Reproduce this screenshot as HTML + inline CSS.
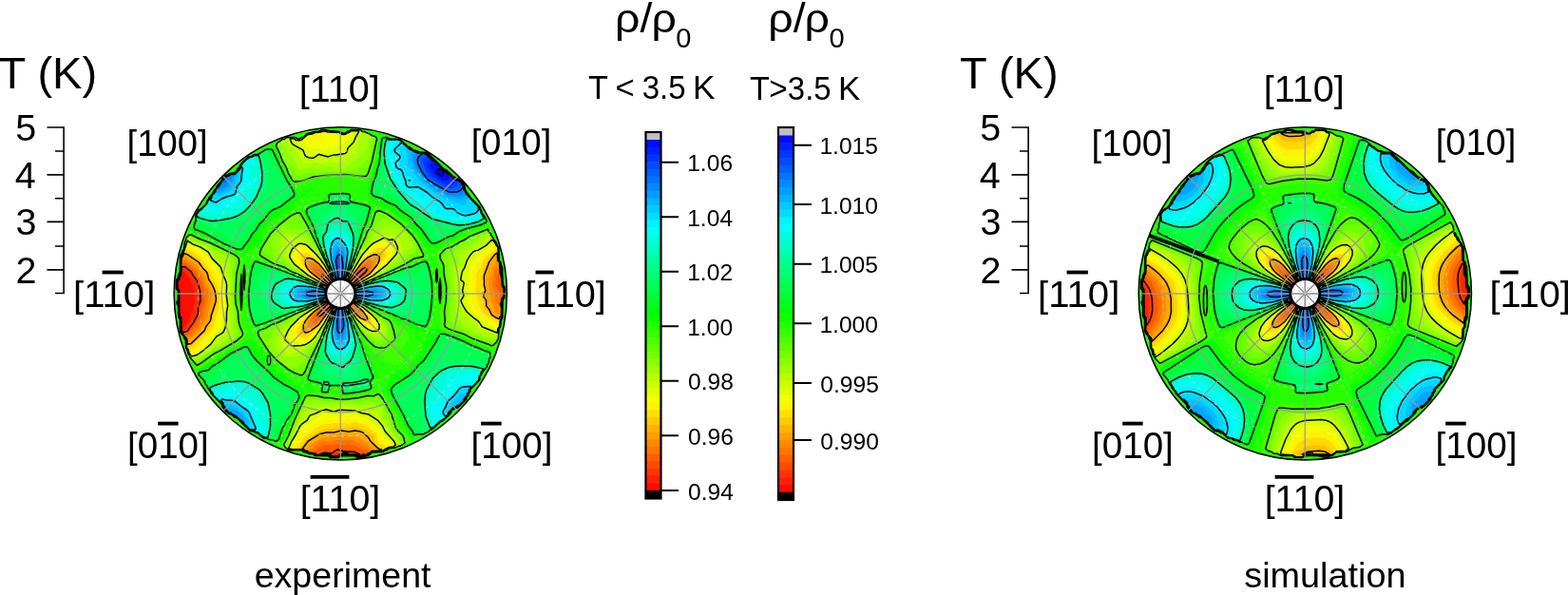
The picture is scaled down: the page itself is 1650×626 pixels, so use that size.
<!DOCTYPE html><html><head><meta charset="utf-8"><style>html,body{margin:0;padding:0;background:#fff;overflow:hidden}svg{display:block}text{font-family:"Liberation Sans", Arial, Helvetica, sans-serif;fill:#000}</style></head><body>
<svg width="1650" height="626" viewBox="0 0 1650 626">
<defs>
<clipPath id="c0"><circle cx="358.3" cy="308.9" r="175.1"/></clipPath>
<clipPath id="c1"><circle cx="1373.3" cy="308.9" r="175.1"/></clipPath>
</defs>
<rect width="1650" height="626" fill="#fff"/>
<g clip-path="url(#c0)">
<rect x="181.2" y="131.8" width="354.2" height="354.2" fill="#ff0d00"/>
<path fill="#ff2600" d="M179.2 488 537.4 488 537.4 129.8 179.2 129.8 179.2 486ZM191.2 345.1 190.8 333.9 189.1 331.9 188.9 329.9 188.9 305.9 187.2 303.7 186.9 301.9 186.9 295.9 188.9 293.9 189.2 291.5 190.9 289.9 191.2 286.7 193.2 286.2 195.2 286.9 196.2 287.9 199.2 294.1 201.8 297.9 204.5 305.9 204.5 311.9 205.1 315.9 205.1 317.9 203.2 322.1 200.4 333.9 195.2 342.8 193.2 344.1ZM345.3 322.2 345.3 321.6 345.6 321.9ZM347.3 320.8 346.5 319.9 347.3 319.2 348 319.9ZM349.3 318.7 348.5 317.9 349.3 317.4 349.8 317.9ZM351.3 316.3 350.9 315.9 351.5 315.9ZM353.3 314 353.3 313.9ZM355.3 311.9 355.3 311.9ZM359.3 308 359.3 307.9ZM361.3 305.9 361.3 305.9ZM363.3 303.9 363.3 303.9Z"/>
<path fill="#ff4000" d="M179.2 488 537.4 488 537.4 129.8 179.2 129.8 179.2 486ZM191.2 347.9 190.7 333.9 189 331.9 188.8 329.9 188.8 305.9 187.1 303.9 186.8 295.9 188.8 293.9 189.2 291.2 190.6 289.9 191.2 283.1 193.2 282.9 195.2 283.3 198.7 285.9 202.1 291.9 205.5 295.9 208.3 305.9 208.5 315.9 208.4 317.9 206.3 323.9 206.4 329.9 205.5 331.9 196.6 345.9 195.2 347 192 347.9ZM339.3 328.5 338.9 327.9 341.5 323.9 345.2 319.9 350.2 315.9 351.3 315.3 351.9 315.9 349.3 319.8 343.3 325.8 340.1 327.9ZM349.3 480 349.3 479.4 355.3 476 359.3 477.4 359.4 478 357.3 478 355.3 480 351.3 480ZM361.3 306 361.6 305.9ZM363.3 304.1 363.3 303.4 363.8 303.9ZM365.3 302.3 364.9 301.9 365.3 301.3 366 301.9ZM367.3 300.4 366.8 299.9 367.3 299.2 368.1 299.9ZM369.3 298.5 368.7 297.9 369.3 297.1 370.3 297.9ZM371.3 296.9 370.5 295.9 371.3 294.7 379.3 285.9 383.3 284 383.4 285.9 372.9 295.9ZM343.3 294.5 342.6 293.9 343.3 293.3 343.8 293.9ZM345.3 296.3 344.7 295.9 345.3 295.4 345.7 295.9ZM347.3 298.2 346.9 297.9 347.3 297.5 347.5 297.9ZM353.3 314.4 352.8 313.9 353.6 313.9ZM355.3 312.1 355.4 311.9ZM357.3 310 357.4 307.9 359.4 307.9 359.3 308.7 358 309.9Z"/>
<path fill="#ff5900" d="M179.2 488 537.4 488 537.4 129.8 179.2 129.8 179.2 486ZM193.2 350.3 191.1 347.9 190.5 333.9 188.9 331.9 188.7 305.9 187 303.9 186.7 301.9 186.7 295.9 188.6 293.9 189.2 290.9 190.3 289.9 190.9 287.9 191.2 279.8 193.2 279.6 195.2 280 201.2 284.8 208.6 295.9 211.5 305.9 211.6 311.9 212.4 315.9 212 317.9 209.4 323.9 209.6 329.9 208.7 331.9 204.6 339.9 198.9 347.9 197.2 349.5 195.2 350.1ZM349.3 480.1 347.3 478.1 333.3 478 333.3 477.4 339.3 475.2 343.3 475.1 347.3 476 349.3 475.7 353.3 472.2 355.3 471.6 363.3 473.5 373.3 474.2 379.3 477 383.3 476.7 385.3 477.1 385.4 478 367.3 478.1 365.3 476.2 363.3 476.1 361.3 476.3 359.7 478 357.3 478.2 355.3 480.1 351.3 480.2ZM527.4 302.3 527.4 301.9ZM529.4 305.9 528.1 303.9 529.4 303.9ZM333.3 334.2 332.9 331.9 334.4 329.9 346.8 317.9 353.3 313.4 353.8 313.9 353.3 314.9 347.3 322.7 339.3 331.1 335.3 333.9ZM355.3 312.4 354.8 311.9 355.5 311.9ZM357.3 310.1 357.3 307.8 359.5 307.9 359.3 309.3 358.7 309.9ZM361.3 306.1 361.3 305.4 361.8 305.9ZM363.3 304.4 362.8 303.9 363.3 303 364.2 303.9ZM365.3 302.8 364.5 301.9 365.3 300.6 377.3 286 381.3 282.4 383.3 281.3 385.3 281 386.6 281.9 386.7 283.9 385.7 285.9 366.7 301.9ZM349.3 300.7 345.2 297.9 340.7 293.9 335.9 287.9 337.3 286.8 341.3 289.6 347.3 295.9 350 299.9ZM351.3 302.2 350.8 301.9 351.3 301.4 351.6 301.9ZM353.3 304 353.4 303.9ZM355.3 306 355.4 305.9Z"/>
<path fill="#ff7300" d="M179.2 488 537.4 488 537.4 129.8 179.2 129.8 179.2 486ZM195.2 352.7 193.2 351.8 193 349.9 191 347.9 190.7 335.9 190.4 333.9 188.8 331.9 188.6 329.9 188.6 305.9 186.9 303.9 186.6 301.9 186.6 295.9 188.5 293.9 189.2 290.6 190.7 287.9 191.2 278.9 192.6 277.9 193.2 276.1 195.2 276.7 203.9 283.9 207.2 289.6 210.6 293.9 214.8 305.9 214.8 311.9 215.7 315.9 215.2 319.2 212.9 323.9 211.9 331.9 207.2 341.9 200.6 349.9 197.2 352.2ZM349.3 480.2 347.3 478.4 333.3 478.1 331.3 476.1 328.6 476 330.2 474 341.3 468.2 347.3 469 355.3 467.2 361.3 468.3 367.3 467.2 375.3 469.7 379.3 472.5 385.3 473.8 388.5 476 387.3 476.1 385.3 478.2 381.3 478.3 367.3 478.2 365.3 476.5 363.3 476.4 361.3 476.7 360.1 478 357.3 478.3 355.3 480.3 351.3 480.3ZM527.4 316 526.2 315.9 526.5 309.9 522.7 301.9 522.4 291.9 525.4 285.5 525.6 289.9 527.5 291.9 527.7 301.9 529.5 303.9 529.5 311.9 527.4 313.9 527.4 315.9ZM329.3 338 329.1 335.9 329.8 333.9 332.5 329.9 346.3 317.9 353.3 313.2 354 313.9 351.3 318.3 341.3 330.4 337.3 334.5 331.3 338.4ZM355.3 312.6 354.6 311.9 355.5 311.9ZM357.3 310.1 357.3 307.8 359.6 307.9 359.3 309.9ZM361.3 312 361.4 311.9ZM363.3 314 363.4 313.9ZM365.3 316 365.4 315.9ZM367.3 318.1 367.5 317.9ZM369.3 320.7 368.9 319.9 369.3 319.4 370.1 319.9ZM371.3 322.9 370.5 321.9 371.3 321.1 372.3 321.9ZM373.3 324.4 372.7 323.9 373.3 323.3 373.8 323.9ZM351.3 302.6 341.9 295.9 333.2 287.9 331.3 285.9 330.3 283.9 330 281.9 331.3 280.8 333.3 281.5 339.3 286.2 345.3 292.6 352 301.9ZM353.3 304.3 352.6 303.9 353.3 303.2 353.7 303.9ZM355.3 306 354.9 305.9 355.3 305.5 355.4 305.9ZM361.3 306.1 361.3 305.2 362 305.9ZM363.3 304.6 362.6 303.9 363.3 302.6 373.3 289.6 379.3 282.6 383.3 279.4 387.3 278.2 389 279.9 389 281.9 387.2 285.9 364.7 303.9Z"/>
<path fill="#ff8c00" d="M179.2 488 537.4 488 537.4 129.8 179.2 129.8 179.2 486ZM195.2 354.1 193.1 351.9 192.8 349.9 190.8 347.9 190.6 335.9 190.2 333.9 188.7 331.9 188.5 329.9 188.5 305.9 186.8 303.9 186.5 301.9 186.5 295.9 188.3 293.9 189.2 290.3 190.6 287.9 191.2 278 193.2 273.3 197.2 275.4 205.2 281.5 209.2 287.6 211.9 289.9 213.3 291.9 215.3 299.9 218.6 305.9 219.3 309.9 218.2 317.9 216.5 323.9 215.5 331.9 214.3 335.9 208.1 345.9 201.2 352.7 199.2 354.2 197.2 354.8ZM349.3 480.4 347.3 478.6 345.3 478.3 333.3 478.3 331.3 476.4 326.9 476 326.3 474 327.3 472.8 337.3 465.1 339.3 464.2 347.3 464.7 355.3 462.6 359.3 463.7 365.3 462.3 371.3 463.3 379.3 467.6 385.3 470 388.6 472 390.5 474 389.5 476 387.3 476.4 385.3 478.3 381.3 478.6 367.3 478.3 365.3 476.8 363.3 476.6 361.3 477.1 360.5 478 357.3 478.5 355.3 480.4 351.3 480.4ZM525.4 321.7 522.1 317.9 521.3 315.9 521.2 309.9 518.2 301.9 517.8 297.9 518.8 291.9 521.3 283.9 525.4 277.9 525.7 287.9 526.2 289.9 527.6 291.9 528.1 301.9 529.7 303.9 529.6 311.9 527.7 313.9 527.4 316.6 525.9 317.9 525.5 319.9ZM527.4 326.4 526.7 323.9 527.4 323.8 527.4 325.9ZM327.3 341.1 326.3 339.9 326.2 337.9 326.9 335.9 331 329.9 345.7 317.9 353.3 313 354.2 313.9 353.3 315.8 341.3 331.6 333.3 339.9 329.3 341.5ZM355.3 312.8 354.4 311.9 355.6 311.9ZM357.3 310.2 357.3 307.7 359.6 307.9 359.3 310ZM361.3 312.2 361.6 311.9ZM363.3 314.5 363.3 313.6 363.9 313.9ZM365.3 316.8 364.8 315.9 365.3 315.4 366.2 315.9ZM379.3 330 377.3 329.8 373.3 326.4 369.3 322.1 366.4 317.9 367.3 317 373.8 321.9 377.6 325.9 379 327.9 379.4 329.9ZM353.3 304.5 340.9 295.9 331.4 287.9 329.5 285.9 327.1 281.9 326.7 279.9 327.3 278.4 329.3 277.5 331.3 277.9 337.3 282.8 345.3 291.7 353.9 303.9ZM355.3 306.1 354.6 305.9 355.3 305.3 355.5 305.9ZM361.3 306.2 360.9 305.9 361.3 305 362.3 305.9ZM363.3 304.8 362.4 303.9 363.3 302.1 377.3 283.5 381.3 279.3 387.3 275.3 389.3 274.4 391.3 274.5 392.3 275.9 390.6 281.9 388.4 285.9 383.9 289.9 365.1 303.9Z"/>
<path fill="#ffa600" d="M179.2 488 537.4 488 537.4 129.8 179.2 129.8 179.2 486ZM197.2 357.7 196.9 355.9 192.9 351.9 192.6 349.9 190.7 347.9 190.5 335.9 190.1 333.9 188.6 331.9 188.4 329.9 188.4 305.9 186.7 303.9 186.4 301.9 186.4 295.9 188.2 293.9 189.2 290 190.5 287.9 191.6 271.9 193.2 270.3 207.2 279.3 211.2 285.3 214.3 287.9 215.5 289.9 217.2 297.9 221.5 303.9 222.6 307.9 222.5 315.9 220.3 321.9 217.9 335.9 213.2 342.2 210.3 347.9 199.2 357.5ZM349.3 480.5 347.3 478.8 345.3 478.4 333.3 478.4 331.3 476.6 326.2 476 325.3 474.6 322.5 474 327.3 468.6 333 464 337.3 461.4 339.3 460.8 347.3 460.4 353.3 459.1 363.3 459.1 373.3 459.7 381.3 462.6 390.9 470 393.9 474 391.3 474.1 389.3 476.2 387.3 476.6 385.3 478.4 381.3 478.8 367.3 478.5 365.3 477.1 363.3 476.8 360.9 478 357.3 478.6 355.3 480.5 351.3 480.5ZM527.4 331.9 523.4 330.6 521.4 329.3 520.6 327.9 519.2 321.9 517.4 318.8 516.6 315.9 513.9 297.9 514.5 293.9 516.8 287.9 517.8 281.9 523.4 272.5 523.4 273.9 525.4 275.9 526 287.9 527.7 291.9 527.9 299.9 528.4 301.9 529.8 303.9 529.7 311.9 527.9 313.9 527.4 317.2 526.6 317.9 525.9 319.9 526 321.9 527.6 323.9 527.4 331.9ZM325.3 344.7 323.7 343.9 323.3 343 323.4 339.9 325.1 335.9 329.8 329.9 345.2 317.9 355.3 311.5 355.7 311.9 355.3 313.1 349.3 322 335.3 339.8 331.3 342.9 327.3 344.4ZM357.3 310.3 356.9 309.9 357.3 307.6 359.3 307.5 359.7 307.9 359.3 310.1ZM361.3 312.4 361.3 311.7 361.8 311.9ZM379.3 332.6 377.3 331.5 371.3 325.3 363.3 314.9 362.8 313.9 363.3 313.4 372.3 319.9 379 325.9 381.8 329.9 382.1 331.9 381.3 332.6ZM353.3 304.8 340.1 295.9 328 285.9 325.1 281.9 324.4 279.9 324.2 277.9 325 275.9 327.3 275 329.3 275.2 331.3 276 335.3 279.2 345.3 291 354.1 303.9ZM355.3 306.2 354.4 305.9 355.3 305 355.6 305.9ZM361.3 306.3 360.9 305.9 361.3 304.7 377.3 282.3 383.3 276.1 389.3 272 393.3 271.4 394.4 271.9 395.7 273.9 394.6 277.9 389.6 285.9 385.1 289.9 362.5 305.9Z"/>
<path fill="#ffbf00" d="M179.2 488 537.4 488 537.4 129.8 179.2 129.8 179.2 486ZM197.2 361 196.4 355.9 192.8 351.9 192.4 349.9 190.6 347.9 190.4 335.9 189.9 333.9 188.5 331.9 188 317.9 188.3 305.9 186.5 303.9 186.3 301.9 186.3 295.9 188.1 293.9 189.1 289.9 190.3 287.9 191.1 271.9 192.5 269.9 193.2 267.2 197.2 269.2 209.2 277.3 212.2 281.9 217.2 287.5 219.2 295.4 222.4 299.9 225.2 305.9 226.4 313.9 225.9 317.9 221.9 329.9 220.9 335.9 220.1 337.9 215.4 343.9 213.9 347.9 212.1 349.9 201.2 360 199.2 360.8ZM349.3 480.6 347.3 479.1 345.3 478.6 333.3 478.5 331.3 476.8 325.6 476 323.3 474.2 320.9 474 319.8 472 326.7 464 337.3 457.7 343.3 456.6 351.3 456.3 361.3 454.6 367.3 455.9 369.3 456 373.3 455 379.6 456 385.3 460.6 387.9 464 393.3 468.4 397.3 473.1 398.9 474 391.3 474.3 389.3 476.4 387.3 476.9 385.3 478.6 381.3 479 367.3 478.6 363.3 477 359.3 478.6 357.3 478.8 355.3 480.6 351.3 480.6ZM523.4 334 519.4 332.1 517.5 329.9 516.1 325.9 513.6 321.9 513 315.9 510.6 311.9 510.4 309.9 512 305.9 510.4 297.9 510.9 289.9 512.8 285.9 513.5 281.9 515.4 277.2 520.1 269.9 523.4 266.8 523.6 273.9 525.6 275.9 526.2 287.9 527.9 291.9 528 299.9 529.9 303.9 529.8 311.9 528.1 313.9 527.4 317.8 526.2 319.9 527.7 323.9 527.6 331.9 525.4 334.6ZM321.3 348.2 320.2 345.9 320.2 341.9 322 337.9 326.6 331.9 330.9 327.9 344.7 317.9 355.3 311.4 355.8 311.9 355.3 313.3 351.3 319.6 335.3 341.4 327.3 347 323.3 348.7ZM357.3 310.4 356.8 309.9 357.3 307.5 359.3 307.4 359.8 307.9 359.3 310.2ZM361.3 312.7 361.3 311.6 362.1 311.9ZM379.3 334.2 375.3 330.8 369.3 323.7 363.3 315.4 362.5 313.9 363.3 313.1 373.1 319.9 381.9 327.9 385.5 333.9 385.3 334.7 383.3 335.4 381.3 334.9ZM355.3 306.3 339.2 295.9 326.6 285.9 323.5 281.9 322 277.9 321.9 275.9 323.3 272.8 325.3 272.3 329.3 273.3 331.3 274.4 335.3 277.7 345.3 290.2 355.7 305.9ZM361.3 306.4 360.8 305.9 361.3 304.5 377.3 281.2 381.3 276.5 385.3 272.8 391.3 269.2 395.3 268.8 397.3 269.9 398.3 271.9 397.7 275.9 395.4 279.9 390.7 285.9 387.3 289.1 362.7 305.9Z"/>
<path fill="#ffd900" d="M179.2 488 537.4 488 537.4 129.8 179.2 129.8 179.2 486ZM197.2 364.3 196.9 357.9 194.7 353.9 192.7 351.9 192.3 349.9 190.5 347.9 190.3 335.9 189.7 333.9 188.3 331.9 187.9 317.9 188.2 305.9 186.4 303.9 186.2 301.9 186.2 295.9 187.9 293.9 188.9 289.9 190.2 287.9 191.2 270.2 192.9 267.9 193.2 265.7 195.2 265 199.2 266.3 209.2 273 213.9 279.9 219.1 285.9 221.2 292.9 224.7 297.9 227.8 305.9 229.3 313.9 226.5 325.9 224.3 331.9 223.2 337.4 218.1 347.9 211 353.9 203.2 362.5 201.2 364.1 199.2 364.7ZM349.3 480.7 345.3 478.7 333.3 478.6 331.3 477.1 325.3 476.1 323.3 474.5 320.4 474 319.3 472.5 315.4 472 318.5 468 320.7 464 322.9 462 335.3 454.4 341.3 451.9 349.3 451.6 357.3 449.8 367.3 451.1 373.3 448.8 375.3 448.8 383.3 452.5 387.3 455.2 391.3 456.1 393.4 458 393.9 464 395 466 399.3 469.9 404.7 472 403.3 472.1 401.3 474.2 391.3 474.5 389.3 476.5 387.3 477.2 385.3 478.7 379.3 479.3 367.3 478.7 363.3 477.3 357.3 478.9 355.3 480.7 351.3 480.7ZM523.4 336.4 517.4 333.2 515.8 331.9 513.4 327.8 509.4 324.8 508.6 321.9 508.8 317.9 505.7 311.9 505.8 309.9 508 305.9 507.3 293.9 506.5 289.9 507 287.9 513 273.9 515.4 271.7 518.3 267.9 523.4 264.1 523.8 273.9 525.7 275.9 526.5 287.9 528 291.9 528.2 299.9 530.1 303.9 530 311.9 528.3 313.9 527.4 318.4 526.5 319.9 527.8 323.9 527.7 331.9 526.1 333.9 525.4 337.3ZM319.3 352.5 318 351.9 316.5 349.9 316.6 347.9 318.5 339.9 321.4 335.9 329.8 327.9 347.2 315.9 355.3 311.3 355.9 311.9 355.3 313.5 353.3 316.8 337.3 340.4 333.3 344.6 327.3 349.3 321.3 352.8ZM357.3 310.5 356.7 309.9 356.8 307.9 357.3 307.4 359.3 307.3 359.9 307.9 359.3 310.3ZM385.3 338.4 379.3 335.4 375.3 331.8 363.3 315.8 361.3 312.9 360.9 311.9 361.3 311.5 373.8 319.9 381.2 325.9 387.9 333.9 388.8 335.9 388.3 337.9 387.3 338.5ZM355.3 306.4 338.4 295.9 325.3 285.9 322 281.9 320.1 277.9 319.5 273.9 319.9 271.9 321.1 269.9 323.3 269.2 327.3 270.6 331.3 272.8 335.3 276.4 339.3 281 345.3 289.4 355.3 304.5 355.7 305.9ZM361.3 306.5 360.7 305.9 361.3 304.3 373.3 285.7 379.3 277.5 385.3 271 393.3 265.9 395.3 265.3 401.3 265.2 403.3 266.5 403.7 267.9 397.4 279.9 390 287.9 387.5 289.9 362.9 305.9Z"/>
<path fill="#fff200" d="M179.2 488 537.4 488 537.4 129.8 179.2 129.8 179.2 486ZM199.2 367.9 197.2 365.7 196.7 357.9 194.6 353.9 192.5 351.9 192.1 349.9 190.3 347.9 190.2 335.9 188.2 331.9 187.7 317.9 188.1 305.9 186.3 303.9 186.1 301.9 186.1 295.9 187.8 293.9 188.8 289.9 190 287.9 191.1 269.9 192.6 267.9 193.2 265.4 195 263.9 195.2 261.8 201.9 263.9 211.2 270.8 217.6 279.9 221.1 283.9 222.3 285.9 223.2 289.9 227.3 295.9 231.2 307.9 231.7 311.9 229.9 327.9 227.2 333.2 225.4 339.9 221.9 347.9 220.2 349.9 215.1 353.9 210.5 359.9 205.2 365.3 203.2 366.8 201.2 367.4ZM349.3 480.8 345.3 478.8 333.3 478.8 331.3 477.3 325.3 476.3 323.3 474.7 319.9 474 317.3 472.3 310.7 472 315.3 466.7 319.3 460.2 328.9 454 333.1 450 341.3 446 347.3 446.1 351.3 445 355.3 445.5 363.3 445.2 367.3 445.8 373.3 444.1 377.3 444.8 385.3 448.1 389.3 451.7 395.3 455.6 396.9 458 397.5 464 399.3 466.4 406.6 470 405.7 472 403.3 472.4 401.3 474.3 391.3 474.7 389.3 476.7 385.3 478.8 381.3 479.5 367.3 478.8 363.3 477.5 357.3 479.1 355.3 480.9 351.3 480.9ZM525.4 340.2 514.4 333.9 507.4 328.2 505.5 325.9 504.4 319.9 502.7 315.9 500.6 303.9 500.5 299.9 502.1 295.9 500.8 289.9 501.2 287.9 505.2 281.9 509.4 271.9 516.5 265.9 523.4 261.5 523.9 273.9 525.9 275.9 526.5 285.9 528.1 291.9 528.3 299.9 530.2 303.9 530.1 311.9 528.5 313.9 526.9 319.9 528 323.9 527.9 331.9 525.9 335.9 525.4 339.9ZM321.3 356 314.3 353.9 312.5 351.9 311.9 349.9 312.1 347.9 317.6 337.9 328.6 327.9 353.4 311.9 355.3 311.3 355.9 311.9 355.3 313.8 337.3 341.8 329.3 349.9 323.3 355.1 321.4 355.9ZM357.3 310.5 356.7 309.9 356.7 307.9 357.3 307.4 359.3 307.2 360 307.9 359.3 310.4ZM385.3 340.3 379.3 336.6 375.3 332.8 369.3 325.1 361.3 313.1 360.8 311.9 361.3 311.4 379.8 323.9 389.7 333.9 390.8 335.9 391.1 337.9 390.2 339.9 387.3 340.8ZM355.3 306.5 337.6 295.9 328.7 289.9 323.9 285.9 319.3 279.9 316.4 273.9 315.9 269.9 316.9 267.9 319.3 266.2 321.3 265.9 323.3 266.3 329.3 269.8 333.3 273 341.3 282.5 355.3 304.3 355.8 305.9ZM361.3 306.5 360.6 305.9 361.3 304.1 373.3 284.7 381.3 273.5 385.3 269.3 391.3 264.5 397.3 261.2 401.3 260.4 403.3 261.1 406 263.9 407.1 265.9 407.4 267.9 406.6 269.9 403.3 273.5 399.2 279.9 388.6 289.9 363.2 305.9Z"/>
<path fill="#f2ff00" d="M179.2 488 537.4 488 537.4 129.8 179.2 129.8 179.2 486ZM199.2 370.3 198.9 367.9 197 365.9 196.5 357.9 194.4 353.9 192.4 351.9 191.9 349.9 190.2 347.9 190.1 335.9 188.1 331.9 187.6 317.9 188 305.9 186.2 303.9 186 301.9 186 295.9 187.6 293.9 190.2 285.9 190.9 269.9 192.3 267.9 193.2 265 194.6 263.9 195.2 260.3 197.2 259.5 204.6 261.9 207.2 263.8 216.2 271.9 225.2 282.9 229.2 290 230.7 293.9 233.7 307.9 234.2 313.9 234.2 321.9 233.2 328.5 229.6 335.9 228.9 341.9 227.9 343.9 223.5 349.9 217.7 355.9 215.7 359.9 214 361.9 209.2 365.3 205.2 369 201.2 370.1ZM349.3 481 345.3 478.9 333.3 478.9 329.3 476.8 325.3 476.4 323.3 474.9 319.5 474 317.3 472.4 307.5 472 309.3 468.2 313.3 463.6 321.3 452 325.3 449.7 329.3 446 337.3 444.2 341.3 441.7 343.3 441.3 347.3 441.8 351.3 441.4 357.3 441.6 363.3 439.4 365.3 439.4 369.3 440.6 375.3 440.9 385.3 443.6 387.3 444.8 391.3 449.6 397.4 454 400 458 401.3 462.8 407.3 466.9 410.3 470 407.3 470.4 406.1 472 403.3 472.8 401.3 474.5 391.3 474.9 389.3 476.8 385.3 479 381.3 479.8 367.3 478.9 363.3 477.7 357.3 479.2 355.3 481 351.3 481ZM523.4 342.8 521.4 341.1 509.4 334 502.5 327.9 501.2 325.9 497 315.9 497.2 305.9 496.2 297.9 497.3 287.9 505.2 271.9 510.9 265.9 517.4 261.9 521.4 258.4 523.4 259.9 524.1 273.9 526 275.9 526.7 285.9 528.3 291.9 528.5 299.9 530.3 303.9 530.2 311.9 528.7 313.9 527.2 319.9 528.1 323.9 528 331.9 526.2 335.9 525.4 342.3ZM319.3 358.2 311.4 355.9 309.7 353.9 309 351.9 308.7 349.9 309.3 346.9 313.3 341.9 315.6 337.9 319.8 333.9 329.3 326.6 346.2 315.9 355.3 311.2 356 311.9 355.3 314 338.1 341.9 329.3 352.2 323.3 357.6 321.3 358.3ZM357.3 310.6 356.6 309.9 356.6 307.9 357.3 307.3 359.3 307.1 360 307.9 359.9 309.9 359.3 310.5ZM387.3 342.7 381.3 339.3 375.3 333.8 369.3 325.7 361.3 313.4 360.7 311.9 361.3 311.3 365.9 313.9 380.7 323.9 391.2 333.9 393.3 337.9 393.4 339.9 392.2 341.9 389.3 343ZM355.3 306.5 353.4 305.9 336.6 295.9 327.5 289.9 322.5 285.9 314.1 275.9 311.5 271.9 311.3 269.9 312 267.9 315 263.9 317.3 262.6 319.3 262.5 323.3 263.7 329.3 268 335.3 273.6 341.3 281.3 355.3 304.1 355.9 305.9ZM361.3 306.6 360.5 305.9 361.3 303.8 373.3 283.7 381.3 272 385.3 267.4 391.3 262 395.3 259.5 399.3 257.8 403.3 257.6 406.7 259.9 408.2 261.9 410 265.9 410 267.9 409.3 269.9 399.1 281.9 392.5 287.9 386.7 291.9 363.3 305.9ZM331.3 149.2 329.6 147.8 328.5 143.8 327.3 142.5 325.3 141.8 329.3 141.7 331.3 141.2 332.5 139.8 333.3 139.7 354.3 139.8 352.4 143.8 351.3 144.8 345.3 141.7 343.3 141.5 341.3 142.1 339.3 143.6 337.3 146.2 333.3 148.5Z"/>
<path fill="#d9ff00" d="M179.2 488 537.4 488 537.4 129.8 179.2 129.8 179.2 486ZM201.2 372.6 199.2 371.9 198.6 367.9 196.8 365.9 196.3 357.9 194.9 355.9 194.3 353.9 192.3 351.9 191.7 349.9 190.1 347.9 190 335.9 188 331.9 187.5 317.9 187.9 305.9 186.1 303.9 185.9 301.9 185.9 295.9 187.5 293.9 190.1 285.9 190.7 269.9 192.1 267.9 193.2 264.7 194.2 263.9 195.2 259.4 196.9 257.9 197.2 256.5 207.2 260.6 209.1 261.9 217.2 268.5 228.6 281.9 232.4 289.9 235.5 299.9 237.5 321.9 235.2 333.6 233.2 337.9 233.1 343.9 232.5 345.9 231.2 347.5 227.2 349.8 223.1 353.9 218 361.9 216 363.9 211.2 367.1 207.2 370.8 205.2 372 203.2 372.4ZM347.3 480 345.3 479.1 333.3 479 329.3 477 325.3 476.6 323.3 475.1 319.3 474.1 317.3 472.6 305.3 472 307.8 466 313.9 458 317.3 450.8 319.3 448.4 324 446 329.3 441.1 335.3 438.7 341.3 435.2 343.3 434.8 349.3 437.8 353.3 437.6 359.3 434.9 363.3 435.2 369.3 436.5 375.3 436.5 379.3 438.5 387.3 440.5 399.3 450.9 405.3 460 411.8 466 413.1 468 413.4 470 407.3 470.9 406.4 472 403.3 473.1 401.3 474.7 391.3 475.1 389.3 477 385.3 479.1 381.3 480 373.3 479.1 367.3 479.1 363.3 478 357.3 479.4 355.3 481.1 349.3 481.1ZM521.4 346 509.4 339 501.4 331.8 495.8 325.9 492.4 317.9 492 315.9 492.8 309.9 491.4 305.9 491.4 303.9 493 297.9 493 289.9 493.8 285.9 493.3 279.9 494.1 277.9 499.4 271.5 503.4 267.9 509.4 263.2 515.1 259.9 519.4 255.5 523.7 259.9 524.3 273.9 526.2 275.9 526.9 285.9 528.4 291.9 528.6 299.9 530.4 303.9 530.4 311.9 528.9 313.9 527.5 319.9 528.3 323.9 528.2 331.9 526.5 335.9 525.4 343 524.2 343.9 523.4 347.3ZM315.3 360.1 309.3 359.1 305.7 355.9 304.9 353.9 305.7 349.9 307 345.9 308.5 343.9 315.4 335.9 326.1 327.9 345.8 315.9 355.3 311.1 356.1 311.9 355.3 314.2 351.3 321.4 339.3 341.6 331.3 352.3 325.8 357.9 323.3 359.7 321.3 360.5 317.3 360.4ZM357.3 310.7 356.5 309.9 356.6 307.9 357.3 307.2 359.3 307 360.1 307.9 360 309.9 359.3 310.5ZM387.3 344.6 381.3 340.7 375.3 334.8 369.3 326.4 361.3 313.6 360.6 311.9 361.3 311.2 366.2 313.9 381.6 323.9 392.6 333.9 395.4 337.9 396.4 341.9 395.3 344.4 393.3 345.3 389.3 345.2ZM353.3 305.9 326.1 289.9 321.1 285.9 309.3 274 307.4 269.9 307.8 267.9 312.2 261.9 315.3 259.2 317.3 259 321.3 260 323.3 261.1 331.3 268 339.3 277.1 355.3 303.9 356 305.9 355.3 306.6ZM361.3 306.7 360.4 305.9 361.3 303.6 372.5 283.9 383.3 267.5 391.3 259.7 395.3 257.2 401.3 254.6 403.3 254.4 405.3 255.1 412.9 259.9 413.6 261.9 413.6 263.9 412.9 267.9 411.9 269.9 405.2 277.9 393.9 287.9 387.9 291.9 363.3 306ZM339.3 158.6 335.3 156.6 333.3 156.3 329.3 157.1 327.3 156.3 323.3 153.2 320.5 151.8 319.3 148.7 319.1 145.8 321.3 143.6 323.3 143.1 324.5 141.8 329.3 141.2 331.1 139.8 333.3 139.5 341.3 138.7 355.3 139.6 357 139.8 359.3 141.6 363.3 141.6 365.3 141.1 366.6 139.8 369.3 139.3 371 137.8 372.4 137.8 369.3 144.4 363.3 148.2 359.3 152.4 351.3 155.7 347.3 155.5 345.3 155.9 343.3 157.8 341.3 158.7Z"/>
<path fill="#bfff00" d="M179.2 488 537.4 488 537.4 129.8 179.2 129.8 179.2 486ZM201.2 374.9 201.1 373.9 199 371.9 198.3 367.9 196.6 365.9 196.1 357.9 194.7 355.9 194.1 353.9 192.1 351.9 191.5 349.9 190 347.9 189.9 335.9 187.9 331.9 187.4 317.9 187.8 305.9 185.9 303.9 185.8 301.9 185.8 295.9 187.3 293.9 188.3 289.9 189.6 287.9 190 285.9 190.5 269.9 193.8 263.9 197.2 253.2 203.2 257.1 210.7 259.9 219.2 265.1 223.1 271.9 231.2 279.9 232.6 281.9 235.1 289.9 237.7 295.9 238.7 301.9 238.2 309.9 239.7 321.9 238.5 327.9 238.4 335.9 236.9 345.9 236 347.9 233.2 350.9 228 353.9 222 361.9 215.2 367.8 207.2 373.5 203.2 374.5ZM347.3 480.3 345.3 479.2 333.3 479.1 329.3 477.1 325.3 476.8 323.3 475.3 319.3 474.4 317.3 472.8 307.3 472.6 303.5 472 307.3 463.5 310.8 458 315.3 449 317.3 446.4 323.3 442.2 325.5 438 327.3 436.6 331.3 435.4 337.3 432.5 343.3 430.7 351.3 433.3 357.3 431.3 373.3 431.9 381.3 434.7 387.9 436 397.3 442.1 402.4 448 405.3 454 414.5 464 416.5 468 415.3 468.5 414.4 470 409.3 470.5 401.3 474.9 391.3 475.3 387.3 478.3 381.3 480.3 373.3 479.3 367.3 479.2 363.3 478.2 357.3 479.5 355.3 481.2 349.3 481.2ZM523.4 350.3 507.4 343.9 503.4 337.8 499.4 335.2 491 327.9 487.4 321.9 485.4 317.3 485.4 315.2 487.7 311.9 487.9 309.9 486.6 305.9 488.3 297.9 487.4 296.4 485.4 295.1 484.8 293.9 486.3 285.9 488.8 281.9 491.4 274.2 495.2 267.9 497.4 265.4 499.4 264.2 503.4 263.1 511.4 258.4 517.4 252.4 519.4 253.6 521.4 256.3 521.9 257.9 523.9 259.9 524.5 273.9 526.3 275.9 527.2 281.9 527.1 285.9 528.5 291.9 528.8 299.9 530.6 303.9 530.5 311.9 529.1 313.9 527.8 319.9 528.4 323.9 528.3 331.9 526.2 337.9 525.4 343.8 523.8 345.9 523.4 349.9ZM307.3 364 300.3 357.9 299.5 355.9 303.2 347.9 305.8 343.9 315.7 333.9 327.8 325.9 349 313.9 355.3 311 356.2 311.9 355.3 314.5 341.3 339.6 331.9 353.9 329.3 357 325.9 359.9 321.3 362.6 317.3 363.4 307.6 363.9ZM357.3 310.8 356.4 309.9 356.5 307.9 357.3 307.1 359.3 306.9 360.2 307.9 360 309.9 359.3 310.6ZM391.3 348.3 387.3 346.6 383.3 343.7 375.3 335.8 369.3 327.1 361.3 313.9 360.6 311.9 361.3 311.1 366.6 313.9 382.5 323.9 392 331.9 395.9 335.9 399.1 341.9 399 345.9 397.3 347.9 393.3 348.7ZM353.3 306 338.1 297.9 324.6 289.9 317.3 283.6 311.3 279.4 306.8 273.9 304.8 269.9 304.9 267.9 307.6 261.9 313.3 257 315.3 256.2 321.3 257.2 323.3 258.4 331.3 266.1 339.3 275.7 355.3 303.7 356 305.9 355.3 306.7ZM361.3 306.8 360.3 305.9 361.3 303.3 371.3 284.8 382.9 265.9 391.3 257.1 403.3 250.6 405.3 250.4 409.3 252.5 413.3 252 415.3 253.3 417.7 257.9 418.6 261.9 418.5 263.9 416.6 267.9 407.3 278.3 395.4 287.9 389.2 291.9 363.3 306.1ZM325.3 165.9 323.3 165.3 321.1 163.8 318.8 157.8 308 151.8 306.5 149.8 305.2 145.8 309.3 145.7 311.3 147.6 315.3 147.7 317.3 147.1 323.6 141.8 329.3 140.7 331.3 139.5 337.3 139 341.3 137.9 345.3 138.9 357.3 139.6 359.3 141.2 361.3 141.4 363.3 141.3 365.5 139.8 367.3 139.4 369.3 137.8 377.3 137.8 377.3 139.1 374.5 143.8 372 149.8 366.1 155.8 365.2 159.8 363.3 161.5 353.3 163.1 351.3 162.9 345.3 164.9 335.3 162.3 331.3 165.5 327.3 166.2Z"/>
<path fill="#a6ff00" d="M179.2 488 537.4 488 537.4 129.8 179.2 129.8 179.2 486ZM201.2 376.1 200.7 373.9 198.7 371.9 198 367.9 196.4 365.9 195.9 357.9 194.4 355.9 194 353.9 192 351.9 191.4 349.9 189.9 347.9 189.8 335.9 187.8 331.9 187.2 317.9 187.7 305.9 185.8 303.9 185.7 301.9 185.7 295.9 187.2 293.9 188.1 289.9 189.5 287.9 189.9 285.9 190.3 269.9 194.4 261.9 197.2 251.5 199.2 251.7 205 255.9 211.8 257.9 219.6 261.9 222 263.9 225.2 269.4 227.2 271.4 229.2 272.6 233.2 273.4 235.2 275.3 238.1 279.9 237.7 287.9 240.5 293.9 241.5 297.9 241.7 305.9 240.7 311.9 241.6 321.9 241.1 327.9 241.6 335.9 240.1 347.9 239.2 350.7 237.2 353.3 231.2 356.7 227.9 361.9 221.2 365.7 216.3 369.9 209.2 374.4 207.2 375.5 203.2 376.5ZM347.3 480.5 345.3 479.3 333.3 479.3 329.3 477.2 325.3 477 323.3 475.6 319.3 474.6 317.3 473 307.3 472.9 303 472 302.9 470 304.6 466 313.3 447.8 318.9 438 323.3 432.2 329.3 432 335.3 428.8 339.3 428.7 343.3 427.9 349.3 429.5 355.3 427.5 357.3 427.5 371.3 428.1 375.3 429.2 383.3 430 391.3 433.1 395.3 432.8 397.3 433.7 400 440 405.3 446.3 408.4 452 417.3 463.3 419.4 468 417.3 468.4 415.3 470 413.3 470.6 409.3 470.8 401.3 475.1 391.3 475.5 387.3 478.6 381.3 480.6 363.3 478.5 357.3 479.7 355.3 481.3 349.3 481.3ZM521.4 352.4 504.9 347.9 502.7 345.9 501.4 343.5 495.8 339.9 493.4 334.7 487.4 330.7 481.6 315.9 482.6 303.9 479.5 293.9 479.7 291.9 481.4 287.9 481.4 283 482.1 281.9 485.6 279.9 486.7 277.9 488.8 269.9 495.4 262.8 502.2 259.9 507.4 254.3 512.8 249.9 515.4 248.8 517.5 249.9 517.8 251.9 521.5 255.9 522.1 257.9 524.1 259.9 524.6 273.9 526.5 275.9 527.4 281.9 527.3 285.9 528.6 291.9 529 299.9 530.2 301.9 530.7 303.9 530.6 311.9 528.6 315.9 528 319.9 528.6 323.9 528.5 331.9 526.4 337.9 525.6 343.9 524 345.9 523.4 353.2ZM303.3 372.6 301.3 371.9 293.9 359.9 294.6 355.9 300.5 345.9 313.3 333.9 326.4 325.9 344.7 315.9 355.3 310.9 356.3 311.9 353.3 318.7 341.3 341.1 331.3 357.2 328.6 359.9 317.3 368.3 315.3 369.4 305.3 372.5ZM357.3 310.9 356.3 309.9 356.4 307.9 357.3 307.1 359.3 306.9 360.3 305.9 370.1 285.9 381.3 265.5 389.3 256 393.3 252.5 401.3 248.2 407.3 246.4 409.3 246.4 417.3 248.4 420.2 249.9 421.1 251.9 422.9 263.9 422.5 265.9 421.2 267.9 411.3 276.4 407.3 280.8 395.3 289.2 368 303.9 361.3 306.9 360.3 307.9 360.1 309.9 359.3 310.7ZM389.3 350.2 381.3 343.6 375.3 336.8 369.3 327.8 361.3 314.1 360.5 311.9 361.3 311.1 363.5 311.9 383.5 323.9 395.7 333.9 400.5 339.9 402.5 343.9 402.7 345.9 402.3 347.9 401.3 349.3 397.3 351.3 393.3 351.6 391.3 351.1ZM353.3 306.1 337.2 297.9 323 289.9 315.3 283.8 309.3 280.5 302.9 271.9 301.6 267.9 302.5 261.9 300.8 255.9 303.3 250.7 305.3 249.5 307.3 249.8 311.3 252.1 315.3 252.6 321.3 254.4 323.3 255.2 325.3 257 339.3 274.2 355.3 303.5 356.1 305.9 355.3 306.8ZM323.3 172.3 321.3 171.5 315.3 167.2 314.2 165.8 313.3 161.4 307.5 155.8 303.3 152.7 299.7 147.8 301.3 147.6 302.7 145.8 305.3 145.5 309.3 145.4 311.3 146.9 315.3 147.3 317.4 145.8 319.3 145.3 323.3 141.6 327.3 140.9 331.3 139.3 335.3 139 341.3 137.5 347.3 138.8 357.3 139.3 359.3 140.9 361.3 141.1 363.3 141.1 365.3 139.5 367.3 139.2 369.3 137.5 371.3 137.2 377.3 137.5 378.6 137.8 379.3 138.9 381.3 139.8 383.1 139.8 381.3 141 379.3 143.8 376.8 151.8 370.2 163.8 367.3 166.8 362.9 167.8 359.3 171.8 357.3 172.3 351.3 170.8 347.3 170.7 339.3 172.2 337.3 172.2 331.3 170.1 329.3 170.4 325.3 172.1Z"/>
<path fill="#8cff00" d="M179.2 488 537.4 488 537.4 129.8 179.2 129.8 179.2 486ZM203.2 378.1 200.7 375.9 200.3 373.9 198.4 371.9 197.7 367.9 196.2 365.9 195.8 357.9 194.2 355.9 193.9 353.9 191.8 351.9 189.7 347.9 189.7 335.9 187.7 331.9 187.6 321.9 186.9 317.9 187.6 313.9 187.6 305.9 185.7 303.9 185.6 301.9 185.6 295.9 187.2 293.5 188 289.9 189.3 287.9 189.8 285.9 190.1 269.9 194.2 261.9 195.2 256.6 197.2 250.7 199.2 249.9 205.2 254.1 213.2 256.5 220.1 259.9 227.2 265 237.2 269.9 239.8 271.9 241.5 273.9 242.3 275.9 242.6 279.9 241.7 287.9 244 295.9 244.1 305.9 243.2 311.9 243.3 319.9 245.1 329.9 244.5 343.9 245.3 347.9 245.2 351.9 244.1 353.9 235.2 359.8 230.1 363.9 223.2 367 217.2 371.7 209.2 376.4 204.4 377.9ZM299.3 376 291.5 369.9 291.2 365.9 289.3 361.9 289 359.9 290.3 355.9 294 349.9 295.7 345.9 297.8 343.9 305.3 339 310.7 333.9 313.3 332.2 344.1 315.9 355.3 310.9 356.3 309.9 356.3 307.9 357.3 307 359.3 306.8 360.2 305.9 361.3 302.7 379.3 266.4 388.3 253.9 393.3 245.8 395.3 244.6 399.8 243.9 401.3 242.7 403.3 239 405.3 238.5 411.3 239.1 415.3 241.1 417.3 240.9 421.3 241.5 426 243.9 428.4 245.9 431.3 249.7 431.9 253.9 433.3 255.3 434.2 257.9 433.3 260.7 429 263.9 419.3 274.6 417.7 275.9 413.3 277.8 407.3 283.2 392.4 291.9 364.4 305.9 361.3 306.9 360.3 307.9 360.2 309.9 359.3 310.8 357.3 310.9 356.3 311.9 353.3 319.1 342.7 339.9 337.9 347.9 334 355.9 331.3 359.8 326 363.9 317.3 373.8 315.3 375 309.3 375.1 305.3 376.2 301.3 376.6ZM347.3 480.8 345.3 479.4 333.3 479.4 329.3 477.4 325.3 477.2 323.3 475.8 319.3 474.9 317.3 473.2 307.3 473.2 303.3 472.6 301.5 470 308.1 456 315.3 437.9 321.3 427.4 323.3 425.4 327.3 426.5 331.3 424.2 333.3 424 339.3 425.6 343.3 425.2 349.3 425.7 355.3 424.8 363.3 425.3 369.3 424.8 377.3 426.6 383.3 425.6 387.3 426.1 391.3 425.6 393.3 425.9 401.8 430 402.6 436 403.3 437.6 407.3 442.9 410.4 450 419.3 462.6 421.4 468 417.3 469 415.3 470.3 409.3 471 401.3 475.2 391.3 475.6 387.3 478.9 381.3 480.8 373.3 479.5 367.3 479.4 363.3 478.8 357.3 479.8 355.3 481.5 349.3 481.4ZM521.4 358 511.4 354.8 506.2 351.9 497.9 349.9 490.2 343.9 481.3 335.9 480.9 329.9 478.3 325.9 479 321.9 478.1 315.9 478.7 305.9 477.7 297.9 476.2 291.9 476.9 287.9 476.7 281.9 477.4 279.9 483 275.9 483.4 274.9 483.4 272.8 481.2 267.9 481.5 265.9 482.8 263.9 485.4 262.7 489.4 261.9 495.4 258.6 499.4 257.7 501.4 256 503.5 251.9 513.4 246.6 515.4 246.6 515.7 247.9 517.9 249.9 518.2 251.9 521.8 255.9 522.4 257.9 524.3 259.9 524.8 273.9 526.7 275.9 527.7 281.9 527.6 285.9 528.8 291.9 528.8 297.9 529.1 299.9 530.4 301.9 530.8 303.9 530.8 311.9 528.8 315.9 528.2 319.9 528.7 325.9 528.3 333.9 526.7 337.9 525.9 343.9 524.3 345.9 523.5 355.9 521.4 357.9ZM353.3 306.2 324.7 291.9 321.1 289.9 315.3 285.5 307.7 281.9 303.3 275.7 295.2 267.9 294.4 265.9 295.4 259.9 293.9 253.9 294 251.9 295 249.9 299.3 245.6 301.3 244.6 303.3 244.8 317.3 248.3 325.3 252.7 326.4 253.9 330 259.9 339.3 272.6 355.3 303.3 356.2 305.9 355.3 306.9ZM393.3 354.5 389.3 352.8 387.3 351.2 379.3 343.1 375.3 337.9 369.3 328.7 361.3 314.4 360.4 311.9 361.3 311 363.8 311.9 384.5 323.9 397.3 333.9 405.2 341.9 406.4 345.9 405.7 349.9 404.8 351.9 401.3 354 397.3 355 395.3 354.9ZM313.3 177.9 311.7 171.8 305 163.8 303.2 159.8 295.3 150.6 295.1 149.8 297.3 147.5 299.3 147.5 303.3 145.2 309.3 145.1 313.3 147 315.3 147 317.3 145.5 319.3 145 323.3 141.3 327.3 140.6 331.3 139 337.3 138.4 339.3 137.4 341.3 137.2 347.3 138.5 357.3 139.1 359.3 140.5 361.3 140.9 363.3 140.8 365.3 139.2 367.3 138.9 369.3 137.2 377.3 137.2 379.3 137.6 381.3 139.4 383.3 139.5 385.3 141.3 387.8 141.8 389.3 143.6 390.4 143.8 388 149.8 387.3 154.1 385.3 157.7 380.2 161.8 380.3 163.8 378.4 165.8 373.9 167.8 371.3 170.6 367.3 173.2 365.3 176.7 359.3 176.9 353.3 178 351.3 177.7 347.3 175.3 345.3 175.1 341.2 175.8 335.3 178.1 333.3 177.9 331.3 176.4 329.3 175.7 319.3 177 315.3 178.7Z"/>
<path fill="#73ff00" d="M179.2 488 537.4 488 537.4 129.8 179.2 129.8 179.2 486ZM203.2 378.7 200.4 375.9 199.9 373.9 198.2 371.9 197.4 367.9 196 365.9 195.6 357.9 194 355.9 193.7 353.9 191.7 351.9 189.6 347.9 189.6 335.9 187.6 331.9 187.6 321.9 186.5 317.9 187.2 316.7 187.5 313.9 187.5 305.9 185.6 303.9 185.5 295.9 187.2 293.2 187.8 289.9 189.2 287.8 189.6 285.9 189.9 269.9 193.9 261.9 195 255.9 197.2 250 199.2 248.5 202.5 249.9 207.2 253.2 213.2 254.8 221.2 258.5 243.4 269.9 245.8 271.9 246.4 273.9 246.5 277.9 244.9 285.9 246 295.9 245.1 319.9 247.3 327.9 247.6 335.9 249.6 347.9 249.5 351.9 248.8 353.9 246.9 355.9 233.2 364.4 223.2 369.1 217.2 373.8 209.2 378.5 205.2 379.7ZM347.3 481 345.3 479.5 333.3 479.5 329.3 477.5 325.3 477.3 323.3 476 319.3 475.1 317.3 473.3 307.3 473.5 303.3 472.9 300.7 470 301.1 468 306 458 315.3 434.3 321.3 422.1 323.3 420.4 331.3 419.9 341.3 422.5 345.3 422.2 363.3 423.1 371.3 422.2 377.3 423.7 385.3 421.8 393.3 422.8 401.3 425.2 403.9 428 406.4 434 409.3 439.2 412.9 450 421.1 462 422.5 466 422.2 468 419.3 468.7 415.3 470.7 409.3 471.3 407.3 472.7 401.3 475.4 391.3 475.8 387.3 479.2 383.4 480 381.3 481.1 377.3 480.8 373.3 479.6 363.3 479 357.3 480 355.3 481.6 349.3 481.5ZM517.4 360.2 505.4 355 497.4 353 491.4 349.1 477.4 342 475.3 339.9 473.8 335.9 474 331.9 473 327.9 473.9 321.9 473.6 317.9 474.5 313.9 474.2 307.9 474.9 297.9 472.1 289.9 472.4 285.9 470.9 273.9 471.4 271.7 481.4 261 489.4 256.7 493.4 253.8 497.4 252.7 503.4 248.6 513.4 244.2 515.7 245.9 516.1 247.9 518.2 249.9 518.7 251.9 522.2 255.9 522.6 257.9 524.5 259.9 525 273.9 526.8 275.9 526.8 277.9 528.1 281.9 528.9 297.9 529.3 299.9 530.7 301.9 531 303.9 530.9 311.9 528.9 315.9 528.5 319.9 528.9 325.9 528.5 333.9 526.9 337.9 526.2 343.9 524.6 345.9 523.9 355.9 522.1 357.9 521.7 359.9 519.4 361.1ZM303.3 386.1 299.3 383.8 294.4 379.9 283.2 367.9 280.9 359.9 282 357.9 284.4 355.9 285.4 353.9 285.9 349.9 287.1 347.9 291.8 343.9 303.3 337.5 311.1 331.9 347.6 313.9 355.3 310.8 356.2 309.9 356.2 307.9 355.3 307 339.2 299.9 322.9 291.9 313.3 286.1 307.1 283.9 301.3 277.4 292.6 273.9 285.8 263.9 285.1 261.9 285.2 257.9 284.3 253.9 285.3 250.4 289.3 245.8 291.3 245.6 293.3 244.4 296.8 237.9 299.3 236.7 301.3 237.4 305.3 240.9 307.3 241.3 311.3 239.7 319.3 242.2 327.3 250.8 329.3 253.8 343.3 278.5 356.3 305.9 357.3 306.9 359.3 306.7 360.1 305.9 379.3 263.8 386.9 251.9 389.3 244.9 394.4 239.9 397.3 235.8 403.3 230.7 407.3 228.6 411.3 229.8 422.6 237.9 431.3 246.6 435.3 251.5 437.3 254.9 439.1 259.9 438.8 261.9 437.6 263.9 430.3 267.9 420.8 277.9 414.9 279.9 407.3 285.2 394.1 291.9 364.6 305.9 361.3 307 360.4 307.9 360.3 309.9 361.3 310.9 364.1 311.9 385.7 323.9 406.8 339.9 408.2 341.9 409.1 345.9 408.3 353.9 407.3 355.7 399.3 358.9 397.3 359 391.3 356.6 387.3 353.8 379.3 344.9 375.3 339.2 367.3 326 360.3 311.9 359.3 310.9 357.3 311 356.4 311.9 353.3 319.6 343.3 340.3 338 349.9 335.3 356.4 331.3 362.5 327.3 365.9 325.3 370.1 322.4 373.9 320 379.9 315.3 383.1 313.2 385.9 311.3 387.1 309.3 387.5 305.3 386.9ZM313.3 184.6 311.3 183.4 308.2 179.8 305.3 173.8 299.3 167.1 296.3 157.8 292.9 151.8 294.1 149.8 297.3 147.1 299.3 147.1 303.3 144.9 309.3 144.9 313.3 146.6 315.3 146.6 317.3 145.2 319.3 144.7 323.3 141 327.3 140.3 331.3 138.8 335.3 138.6 339.3 137.1 357.3 138.8 359.3 140.2 361.3 140.7 363.3 140.5 365.3 138.9 367.3 138.7 369.3 136.9 377.3 136.9 379.3 137.3 381.3 139 383.3 139.1 389.3 142.6 393.2 143.8 393.1 145.8 391.4 149.8 390.5 155.8 388.9 159.8 388.3 165.8 387.5 167.8 385.3 170 381.3 172.3 377.3 176.2 367.3 180.6 359.3 180.3 353.3 181.4 341.3 180.8 335.3 182.4 329.3 181.3 321.3 181.9 315.3 184.7Z"/>
<path fill="#59ff00" d="M179.2 488 537.4 488 537.4 129.8 179.2 129.8 179.2 486ZM205.2 381.3 200.1 375.9 199.5 373.9 197.9 371.9 197.8 369.9 195.8 365.9 195.4 357.9 193.8 355.9 193.6 353.9 191.6 351.9 189.5 347.9 189.5 335.9 188 333.9 187.5 331.9 187.5 321.9 186.1 317.9 187.2 315.9 187.4 313.9 187.4 305.9 185.5 303.9 185.4 301.9 185.4 295.9 186.1 293.9 187.2 292.8 187.6 289.9 189.5 285.9 189.7 269.9 192.2 263.9 193.7 261.9 194.5 255.9 196.7 249.9 199.2 247.5 201.2 247.8 207.2 251.3 221.2 256.6 245.2 268.5 247.7 269.9 249.4 271.9 250.1 275.9 247.6 287.9 247.6 297.9 246.6 309.9 246.9 319.9 249 327.9 249.6 335.9 250.7 341.9 253.4 349.9 253.4 351.9 252.3 353.9 247.2 358.2 233.2 366.5 225.2 370.2 219.2 374.8 209.2 381.2 207.2 381.8ZM347.3 481.3 345.3 479.7 333.3 479.7 331.3 479.2 329.3 477.7 325.3 477.5 322.7 476 319.3 475.3 317.3 473.5 307.3 473.8 303.3 473.2 300.1 470 299.5 468 305.3 456.7 313.3 436 321.3 419.3 323.3 417.7 331.3 417.7 341.3 419.9 347.3 419.9 355.3 421.2 363.3 421.3 371.3 420.1 377.3 420.3 385.3 418.3 393.3 419.2 397.3 417.6 399.3 417.8 401.5 420 410.3 436 415 450 422.5 460 424.5 466 423 468 415.3 471.1 409.3 471.5 407.3 473.2 404.5 474 403.3 475.1 391.4 476 387.3 479.4 384.1 480 381.3 481.3 377.3 481.2 373.3 479.8 363.3 479.3 357.8 480 355.3 481.7 349.3 481.7ZM517.4 362.4 513.4 360.6 497.4 355.1 485.4 349 474.8 345.9 471.4 343.5 470.6 341.9 469.5 327.9 471.2 313.9 471 307.9 471.8 299.9 468.9 289.9 468.1 277.9 465.3 271.9 465.4 269.9 469.4 264.3 473.4 263.6 475.4 262.7 483.4 256.5 489.4 253.6 493.4 250.9 513.4 242.2 513.8 243.9 516.1 245.9 516.6 247.9 518.5 249.9 519.1 251.9 522.5 255.9 522.9 257.9 524.7 259.9 525.1 273.9 527 275.9 527 277.9 528.5 281.9 529.1 297.9 529.4 299.8 530.9 301.9 531.1 303.9 531 311.9 529 315.9 528.7 319.9 528.7 333.9 527.1 337.9 526.5 343.9 524.9 345.9 524.2 355.9 522.1 359.9 519.4 362.4ZM311.3 391.9 303.3 388 295.3 382.1 285.2 371.9 273.2 353.9 272.5 349.9 274.9 347.9 281.3 346.6 284.3 343.9 287.3 342.2 295.3 339.3 300.8 335.9 312.8 329.9 319.3 327.4 347.3 313.9 355.3 310.7 356.1 309.9 356.1 307.9 355.3 307 321.2 291.9 315.3 288.5 305.3 284.3 299.3 279.7 288.1 275.9 285.8 273.9 283.3 269.8 281.3 268.1 279.3 267.5 277.3 265.3 276.9 263.9 277.3 260.3 278.9 257.9 281.2 251.9 287.1 243.9 295.8 235.9 307.3 227.4 311.3 225.7 314 225.9 321.3 235.9 326.3 245.9 331.3 254.4 343.3 277.5 356.3 305.9 357.3 306.8 359.3 306.6 360 305.9 377.3 265.8 384.6 251.9 387.3 243.9 392.2 237.9 395.7 225.9 397.3 223.7 399.3 223.2 401.3 223.4 403.3 223.8 407.3 225.8 421.3 235.5 431.8 245.9 437.9 253.9 444.1 267.9 443.3 269.1 441.3 269.6 437.3 268.8 433.9 269.9 431.3 271.8 427.4 275.9 421 279.9 415.3 282.1 408.8 285.9 401.3 288.8 395.7 291.9 369.3 303.9 361.3 307.1 360.5 307.9 360.4 309.9 361.3 310.8 364.3 311.9 385.3 322.9 398.9 331.9 403.3 335.4 408.1 337.9 410.8 341.9 413 355.9 411.7 357.9 409.3 359.6 399.3 363.1 395.3 362.3 389.3 358.2 387.3 356.5 379.3 347 367.3 326.8 360.2 311.9 359.3 311 357.3 311.1 356.5 311.9 353.3 319.9 343.3 341.6 339.9 347.9 337.3 354.5 327.3 373.9 324.6 377.9 319.4 389.9 317.3 392.1 313.3 392.2ZM309.3 188 303.4 179.8 302.5 175.8 297.5 167.8 294.7 159.8 291.5 153.8 291.7 151.8 293.3 149.6 295.3 148.7 297.3 146.8 299.3 146.7 301.3 145.1 303.3 144.6 309.3 144.6 313.3 146.3 315.3 146.3 317.3 144.8 319.3 144.5 323.3 140.7 327.3 140 331.3 138.5 335.3 138.4 339.3 136.8 343.3 136.8 347.3 137.9 357.3 138.6 361.3 140.4 363.3 140.2 365.3 138.6 367.3 138.4 369.3 136.6 379.3 136.9 381.3 138.7 383.3 138.8 391.3 143 394.5 143.8 395.5 145.8 394.1 149.8 391 165.8 389.3 171.7 385.3 180.2 383.7 181.8 379.3 183.3 361.3 182.3 355.3 183.2 329.3 184.6 323.3 186.3 317.3 188.9 315.3 189.3 311.3 188.9Z"/>
<path fill="#40ff00" d="M179.2 488 537.4 488 537.4 129.8 179.2 129.8 179.2 486ZM207.2 385.9 206.7 383.9 199.8 375.9 197.7 371.9 197.6 369.9 195.6 365.9 195.2 357.9 193.6 355.9 193.4 353.9 189.8 349.9 189.4 347.9 189.4 335.9 187.7 333.9 187.4 321.9 186 319.9 185.7 317.9 186.3 315.9 187.2 315 187.3 307.9 187.3 305.9 185.4 303.9 185.3 295.9 185.7 293.9 187.2 292.4 188.1 287.9 189.4 285.9 189.5 269.9 189.9 267.9 191.2 266.6 191.8 263.9 193.5 261.9 194 255.9 196 249.9 199.2 246.9 201.2 246.6 204.8 247.9 209.2 250.4 223.2 255.9 247.2 267.7 250.4 269.9 252 271.9 252.6 273.9 252.2 277.9 249.3 289.9 248.1 311.9 249.1 321.9 250.8 325.9 251.1 333.9 252.5 341.9 256.2 349.9 255.2 353.9 247.2 360.9 237.7 365.9 229.2 371.5 223.2 374.8 209.2 384.5ZM347.3 481.5 345.3 479.8 331.3 479.5 329.3 477.8 325.3 477.7 323.3 477.1 322.2 476 319.3 475.6 317.3 473.7 309.3 473.7 307.3 474.3 303.3 473.5 299.4 470 298 468 303.3 458 308.6 444 321.3 416.6 323.3 415.3 331.3 415.8 341.3 417.7 347.3 417.7 355.3 419.4 363.3 419.5 374.9 418 387.3 415.4 393.3 415.6 397.3 413.5 399.3 413.7 404 420 412.9 436 417.3 450.3 419.3 452.9 423.4 456 425.1 458 426.9 462 427.1 466 425.3 466.5 423.3 468.5 421.3 469.3 419.3 469.5 417.3 470.9 409.3 471.8 407.3 473.6 405 474 403.3 475.6 392.1 476 387.3 479.7 384.7 480 383.3 481.3 377.3 481.5 375.3 481.2 373.3 479.9 363.3 479.5 358.4 480 357.3 481.1 355.3 481.8 349.3 481.8ZM517.4 364.4 511.4 361.7 497.4 357 485.4 351 475.1 347.9 470.3 345.9 467 343.9 466.2 341.9 467.1 337.9 466.7 327.9 468.6 317.9 468.9 301.9 467.9 293.9 466.5 287.9 466.3 279.9 465.4 277.3 463.1 273.9 462 269.9 462.2 267.9 463.1 265.9 469.4 260.6 477.4 257.7 483.4 254 488.1 251.9 493.4 248.2 497.4 246.9 501.4 244.7 513.4 240.5 514.4 243.9 516.5 245.9 517 247.9 518.8 249.9 520.9 253.9 522.8 255.9 523.2 257.9 525 259.9 525.3 273.9 527.1 275.9 527.4 278.9 528.4 279.9 528.8 281.9 529.2 297.9 531.1 301.9 531.2 311.9 530.7 313.9 529.2 315.9 529 333.9 528.6 335.9 527.3 337.9 526.8 343.9 525.1 345.9 524.6 355.9 522.6 359.9 519.4 363.1 517.7 363.9ZM313.3 394.2 305.3 390.2 297.3 384.6 291.8 379.9 284.3 371.9 272.2 353.9 270.7 349.9 271.3 347.9 275.1 345.9 279.3 344.8 284.1 341.9 293.3 338.4 302 333.9 319.3 326.6 347.3 313.7 355.3 310.6 356 309.9 356.1 307.9 355.3 307.1 319.9 291.9 313.3 288.4 306.3 285.9 297.3 280.9 288.3 277.9 272.9 269.9 271.7 267.9 275.2 259.9 284.3 245.9 295.3 235.1 305.3 227.2 309.3 225 315.3 223.1 316.9 223.9 325.3 239.6 341.3 272.5 356.4 305.9 357.3 306.8 359.3 306.5 377.3 264 383.8 249.9 386 243.9 390.8 235.9 394.2 223.9 395.6 221.9 399.3 221.5 407.3 224.8 413.3 228.7 422.7 235.9 432.7 245.9 436.2 249.9 440 255.9 442.6 261.9 446 267.9 445.9 269.9 443.3 271.2 437.3 272.5 427.5 277.9 406.2 287.9 361.3 307.2 360.6 307.9 360.5 309.9 361.3 310.7 384.9 321.9 403.3 333.1 409.9 335.9 411.7 337.9 416 347.9 417.5 355.9 417.3 358 416.1 359.9 411.3 364.5 407.3 369.3 399.3 367.8 393.3 365.3 387.3 359.7 379.3 349.4 367.3 327.7 360.1 311.9 359.3 311.1 357.3 311.2 356.6 311.9 353.5 319.9 340.6 347.9 337.3 356.3 325.9 379.9 321.3 391.8 319.3 394.9 317.3 395.7 315.3 394.9ZM309.3 192 307.3 190.2 303.3 183 300.6 175.8 297 169.8 291 155.8 290.3 153.8 290.7 151.8 293.3 148.9 295.3 148.2 297.3 146.4 299.3 146.4 301.3 144.6 303.3 144.3 309.3 144.3 311.3 144.6 313.3 145.9 315.3 145.9 317.3 144.5 319.3 144.2 323.3 140.4 326.9 139.8 329.3 138.6 335.3 138.2 339.3 136.4 343.3 136.4 348.9 137.8 357.3 138.3 361.3 140.2 363.3 140 365.3 138.2 367.3 138.2 369.3 136.3 379.3 136.5 381.3 138.3 385.3 139.1 387.3 140.4 389.3 140.9 391.3 142.5 393.3 142.7 396 143.8 397.2 145.8 391.3 172.8 387.7 183.8 386.2 185.8 385.3 186.4 379.3 186.5 373.3 185.1 363.3 184 343.3 185 329.3 186.9 319.3 190.8 311.3 192.2Z"/>
<path fill="#26ff00" d="M179.2 488 537.4 488 537.4 129.8 425.5 129.8 425.6 131.8 423.3 132.1 423.3 130.7 424.5 129.8 247.4 129.8 247.2 130.5 247 129.8 179.2 129.8 179.2 486ZM183.2 314.1 183.2 313.5 183.6 313.9ZM197.2 400 195.7 397.9 197.2 397.5 197.9 397.9 197.3 400ZM201.2 480.9 200.2 480 200.2 478 201.2 476.5 203.2 477.5 203.2 480.1ZM207.2 388 205.8 385.9 205.8 383.9 202 379.9 198.1 373.9 197.2 369.5 195.6 367.9 195.2 358.9 193.4 355.9 193.3 353.9 189.4 349.9 189.3 335.9 187.4 333.9 187.3 321.9 185.5 319.9 185.3 317.9 185.3 315.9 187.2 314.1 187.2 306.7 185.2 303.9 185.2 300.8 183.7 299.9 183.8 297.9 185.2 297.2 185.3 293.9 187.2 292.1 187.6 287.9 189.3 285.9 189.5 267.9 191.2 266.1 191.4 263.9 193.3 261.9 193.7 253.9 195.2 252.2 195.4 249.9 199.2 246.3 201.2 245.3 205.2 246.7 222 253.9 251.2 268.4 254.6 271.9 255.2 273.9 254.9 281.9 252.2 287.9 251.9 289.9 252.5 291.9 253.2 293.3 255.2 294.6 259.2 295.3 259.3 295.9 258.1 301.9 257.2 302.6 255.2 301.1 253.2 300.9 251.2 304.4 250.1 309.9 251.2 315.8 254.1 319.9 254.4 323.9 255.6 327.9 254.3 337.9 254.5 339.9 255.2 341.9 258.5 345.9 259 347.9 258.5 351.9 257.2 354.7 251.2 362.9 249.5 363.9 245.2 364.9 239.2 367.7 228.1 375.9 207.3 387.9ZM235.2 450.5 233.1 448 232.6 446 233.2 442.5 235.2 439.2 237.2 440.1 241.2 443.8 242 446 242 448 240.9 450 239.2 451.1 237.2 451.3ZM295.3 472 295.4 472ZM347.3 481.8 345.3 479.9 331.3 479.8 329.3 477.9 323.3 477.6 321.7 476 319.3 475.8 317.3 473.9 309.3 473.9 307.3 475.5 305.3 474 303.3 473.8 301.3 472 299.3 471.6 295.9 468 302.6 456 307.1 444 321 414 323.3 413 327.3 413.4 333.3 413 343.3 415.2 345.3 415.1 347.3 414 361.3 417.1 363.3 417.1 373.3 415.5 377.7 414 393.3 412.3 397.3 408.7 399.3 409.5 401.7 412 413.3 428.2 418.9 440 419.9 448 421.1 450 425.3 453.1 429.3 457.8 430.7 462 430.7 464 427.3 466.9 425.3 467.3 423.3 469.4 419.3 469.8 417.3 471.7 409.4 472 408.8 474 405.3 476.1 392.8 476 391.3 477.6 389.2 478 387.3 480.3 383.3 481.9 375.3 481.8 373 480 363.3 479.8 358.9 480 357.3 481.7 349.3 481.9ZM505.4 477.1 505 474 505.4 473.1 506.5 474 506 476ZM517.4 366.2 497.4 358.8 485.4 352.8 470.9 347.9 466 345.9 463.2 343.9 462.4 341.9 463.4 335.9 462.5 327.9 465.4 322.3 466 319.9 467.1 307.9 466.5 303.9 465.1 299.9 465.6 293.9 463.7 287.9 464.3 281.9 463.4 278.9 460.8 275.9 458.8 267.9 459.4 265.9 461 263.9 467.4 258.5 471.4 256.2 475.4 255.4 479.4 253.8 482.9 251.9 491.1 245.9 513.4 238.6 514.2 239.9 514.9 243.9 517 245.9 517.4 247.7 520.7 251.9 521.2 253.9 523.1 255.9 523.4 257.7 525.2 259.9 525.4 272.9 527.3 275.9 527.4 278.3 529 279.9 529.3 297.9 531 299.9 531.3 301.9 531.3 311.9 531.1 313.9 529.3 315.9 529 335.9 527.4 338.7 527.1 343.9 525.4 346.1 524.4 357.9 517.7 365.9ZM533.4 382.7 531.6 381.9 532.3 379.9 533.4 379.4 534 379.9 534.6 381.9ZM535.4 346.1 535 345.9 535.4 344.3 537.2 345.9ZM215.2 204.6 215.4 203.8ZM315.3 396.3 305.3 391.3 290.3 379.9 281.6 369.9 279.3 366 274.4 359.9 269.6 351.9 269.5 347.9 273.3 345.5 335.3 319.2 347.3 313.6 355.3 310.5 355.9 309.9 356 307.9 355.3 307.2 337.3 300 313.3 289.1 304.6 285.9 299.3 282.9 285.7 277.9 269.3 269.9 269.6 267.9 280.3 249.9 286.1 241.9 307.3 224.3 315.3 221.4 317.3 221.4 327.3 241.3 343.3 275.9 356.5 305.9 357.3 306.7 359.3 306.4 385.3 242.5 389.1 235.9 393.3 221.9 395.3 219.9 401.3 220.9 405.3 222.3 409.3 224.4 423.3 234.9 429.3 241.8 436.5 247.9 440 253.9 443.3 261.3 446.7 265.9 447.6 269.9 445.1 271.9 437.3 274.4 407.8 287.9 361.3 307.3 360.7 307.9 360.6 309.9 386.3 321.9 395.3 327.2 411.5 333.9 413.7 335.9 417.3 342.1 419.3 342.8 423.3 342.9 424.6 343.9 426.9 347.9 430.1 349.9 431.4 351.9 429.9 357.9 426.2 361.9 424.2 365.9 421.8 367.9 417.9 369.9 418 371.9 423.7 375.9 424.9 377.9 424.7 379.9 423.3 381.6 421.3 382.6 415.3 384 413.3 383.7 406.4 379.9 403.3 375.2 401.9 373.9 395.3 371.9 387.3 365.3 385.3 362.6 382.4 355.9 377.3 348.7 367.3 328.5 360 311.9 359.3 311.2 357.3 311.3 326.4 381.9 323.3 390.4 321.3 394.5 319.3 397.2 317.3 397.2ZM513.4 231.2 513.4 229.3 514 229.9ZM533.4 132.1 532.8 131.8 533.7 131.8ZM309.3 194.1 307.3 192.4 305.3 189.4 289.7 155.8 289 153.8 289.8 151.8 293.3 148.1 297.3 146 299.3 146 301.3 144 309.3 144 315.3 144.9 319.3 144 323.3 140 326 139.8 327.3 138.6 329.3 138.2 335.3 138 337.3 136.4 339.3 136.1 347.3 136.4 349.3 136.7 351.4 137.8 359.3 138.4 361.3 139.9 362.4 139.8 363.3 138.7 365.3 137.9 367.3 137.9 369.3 136 379.3 136.1 381.3 138 385.3 138.3 386.9 139.8 389.3 140.1 391.3 142 397.3 143.2 398.1 143.8 398.5 145.8 393.1 173.8 390.2 183.8 387.3 188.8 385.3 189.9 379.3 190.5 373.3 188.9 365.3 185.6 351.3 186.2 331.3 188.5 326.6 189.8 319.3 194 311.3 194.6ZM391.3 134.3 391.3 131.7 393.3 131.4 393.6 131.8 393.3 132.7 392.1 133.8Z"/>
<path fill="#0dff00" d="M280.3 488 289.4 488 292.9 482 293 480 291.3 479.6 281.3 481.2 279.6 482 279.3 482.9 279.6 486ZM300.5 486 301.4 488 318.7 488 319.3 486 318.9 484 317.3 482.6 315.3 482.3 313.3 482.7 309.3 485.9 307.3 486.4 305.3 485.9 303.3 484.5 301.3 481.1 299.3 481 298.8 482 299.7 484ZM334.5 488 338.6 488 343.1 486 343 484 337.3 480.8 335.3 481.3 334.3 482 333.6 484 333.9 486ZM438.4 488 444.8 488 444.6 486 448 482 448.3 480 447.3 478.6 445.3 476.9 443.3 476.7 441.3 478.6 438.9 486ZM240.6 480 241.2 480.5 243.6 480 248.2 472 247.4 470 245.2 468.4 243.2 468.4 240.1 472 239.3 474 239.4 478ZM185.2 478 187.2 479.9 188.2 478 187.2 474 185.7 476ZM530.1 478 531.4 478.9 533.4 477 536.6 476 536.2 474 535.4 473.9 531.4 474.8 529.8 476ZM513.4 476 513.4 476ZM184.6 472 185.2 473.4 185.9 470 187.6 466 187.7 464 186.6 462 183.2 460.2 181.3 462 183.9 470ZM428.4 472 431.3 473.3 433.3 473 434.7 470 433.3 468.3 431.3 467.5 426.7 468 427.3 470.9ZM260.3 468 263.2 469.7 265.2 466 265.2 462.9 263.2 460.4 261.2 461 257.7 464 258 466 259.2 467.2ZM227.9 466 229.2 466.9 231.2 466.5 234.8 464 236 462 234.8 460 233.2 459.3 231.2 460.2 228.2 464ZM277 466 277.3 465.8ZM292.1 466 293.3 467 295.7 466 300.7 456 305.5 444 309.3 437.1 317.3 420 318.3 416 319.2 408 317.3 406.6 311.3 404.9 309.7 404 307.3 400.6 303.3 399.5 301.4 397.9 299.3 393 297.3 392.3 291.3 391.9 289.3 389.9 289.1 385.9 287.4 383.9 283.3 383.4 280 381.9 276.7 377.9 276 375.9 276.2 373.9 277.9 369.9 277.3 365.7 275.3 364.9 274.1 365.9 274.2 369.9 273.3 370.3 271.3 370 270.7 365.9 269.3 360.7 267.2 358.3 261.2 356.8 260.8 357.9 253.3 363.9 245.2 366.9 241.2 369.1 228.5 377.9 217.2 384.7 209.2 388.8 207.8 389.9 207.3 393.9 213.4 400 213.6 402 215.2 404 214.2 406 215.2 407.3 217.2 407.8 219.2 409.8 221.3 412 221.4 414 233.2 425.9 233.4 428 235.2 429.8 235.5 432 237.2 433.7 239.2 435.2 241.6 436 243.2 437.6 245.4 438 249.2 441.6 251.2 441.9 257.3 448 259.2 451.2 261.2 451.9 263.2 453.9 265.4 454 267.2 455.8 270.1 456 273.3 457.9 277.3 461.9 280.3 462 283.3 463.7 287 464 289.3 465.6 291.3 465.6ZM448.6 466 449.4 467.2 450.5 466 449.4 465.2ZM202.8 462 203.2 463.2 205.2 463.2 206.8 462 207.3 460 205.2 457.7 203.2 457.7 202.5 460ZM467.4 462 469.4 463.2 470.3 462 470.8 460 469.4 457.2 467.4 456.5 466 458 467.4 461.9ZM432.3 460 433.3 461.4 437.3 459.7 439.3 457.9 443.2 458 445.3 459.8 447.3 458.7 451.4 453.9 453.4 453.7 459.4 448 461.4 447.5 469.5 440 471.4 439.3 472.7 438 473.4 435.8 475.2 434 475.4 433 476.8 432 479.3 432 481.4 436.9 482.7 438 480.7 444 481.4 448.4 483.4 448.4 487.4 444.7 488.4 442 487.4 439.6 484.3 438 484.7 432 483.4 429.6 483.3 428 485.4 427.4 487.3 424 491.3 420 491.3 418 494.7 414 495.3 410 505.2 400 505.4 397.1 506.8 395.9 507.4 393.6 510.9 389.9 511.3 387.9 514.6 383.9 515.4 379.7 516.9 377.9 516.9 367.9 505.4 363 497.4 360.4 485.4 354.6 461.4 346.5 455.4 346.3 453.4 347 449.4 349.7 448.7 351.9 448.8 353.9 449.8 355.9 450.1 357.9 449.4 359.1 447.3 357.9 445.8 355.9 441.3 354.6 439.3 352.3 437.3 353.4 437.2 355.9 441.3 357.2 444.3 361.9 445.1 365.9 444.4 367.9 429.3 387.8 427.3 389.4 425.3 389.7 419.3 388.3 417.3 389.2 411.3 393.8 410.1 400 406 408 406.4 410 419.3 434.2 424.1 446 431.7 458ZM479.4 431.8 479.3 430 481.1 430ZM508.2 452 509.4 452.6 511.4 452.6 517.1 452 518.7 448 522 446 521.4 444.7 519.4 443.6 517.4 446.5 515.4 447.7 507.4 449.7 507.4 450.8ZM196.2 448 197.2 448.5 199.6 448 200.1 446 199.5 440 199.2 439.5 198.1 440 198.2 442 195.7 446ZM212.6 446 213.2 446.6 215.3 446 215.2 443.9 212.8 444ZM226.4 444 227.5 444 227.5 442 226.4 442ZM525.3 444 527.4 444.2 525.4 443.9ZM534.9 434 535.4 435.6 537.4 434.3 537.4 433.5 535.4 433.3ZM513.3 430 515.4 429.4 518 422 517.4 419.3 515.4 419.3 509.7 426 510.2 428 511.4 428.8ZM181 428 181.2 427.6ZM221 428 223.2 428.6 223.7 428 223.2 425.6 221.2 426.6ZM184.8 420 185.2 420.7 187.2 421.2 189.2 419.1 190.2 416 190.8 410 193.5 406 193.2 405.3 191.2 403.4 187.2 405.7 183.2 406.9 181.7 408 180.7 410 183.7 418ZM198.9 418 199.2 418.3 200.7 418 199.5 416 198.9 416ZM359.6 414 361.3 415.5 367.3 415.4 389.3 411.2 391.3 409.8 392.7 408 391.3 405.5 391.1 402 397.2 397.9 398 395.9 393.3 387.7 388.2 373.9 383.9 365.9 382.2 359.9 375.3 346.7 359.9 311.9 359.3 311.3 357.3 311.3 320.8 397.9 321.5 400 323.2 402 319.5 408 322.6 410 326.3 410 328.3 408 329.3 405.5 331.3 404.2 337.3 405.8 337.4 412 339.3 413.6 345.3 413.8 346.9 412 347.3 407.9 359.3 407.9 359.4 412ZM203.9 408 205.2 408.6 208 408 205.2 402 203.2 402.9 202.8 404 202.4 406 203.2 407.4ZM204.6 397.9 205.2 399.7 206 395.9 205.2 395.5 204.8 395.9ZM183.8 391.9 185.2 393.8 187.2 392.8 187.7 389.9 187.3 387.9 185.2 384.1 183.9 385.9 183.3 389.9ZM525.3 357.9 525.4 358.9 529.4 359.3 531.4 358.7 531.9 357.9 529.5 349.9 527.4 348.7 525.4 348.8 525.2 355.9ZM440.4 347.9 445.3 349.2 447.3 348.8 448.3 347.9 450.8 343.9 451.4 341.7 452.6 339.9 453.4 336.3 455.1 331.9 455.4 324.4 456.7 319.9 457.4 301.1 459.4 297.9 459.4 295.9 457.4 294.9 455.4 292.2 454.6 283.9 453.4 281.6 453.4 276.6 455.4 275.7 456.5 273.9 456 271.9 455.4 271.3 453.7 271.9 451.4 274.3 449.4 272.6 447.3 272.1 439.3 274.8 360.7 307.9 360.7 309.9 361.3 310.5 387.6 321.9 393.3 325.1 410.3 331.9 414.4 333.9 419.3 338.3 426.3 339.9 428.6 341.9 431.3 345.8 437.3 346.4 439.3 347.8ZM268.5 345.9 269.3 346.1 277.3 342.9 335.3 318.9 347.3 313.4 355.3 310.5 355.9 309.9 355.9 307.9 355.3 307.3 337.3 300.2 297.3 283 269.3 272 266.1 273.9 263.5 277.9 263.2 282.1 261.6 287.9 261.2 297 259.2 309.6 258.4 311.9 259.2 314.2 259.7 317.9 259.7 323.9 263.2 334.8 263.6 337.9 265.2 341 266 343.9 267.2 345.4ZM527.4 339.9 527.4 340.9 527.8 339.9 527.4 339.9ZM530.6 335.9 531.4 337.4 532.5 335.9 531.4 335.3ZM356.6 305.9 357.3 306.6 359.7 305.9 383.7 243.9 388.5 233.9 391.1 223.9 392.8 219.9 392.8 217.8 387.3 214.2 383.1 213.8 374.9 211.8 373.3 210.8 369.7 209.8 369.9 205.8 369.2 203.8 367.3 202.3 347.3 202.4 344.8 203.8 343.7 205.8 343.3 208.5 341.3 207.9 336.8 211.8 331.3 213 326.6 215.8 323.3 217.2 319.4 219.9 319.3 221.9 320.7 225.9 327.7 239.9 336.2 259.9 356 303.9ZM534.4 297.9 535.4 298.3 537.4 297.3 537.4 288.9 533.4 288.9 531.4 290.1 530.6 291.9 530.6 293.9 531.6 295.9 533.4 297.5ZM179.2 291.9 179.2 293.2 179.8 291.9 180 289.9 179.2 289.4 179.2 289.9ZM250.3 265.9 255.2 267.7 257.2 267.2 260.9 263.9 265.2 258.1 268.5 257.9 271.3 259.3 273.3 258 275.3 255.7 277.4 251.9 277.3 250.4 275.3 249.1 274.7 247.9 275.3 246.4 278.4 239.9 281.3 236.2 287.3 231.2 293.3 227.8 295.3 225.7 301.3 222.8 308.3 215.8 311 211.8 315.3 208.9 319.3 207.9 321.3 206.8 325.3 201 327.3 200.9 329.3 202 331.8 201.8 329.5 199.8 328.8 197.8 327.3 195.9 325.3 197.2 323.3 199.8 317.3 202.5 315.3 202.5 313.3 201.2 307.3 194.1 304.4 189.8 291.3 161.2 287.3 154.1 285.3 154.3 283.3 155.8 279.3 155.9 277.3 157.9 275.3 158 271.3 161.9 267.2 161.9 265.2 162.4 263.9 163.8 261.2 164.1 251.4 173.8 251.3 175.8 245.3 181.8 241.2 181.9 239.3 183.8 237.2 183.9 233.3 187.8 233.3 189.8 227.4 195.8 227.3 197.8 223.5 201.8 223.3 203.8 217.7 209.8 217.2 212.2 215.6 213.8 215.3 215.8 213.2 217.9 211.2 218.1 205.6 223.9 205.3 231.9 203.6 233.9 203.2 237.5 201.2 238 199.2 239.9 198.8 241.9 199.4 243.9 205.2 245.3 249.2 265.5ZM444.9 259.9 445.3 260.8 447.3 259.4 449.4 259.1 457.4 260.8 461.7 257.9 469.5 253.9 479.4 251.2 486.2 245.9 490 243.9 505.4 239.6 511.4 237.2 513.1 235.9 513 231.9 511 227.9 507.3 223.9 507.2 219.9 505.4 217.9 504.4 215.8 501.4 213.9 497.3 209.8 495.1 205.8 491.4 201.9 491.3 199.8 489.4 197.8 494.2 193.8 494.9 191.8 493.4 190.9 487.4 190.5 485.4 189.8 483.4 187.9 481.4 187.9 479.4 185.9 477.4 185.9 469.4 177.9 468.1 177.8 465.4 175.9 465.1 173.8 461.4 170 459.3 169.8 449.4 159.9 444.9 159.8 443.3 158.3 435.3 157.9 431.3 153.9 429.3 153.8 421.3 145.9 411.3 145.9 409.3 144 405 143.8 403.6 141.8 405 139.8 404.8 135.8 405.3 131.7 403.3 131.3 402.8 131.8 401.7 135.8 398.5 139.8 398.3 141.8 399.3 142.2 399.7 145.8 396.6 163.8 396.1 169.8 391.8 185.8 389.6 189.8 387.3 199.6 386.3 201.8 386.3 203.8 387 205.8 389.3 210.3 394.8 213.8 396.5 217.8 399.3 218.6 405.3 218 411.5 219.9 414.4 221.9 419.3 229.5 421.3 230.4 425.3 230.7 429.3 232.7 430.5 233.9 431.5 235.9 429.9 237.9 429.3 239.9 431.3 241 437.3 242.5 439.7 243.9 446 253.9 446.5 255.9 445.3 257.9ZM525.4 259.9 525.4 260.2 526.3 259.9 527 257.9 525.4 256.9 525.4 257.9ZM182.9 257.9 185.2 257.9 186.9 255.9 185.9 253.9 185.2 253.5 182.4 253.9 180.8 255.9 181.2 256.5ZM186 241.9 187.2 243.8 189.2 243.4 190.1 241.9 189.2 239.9 187.2 240.7ZM533.1 237.9 535.4 239.1 537.4 238.5 537.4 221.9 533.4 218.4 531.4 219.8 529.8 223.9 530.1 225.9 531.4 227.3 536.9 229.9 533.4 235.9ZM179.2 235.9 179.2 236.7 181.4 231.9 183.2 229.9 187.8 227.9 188.9 225.9 187.2 223.9 185.2 222.7 183.2 223 181.2 224.3 179.2 224.1 179.2 233.9ZM182 217.8 183.2 219.3 183.9 217.8 183.4 215.8 182.9 215.8ZM507.7 217.8 509.4 218.6 511.4 218.6 512.3 217.8 511.7 215.8 509.2 215.8ZM532.8 215.8 533.4 216.4 535.7 213.8 535.4 210.9 533.4 210 531.7 213.8ZM518.8 203.8 525.4 204.2 527.4 203.4 528.9 201.8 529.8 199.8 529.1 197.8 525.4 197 519.4 198.2 516.8 199.8 516.4 201.8 517.4 203.1ZM338.8 201.8 339.3 202.3 339.3 201.7ZM197 199.8 199.2 199.1 200.3 197.8 197.2 196.1 195.2 198ZM217.2 193.8 217.2 193.8ZM518.4 187.8 521.1 187.8 519.4 186.8ZM523.4 187.8 525.4 188.2 527.6 187.8 529.4 183.8 528.9 181.8 527.4 180 525.4 181.7 523.4 185.3 522.3 185.8 523.4 187.8ZM230.9 179.8 231.3 179.8 231.2 178ZM496.6 179.8 497.4 180.3 498.7 179.8 501.4 177.9 503 175.8 502.8 173.8 501.4 171.9 499.4 170.6 497.4 171 496.1 171.8 495.5 177.8ZM206.6 175.8 207.2 176.2 209.2 176 211 173.8 211 169.8 209.5 163.8 207.3 161.8 205.2 161.3 201.2 161.3 199.6 161.8 199.7 163.8 205 167.8 205.2 173.8ZM179.9 173.8 181.2 174.3 189.2 172.6 190.2 171.8 190.9 169.8 189.2 168.3 185.2 169.3 183.2 168.4 179.2 164.6 179.2 172.9ZM484.1 173.8 485.4 175 491.3 171.8 485.4 172ZM524.5 173.8 525.4 174.9 527.4 174.6 529.7 171.8 530.4 169.8 529.4 168.2 527.4 167.6 525.7 169.8 524.9 171.8ZM462.5 167.8 465.4 168.3 466.2 167.8 465.2 165.8 461.4 163.5 460.5 163.8 460.3 165.8 461.4 167ZM536.5 167.8 537.4 168.5 537.4 163.4 535.4 163.3 534.4 163.8 533.8 165.8 535.4 167ZM472.9 159.8 473.4 160.3 474.2 159.8 473.4 159ZM477.9 155.8 479.4 156.4 481.4 156.1 482.9 153.8 481.4 152.3 479.4 152.5 478.2 153.8ZM241.8 153.8 243.2 154.3 243.9 153.8 246 151.8 247.1 149.8 245.2 148.1 243.2 149.1 241.5 151.8ZM525.2 151.8 525.4 152.3 527.4 152.6 528.9 149.8 526.9 143.8 525.4 133.2 523.4 132 521.4 132.8 520.8 133.8 521.3 139.8 518.1 143.8 519.9 145.8 523.1 147.8 524.7 149.8ZM513.4 149.8 514.3 143.8 513.4 142.5 511.4 142.7 508.4 143.8 507 145.8 511.4 148.9ZM264.8 147.8 267.5 147.8 267.5 145.8 265.2 141.2 263.2 140.3 261.5 141.8 261.3 143.8 263.2 146.3ZM429.3 147.8 431.3 149.1 435.3 149.1 437.3 148.2 441.3 142.1 442.3 137.8 443.3 136.4 447.3 136.7 449.4 136.4 450.1 135.8 449.6 133.8 446.1 129.8 437.4 129.8 436.1 131.8 435.7 133.8 436.9 137.8 435.8 141.8 430.7 145.8 429.3 147.8ZM196.6 143.8 197.2 144.2 198.6 143.8 201.1 141.8 199.2 139.7 196.6 141.8ZM241.1 143.8 242.4 141.8 241.2 140.7 239.2 140.9 238.5 141.8 239.2 142.5ZM474.9 143.8 477.4 144.7 479.4 144.2 484.3 139.8 481.4 138.7 479.4 139 477.1 139.8 474.5 141.8ZM206.4 139.8 207.2 140.2 207.8 139.8 207.2 139.6ZM252.3 139.8 253.2 140.4 255.2 140 256 137.8 255.2 136.4 253.2 135.3 251.7 137.8ZM415.3 139.8 417.3 141.2 418.6 139.8 418.4 137.8 415.3 136.9 414.1 137.8ZM227.6 137.8 231.2 138.3 233.2 137.6 235.3 135.8 235.7 133.8 233.2 132.1 231.2 131.8 229.2 132.2 226.2 133.8 225.8 135.8 227.2 137.6ZM264.4 137.8 265.2 138.9 267.2 136.8 267.9 135.8 268 133.8 265.2 130.6 263.2 131.1 263.5 135.8ZM328.4 137.8 333.4 137.8 337.2 135.8 338.4 133.8 336.7 129.8 332.9 129.8 331.3 130.9 327.5 133.8 326.7 135.8 327.3 136.6ZM281.6 129.8 283.3 130.9 285.3 130.7 287.4 129.8 283.3 129.8ZM309.2 129.8 309.3 129.8Z"/>
<path fill="#00ff0d" d="M287.9 464 289.3 465.1 291.3 464.9 293.3 465.6 295.3 463.8 302.7 446 308.5 436 311.6 428 316 420 316.7 418 316.6 414 316.1 412 314.7 410 301.3 402.9 295.3 397.8 288.6 393.9 283.9 387.9 278.1 383.9 267.4 371.9 263.2 363.8 261.2 362.5 257.2 362.8 251.2 366.3 245.2 368.6 218.6 385.9 209.2 390.3 207.9 393.9 213.8 400 215.6 404 217.5 406 217.8 408 221.5 412 221.7 414 233.2 425.6 233.7 428 235.2 429.5 235.9 432 237.2 433.2 239.2 434 241.2 435.8 245.6 438 247.2 439.6 248.8 440 251.2 441.8 263.2 453.8 266.2 454 267.2 455.1 271.3 455.9 277.3 461.6 281.3 461.8 283.3 463.1 287.3 463.5ZM433.4 458 435.3 459.1 437.3 458.8 439.3 457.4 445.3 457.6 449.4 455.6 451.4 453.6 455.4 451.6 461.4 445.9 463.8 444 465.4 443.5 471.4 438.2 475 434 475.4 431.9 477.4 431.3 478.8 430 481.4 429.6 491.1 420 491.2 418 493.2 416 493.4 414.3 495.1 412 495.1 410 505 400 505.4 396.3 509.2 389.9 512.9 385.9 513.1 383.9 514.8 381.9 515.4 378.2 516.7 375.9 516.3 369.9 515.4 368.6 497.4 361.9 487.4 357 477.4 353 465.4 349.1 463.4 348.9 460.4 349.9 458.9 351.9 453.4 363 446.1 371.9 442.4 377.9 435.3 386 429.3 392.6 421.3 397.1 413.3 403 410.7 406 409.6 408 409.4 410 410.5 414 421.3 434.4 427.3 448 431.5 454 433.3 457.8ZM360.3 414 361.3 414.9 367.3 414.7 379.3 412.8 389.3 410.2 391.8 408 390.9 406 390.3 402 391.3 400.5 394.9 397.9 395.1 395.9 383.3 368.3 380.7 359.9 365.3 325.6 359.8 311.9 359.3 311.4 357.3 311.4 340.5 351.9 322.2 397.9 325.3 401.2 337.3 404.3 338.4 406 338 412 339.3 413.1 345.3 413.1 346.3 412 347.3 406.5 359.3 407 359.8 408 359.9 412ZM445.3 345.9 447.3 345.9 449.4 343.3 452.5 335.9 454.3 327.9 455.6 315.9 456 305.9 455.8 299.9 452.5 281.9 450.4 275.9 447.3 273.2 425.3 281.4 409.3 288.4 387.3 296.9 360.8 307.9 360.8 309.9 361.3 310.4 395.3 325.1 412.8 331.9 419.3 335.7 426.4 337.9 433.3 341.7 443.3 345.2ZM268.1 343.9 269.3 344.8 277.3 341.9 355.3 310.4 355.8 309.9 355.8 307.9 297.3 283.8 269.3 273.1 266.4 275.9 264.2 281.9 262.5 289.9 260.2 311.9 262.1 327.9 264.3 335.9 267.2 343ZM356.7 305.9 357.3 306.5 359.7 305.9 382.6 243.9 387.2 233.9 391.2 219.9 390.9 217.8 385.3 215 369.3 211.6 368.9 205.8 368.2 203.8 367.3 203.1 357.3 202.8 347.3 203.4 345.5 205.8 345.3 211.9 339.3 212.4 335.6 213.8 331.3 214.6 325.3 217.2 321 219.9 320.6 221.9 321.9 225.9 327.9 237.9 336.7 259.9 356.1 303.9ZM248.7 263.9 253.2 265.2 255.2 265 257 263.9 263.2 255.4 266.9 251.9 275.4 237.9 281.3 231.9 285.3 226.9 289.1 223.9 295.3 220.9 299.3 218.1 311.3 208.2 312.5 205.8 312.2 203.8 309.9 199.8 302.4 187.8 287.3 155.7 279.3 156.6 271.3 162.1 267.2 162.2 265 163.8 261.2 164.6 251.9 173.8 251.4 175.8 249.5 177.8 248.5 179.8 245.8 181.8 241.2 182.2 239.6 183.8 237.2 184.2 233.6 187.8 233.4 189.8 227.7 195.8 227.4 197.8 224 201.8 223.5 203.8 219.6 207.8 215.5 215.8 213.2 218.1 209.2 220.3 206.3 223.9 205.5 225.9 205.7 231.9 204.5 233.9 203.8 237.9 202.5 239.9 202 241.9 203.2 243.5 213.2 247.3 237.2 259 247.2 263.3ZM453.2 257.9 455.4 258.4 457.4 258.1 465.4 254.6 471.4 251.3 477.4 249.8 482.8 245.9 489.4 242.6 509.4 236.6 511.4 235.7 512.4 233.9 512.6 231.9 510.5 227.9 507.1 223.9 507.1 221.9 505.2 217.8 495.3 207.8 494.7 205.8 491.4 202.1 490.8 199.8 489.4 198.4 489.2 193.8 483.4 188 481.4 188 479.4 186.2 477.4 186 469.4 178.2 467.4 177.9 465.2 175.8 463.4 172.9 457 167.8 449.4 160.1 443.6 159.8 439.3 158.4 435.3 158 431.3 154.3 429.3 154 421.3 146.3 411.3 146 407.3 144.2 405.3 144.2 403.3 143.3 401.3 143.8 399.5 153.8 397.4 171.8 394.7 179.8 393.5 185.8 391 191.8 388.8 203.8 389.5 205.8 391.3 207.9 395.3 209.9 401.3 211.8 405.3 214.7 415.3 218.7 421.3 224.8 431.3 231.1 433.6 233.9 435.6 237.9 442.5 243.9 451.4 256.6Z"/>
<path fill="#00ff26" d="M288.6 464 289.3 464.5 292.8 464 294.2 462 297.7 452 301.7 444 307.3 435.4 310.7 426 314.5 420 315.3 418 315.3 415.4 313.3 411.8 299.3 404 287.3 395.4 283.3 390.8 277.3 385.8 267.2 375.2 261.2 365.2 259.2 364.2 257.2 364.5 245.3 369.9 229.2 381.3 223.2 384.7 219.2 388.3 213.2 389.8 209.2 391.8 208.5 393.9 214.3 400 216 404 217.9 406 218.4 408 221.7 412 222.1 414 223.7 416 233.2 425.3 234 428 237.2 432.8 241.2 435.6 242.9 436 247.2 439.4 249.2 439.9 263.2 453.6 266.9 454 269.3 455.5 271.3 455.7 277.3 461.2 281.3 461.5 283.3 462.6 287.3 463ZM435.1 458 437.3 457.8 439.3 456.9 445.3 457.2 447.3 455.7 449.4 455.2 453.4 451.9 455.4 451.4 463.4 443.9 465.4 443.2 471.4 437.8 474.8 434 475.4 431.7 478.2 430 481.4 429.2 489 422 490.8 420 491.1 418 493 416 493.3 414 495 412 494.9 410 504.8 400 505.2 395.9 506.9 393.9 507.4 392.2 512.6 385.9 512.7 383.9 514.3 381.9 514.9 377.9 516.2 375.9 516 371.9 515.4 370.1 497.4 363.5 489.4 359.4 475.4 353.6 465.4 350.7 463.4 350.9 461.9 351.9 456.6 361.9 445.3 378.9 439.7 383.9 431.1 393.9 415.3 404.1 411.7 408 411.1 410 412 414 415.3 420.8 423.7 436 429.1 448 434.4 456ZM360.9 414 363.3 414.5 377.3 412.6 388.5 410 391 408 389.6 402 391.3 399.2 393.2 397.9 393.2 395.9 385.1 375.9 380.5 361.9 365.2 325.9 359.7 311.9 359.3 311.5 357.3 311.5 341 351.9 323.4 397.9 325.3 400.1 327.3 401 337.3 403.3 338.1 404 339.3 406 338.4 410 338.5 412 339.3 412.6 343.3 412.9 345.3 412.4 347 406 349.3 405.6 359.3 406 360.3 408 360.4 412ZM444.8 343.9 447.3 344.3 449.4 341.7 452.2 333.9 453.7 325.9 455 307.9 454.4 295.9 452.1 283.9 449.4 276.1 447.3 274.4 442.1 275.9 431.3 280.7 426.3 281.9 409.3 289 387.3 297.2 360.9 307.9 360.9 309.9 361.3 310.3 414.9 331.9 421.3 335 429.3 337.5 435.3 340.6 443.3 343.3ZM267.9 341.9 269.3 343.4 274.1 341.9 315.3 326.2 347.3 313.1 355.3 310.3 355.7 307.9 299.3 285.4 269.3 274.5 267.2 276.3 264.5 283.9 263.1 291.9 261.2 311.9 262.5 325.9 264.5 333.9 267.2 341.2ZM356.7 305.9 357.3 306.5 359.6 305.9 361.8 299.9 376.3 259.9 382.1 241.9 385.8 233.9 389.8 219.9 389.5 217.8 383.3 215.3 379.3 214.9 375.3 213.5 369.3 212.4 368.4 209.8 368.4 205.8 367.3 203.9 357.3 203.3 347.3 204.2 346 205.8 346.1 209.8 345.3 212.6 341.3 212.9 331.3 215.5 325.7 217.8 322.4 219.9 321.9 221.9 323 225.9 329.1 237.9 337.3 259.9 356.2 303.9ZM246.8 261.9 253.2 263.2 255.2 262.4 270.2 241.9 273.3 236.7 278.2 231.9 283.3 225 287.3 221.7 295.3 218.2 301.3 213.1 308.8 207.8 310.4 205.8 310.3 203.8 309.5 201.8 307.5 197.8 302.2 189.8 287.1 157.8 285.3 157 281.3 156.8 279.3 157.3 271.3 162.4 267.2 162.5 265.2 164 261.2 165.1 254 171.8 251.6 175.8 249.7 177.8 249.2 179.9 246.2 181.8 241.2 182.5 239.9 183.8 237.2 184.4 234 187.8 233.5 189.8 228 195.8 227.5 197.8 225.6 199.8 223.6 203.8 219.8 207.8 217.2 213.6 215.6 215.8 213.2 218.3 209.2 220.6 208 221.9 205.8 225.9 206.1 231.9 204.4 235.9 204.4 237.9 203.2 242 207.2 242.7 215.2 246.2 237.2 257.8 245.2 261.2ZM453.3 255.9 455.4 256.8 457.4 256.6 465.4 253.3 471.4 249.9 477.4 248.1 481.4 245.1 489.4 241.3 505.4 237.1 511.4 234.5 511.8 233.9 512.3 231.9 508.7 225.9 506.9 223.9 506.9 221.9 505.4 219.6 505.1 217.8 495.2 207.8 494.2 205.8 491.4 202.4 489.4 198.9 488.9 193.8 487.2 191.8 483.4 188.2 481.4 188.1 479.4 186.4 477.4 186.1 469.4 178.5 467.4 178 449.4 160.3 441.3 159.8 439.3 158.8 435.3 158.1 431.3 154.7 429.3 154.1 421.3 146.6 419.3 146.2 411.3 146.2 407.3 144.4 403.3 144.4 401.8 145.8 400.5 153.8 399.2 169.8 394.9 185.8 392.4 191.8 390.3 201.8 390.5 203.8 391.3 205.4 393.3 206.9 401.3 209.4 408.4 213.8 415.3 216.5 421.3 221.9 432.7 229.9 437.3 236.6 443.3 242 451.5 253.9Z"/>
<path fill="#00ff40" d="M283.2 462 287.3 462.4 289.3 463.6 292.5 460 293.4 454 294.3 452 297.1 448 300.1 442 305.3 435.6 306.8 432 308.3 426 313.3 418.8 313.6 416 312.5 414 311.3 413.1 303.4 408 297.3 405.1 287.3 398.1 281.3 391.6 268 379.9 263.8 373.9 260.7 367.9 259.2 366.3 257.2 366.1 244.6 371.9 229.2 384.3 225.2 386.2 219.8 391.9 217.2 392.3 213.2 391.8 209.2 393.9 216.2 402 216.5 404 218.3 406 220 410 221.9 412 223.8 416 233.2 425 234.3 428 237.2 432.3 241.2 435.5 243.2 435.9 247.2 439.1 249.2 439.7 263.2 453.4 267.2 453.9 269.3 455.3 271.3 455.5 277.3 460.9 281.3 461.2ZM436.5 456 437.3 456.5 445.3 456.8 447.3 455.2 449.4 454.8 453.4 451.6 455.4 451.1 463.4 443.6 467.4 441.4 471.4 437.6 474.5 434 475.4 431.6 477.7 430 481.4 428.9 483.4 427.5 488.9 422 490.6 420 490.9 418 492.9 416 493.1 414 494.8 412 494.8 410 504.5 400 505 395.9 506.7 393.9 507.2 391.9 512.2 385.9 512.2 383.9 513.8 381.9 514.3 377.9 515.8 375.9 515.4 371.9 507.4 369.9 504.2 367.9 497.4 365.6 489.4 361.1 483.4 358.9 475.4 355 467.4 352.6 465.4 352.6 463.4 353.9 459.3 361.9 451.4 373.8 448.1 379.9 441.3 385.1 437.3 390.6 431.3 396.4 425.3 399.8 421.3 403.2 415.3 406.5 412.9 410 413.3 414 417.3 422.1 424.5 434 431.3 447.8 435 452 436 454ZM339.1 412 343.3 412.4 344.7 412 346.4 406 347.3 405.1 349.3 404.9 359.3 405.2 360.8 408 361.3 413.3 363.3 413.9 377.3 412.2 381.3 410.9 387.3 410 390.3 408 389 402 390.9 397.9 390.9 395.9 387.3 384.9 384.2 377.9 379.6 361.9 370.1 337.9 364.9 325.9 359.7 311.9 357.3 311.6 341.3 352.4 331.3 380.3 329.9 385.9 324.9 397.9 327.3 400.2 337.3 402.5 339.2 404 340 406 338.9 410ZM444.9 341.9 447.3 342.4 449.4 340.1 451.4 334.5 453.4 322.8 453.9 315.9 454.2 305.9 453.4 293.9 452.3 289.9 451.4 283.9 449.4 277.9 447.3 275.8 441.5 277.9 433.3 282.1 427.3 282.7 423.6 283.9 417.3 286.7 387.3 297.5 361 307.9 361.3 310.2 421.3 333.7 431.3 336.5 437.8 339.9 443.3 341.3ZM268.1 339.9 269.3 341.4 275.6 339.9 319.3 324.3 347.3 312.9 355.3 310.2 355.3 307.6 309.3 289.8 286.2 281.9 275.3 278.7 269.3 276.2 267.2 278 265.2 284 263.2 296.3 262.1 311.9 263.2 325.9 265.2 333.9 267.2 339.1ZM356.8 305.9 357.3 306.4 359.5 305.9 363.8 293.9 375.7 259.9 380.5 241.9 383.3 235.5 387 223.9 387.9 219.9 387.7 217.8 381.7 215.8 377.3 215.4 373.3 213.7 369.3 213 367.9 209.8 367.9 205.8 367.3 204.8 357.3 203.9 347.3 204.9 346.6 205.8 346.3 211.8 345.3 213.2 341.3 213.6 333.3 215.6 327.2 217.8 324.2 219.9 323.5 221.9 324.5 225.9 330.6 237.9 333.2 247.9 337.3 258.5 356.2 303.9ZM245.8 259.9 251.2 260.9 253.9 259.9 260.6 251.9 263.5 245.9 267.3 241.9 270.7 235.9 277 229.9 281.3 223.6 287.3 218.8 293.3 217.1 295.3 215.9 303.3 208.7 308 205.8 308.5 203.8 307.2 199.8 300.9 189.8 287.9 163.8 285.4 157.8 281.3 157.3 275.3 160.7 273.3 161.1 271.3 162.6 267.2 162.8 265.2 164.2 263.2 164.5 261.2 165.6 259.2 166.8 254.3 171.8 249.9 177.8 249.2 180 246.6 181.8 241.2 182.8 240.2 183.8 237.2 184.7 234.3 187.8 233.6 189.8 228.4 195.8 227.7 197.8 225.7 199.8 225.2 201.8 223.8 203.8 220 207.8 219.4 209.8 217.8 211.8 217.4 213.8 213.2 218.5 208.3 221.9 206 225.9 206.5 231.9 206.2 233.9 204.9 235.9 205.2 239.7 207.2 239.4 209.2 239.9 212.2 241.9 218.6 243.9 222.5 247.9 225.2 249.5 231.2 252 236.8 255.9 241.2 257.4 245.2 259.6ZM454 253.9 455.4 254.8 457.4 254.9 460.6 253.9 465.4 252 469.4 249.1 477.4 246.4 481.4 243.5 483.4 242.6 490.6 239.9 505.4 236 511.4 233.4 511.9 231.9 508.5 225.9 506.8 223.9 506.7 221.9 505.2 219.9 504.9 217.8 495 207.8 489.4 199.4 488.6 193.8 485.4 190.2 483.4 188.3 481.4 188.2 479.4 186.6 477.4 186.2 471.4 180.3 469.4 178.8 467.4 178.1 449.4 160.5 441.3 160 437.3 158.4 435.3 158.3 431.3 155 429.3 154.3 423.3 148.4 419.3 146.4 411.3 146.4 409.3 146 407.3 144.7 403.3 145.3 402.7 145.8 401.5 153.8 400 171.8 396.4 185.8 393.3 193.4 391.9 201.8 392.6 203.8 395.9 205.8 403.3 207.9 409.2 211.8 417.3 215.7 421.4 219.9 433.3 227.6 439.3 235.6 444.3 239.9 453.4 253.3Z"/>
<path fill="#00ff59" d="M284.8 462 286.4 462 288 460 289.3 451.8 291.3 447.2 293.3 446.5 294.9 444 296.2 438 297.9 436 301.3 434.6 303.3 432.9 304.1 430 304.2 424 304.7 422 309.7 418 309.7 416 303.3 410.3 295.3 407.4 291.3 405 285.3 400 279.3 392.8 271.5 385.9 267.2 383.4 263.3 379.9 259.9 373.9 258.7 369.9 257.2 368.7 252.3 369.9 241.2 377 225.9 393.9 224.6 395.9 223.2 399.9 217.2 397.1 215.2 397.1 214.2 397.9 216.9 402 216.9 404 218.6 406 220.2 410 222.1 412 224 416 233.2 424.8 234.6 428 237.3 432 241.2 435.4 243.2 435.7 247.2 438.9 249.2 439.6 263.2 453.3 267.2 453.6 269.3 455.1 271.3 455.3 277.3 460.5 283.3 461.3ZM269.3 400.1 270.4 397.9 271.3 397.6 271.7 397.9 271.8 400 271.3 400.5ZM439.4 456 445.3 456.3 447.3 454.6 449.4 454.4 453.4 451.2 455.4 450.8 463.4 443.4 467.4 441.2 471.4 437.5 474.3 434 475.4 431.4 477.4 429.9 483.4 427.4 488.8 422 490.4 420 490.8 418 492.7 416 492.9 414 494.6 412 494.6 410 504.3 400 504.8 395.9 506.5 393.9 506.9 391.9 511.9 385.9 511.8 383.9 513.4 381.8 513.7 377.9 514.8 375.9 513.4 374 511.4 373.8 507.4 374.6 505.4 373.5 503.4 371.3 501.4 370 495.4 369.4 489.8 363.9 481.4 361 478 357.9 475.4 356.7 471.4 355.9 467.4 356.4 465.4 357.4 463.6 359.9 462.7 367.9 458 371.9 453.5 377.9 451.4 384.2 445.3 385.6 443.3 387 441.2 391.9 439.7 393.9 433.3 398.4 426.8 402 423.3 408.1 417.3 408 415.3 409.8 414.8 412 415.1 414 419.3 422.1 424.6 430 429.3 438.4 431.3 440.5 434.4 442 436 444 438.9 452 439.3 455.9ZM429.3 422.7 428 422 429.3 420.9 430 422ZM361.7 412 363.3 412.7 375.4 412 379.3 410.5 385.4 410 387.3 408.6 389.6 408 388.4 402 389.1 400 388.7 397.9 387.3 396.2 386.4 395.9 385.7 387.9 381.5 377.9 379.3 363.7 359.3 311.6 357.1 311.9 339.2 359.9 333.3 381.5 333 391.9 329.3 394.5 327.2 397.9 329.3 399.4 331.3 399.3 333.3 397.5 335.7 397.9 337.5 400 338.1 402 339.3 402.6 340.7 406 340.2 410 341.3 411.4 343.3 411.4 345.9 406 347.3 404.5 349.3 404.2 359.3 404.4 361.2 408 361.4 410ZM445.3 337.9 447.3 338.9 449.4 337.3 451.4 330.2 451.4 327.8 448.9 323.9 448.7 321.9 449.9 317.9 449.9 313.9 451.4 313.2 453.4 307.9 453.4 304 451.8 299.9 451.4 292.4 449.4 281.4 447.3 279.7 443.3 283.9 439.4 285.9 437.3 288 435.3 288.4 433.3 287.7 429.3 285.1 427.3 284.4 425.3 284.8 409.3 290.7 404.3 291.9 387.3 297.8 361.1 307.9 361.3 310.2 408.8 327.9 421.3 331.9 431.3 333.3 433.3 333.9 437.3 336.8 439.3 337.4 443.3 337ZM267.9 335.9 269.3 336.8 273.3 336.6 275 335.9 277.3 334.1 285.3 333.4 291.3 331.1 299.3 330 313.3 325.9 355.3 310.1 355.3 307.6 307.5 289.9 285.3 283.7 279.3 283.1 277.3 283.4 275 285.9 273.3 289.5 271.3 289.6 269.3 288.4 267.2 289 266.6 291.9 267.2 295.9 266.6 297.9 265.2 298.9 264.4 301.9 264.8 305.9 264.6 307.9 263.2 309.2 263.2 315.9 264.2 317.9 264.2 323.9 265.2 331 267.2 335.4ZM356.9 305.9 357.3 306.3 359.4 305.9 375.3 258.8 377.3 249.9 377.4 243.9 379.2 231.9 380.9 227.9 383.9 223.9 384.3 221.9 383.8 219.9 383.3 219.4 379.3 220.5 377.3 220.2 375.3 218.1 374.5 215.8 370.6 213.8 369.3 213.7 368 211.8 367.4 209.8 367.3 205.7 347.3 205.6 346.8 211.8 345.3 214.2 336 215.8 330 217.8 327.3 219.9 326.4 221.9 326.3 223.9 327.3 227 332.8 237.9 333.8 245.9 337.3 256.7 356.3 303.9ZM247.5 255.9 249.2 256.4 251.2 256 257.4 251.9 259.2 248.7 259.8 243.9 261.2 241.7 264.1 239.9 265.8 237.9 266.6 231.9 267.2 230.3 269.3 229.6 271.3 229.9 273.3 229.4 275 227.9 279 221.9 285.3 216.2 291.3 215.3 294.4 213.8 301.3 206.9 305.2 203.8 305.7 201.8 304.6 197.8 299.8 191.8 296.8 185.8 290 177.8 288 169.8 284.3 165.8 283.1 163.8 282.9 159.8 281.7 157.8 279.3 159.5 277.3 159.6 275.3 161.4 273.3 161.5 271.3 162.9 267.2 163.1 265.2 164.5 263.2 164.7 259.2 167.1 254.6 171.8 250.1 177.8 249.2 180.2 247.1 181.8 243.2 182.4 237.2 184.9 225.8 199.8 225.4 201.8 220.2 207.8 219.6 209.8 218 211.8 217.6 213.8 213.2 218.7 208.6 221.9 206.2 225.9 207.1 233.9 207.2 234.6 213.2 236 223.2 241 224.3 241.9 226.2 245.9 227.2 246.5 237.2 247.3 238.2 247.9 241 251.9 245.2 252.1 247.8 253.9ZM455.7 251.9 457.4 252.5 461.9 251.9 465.3 249.9 467.4 247.4 469.4 246.5 474.2 245.9 481.4 241.8 505.4 235.1 511.5 231.9 508.2 225.9 506.6 223.9 506.5 221.9 505 219.9 504.7 217.8 494.8 207.8 489.4 199.8 488.3 193.8 486.9 191.8 483.4 188.5 481.4 188.3 479.4 186.9 477.4 186.3 471.4 180.5 467.4 178.2 449.4 160.7 441.3 160.1 437.3 158.6 435.3 158.4 433.3 156.5 429.3 154.4 423.3 148.6 419.3 146.5 411.3 146.6 409.3 146.3 407.3 144.9 403.7 145.8 402.3 153.8 401.3 170.7 399.9 181.8 398.6 185.8 395.3 192.2 394.8 199.8 395.3 201.5 399.2 203.8 405.3 205.3 411.3 208 414.9 211.8 419.3 214.9 423.3 218.9 429.3 221.6 436.5 225.9 438.2 227.9 440 231.9 441.3 233.4 446.1 235.9 449.3 243.9 455.4 251.7Z"/>
<path fill="#00ff73" d="M277.1 460 279.3 460.8 283.3 460.6 284.8 460 285.3 458 287.1 448 286.2 424 278.9 412 273.3 406.2 268.2 404 265.6 402 261.2 395.7 257.2 394.3 253.2 397.7 243.2 398.6 238.2 397.9 235.2 395.5 233.2 395.9 232.5 400 228.9 402 223.3 404 219.2 404.3 219 406 220.5 410 222.3 412 224.2 416 233.2 424.5 237.5 432 241.2 435.3 243.2 435.6 247.2 438.7 249.2 439.5 263.2 453.1 267.2 453.4 269.3 454.9 271.3 455.1 275.3 458.9ZM446.8 454 449.4 454 453.4 450.9 455.4 450.6 463.4 443.2 467.4 441 471.4 437.3 474 434 475.4 431.3 477.4 429.7 483.4 427.3 488.6 422 490.1 420 490.6 418 492.6 416 492.7 414 494.5 412 494.5 410 504.1 400 504.5 395.9 506.3 393.9 506.7 391.9 511.5 385.9 511.4 384.7 505.2 383.9 499.4 381.7 492.1 381.9 489.4 380.7 485.4 382 477.4 382 473.4 382.6 465.4 381.1 461.8 385.9 457.4 390.2 455.4 391.3 449.4 392.9 448.5 393.9 447.3 397.9 448.1 402 447.3 405.6 444 410 442.8 414 443.8 424 443 440 443.7 442 447.3 446.4 448 448 448.5 450 447.3 453.4ZM438.1 410 439.3 411 442 410 442.5 408 441.1 404 439.3 403 436.7 404 435.9 406 437.3 409.2ZM342.4 406 345.3 406.2 347.3 404 348 402 345.3 400.3 341.3 400.3 339.6 402 341.3 405.9ZM360.7 406 361.3 407.1 365.3 407.9 369.3 407.3 373.3 405.8 381.3 406.2 383.3 405.8 385.8 404 387.3 403.6 388.7 400 387.3 397.9 381.3 398.2 377.3 400.1 365.3 400.4 363.3 400.9 361.3 402 359.5 404ZM361.9 397.9 365.3 398.3 371.3 397.1 374.2 395.9 376.4 393.9 376.7 391.9 375.8 387.9 376.3 385.9 378.8 381.9 378.9 379.9 377.9 373.9 378.3 365.9 377.6 361.9 369.3 338 359.3 311.7 357.1 311.9 343.3 349.7 339.6 361.9 338 371.9 339.9 383.9 337.8 387.9 337.9 389.9 339.3 392 345.3 394.8 349.3 395.8 353.3 397.6 355.3 397.9 359.3 397.2 361.3 397.8ZM243 393.9 245.4 393.9 243.2 393.8ZM294.5 327.9 297.3 328.6 299.3 328.4 317.6 323.9 355.3 310.1 355.3 307.7 317.1 293.9 305.3 290.2 285.3 287.5 283.3 287.9 281.1 289.9 280.3 293.9 275.8 299.9 275.1 305.9 273.4 309.9 274.2 311.9 279.1 317.9 280.1 323.9 281.3 325.1 285.3 326.7 291.3 326.7 293.3 327.4ZM412.6 327.9 423.3 329.2 431.3 329.3 434.5 327.9 437.3 324.2 436.4 319.9 437.1 315.9 437.8 313.9 441.3 309.9 441.8 307.9 437.3 300.8 435.8 295.9 433.3 293.5 425.3 288.6 423.3 288.3 400.8 293.9 388.2 297.9 361.1 307.9 361.3 310.1 388.3 319.9 411.3 327.5ZM357 305.9 359.3 305.9 371.1 269.9 374.5 257.9 375.6 249.9 375.2 231.9 373.3 228.1 371.3 225.9 365.3 224.7 364.7 223.9 363.9 219.9 361.3 216.5 360.1 215.8 367.3 215.8 368.9 213.8 367.3 211.1 365.3 210.3 355.3 209.9 349.3 210.2 347.3 211.6 345.9 213.8 347.3 215.5 358.8 215.8 355.3 218.6 345.3 221.9 339.3 227.7 336.2 231.9 335.2 245.9 336 249.9 343.3 270.9 356.4 303.9ZM458 247.9 459.4 248.6 461.1 247.9 460.8 245.9 459.4 244.2 457.4 243.5 456.5 243.9 456.6 245.9 457.4 247.1ZM473.1 239.9 475.4 240.3 485.4 239.4 503.4 234.9 510.1 231.9 510.1 229.9 506.4 223.9 506.3 221.9 504.8 219.9 504.6 217.8 493.2 205.8 489.2 199.8 488 193.8 486.8 191.8 483.4 188.6 481.4 188.4 477.4 186.4 471.4 180.7 467.4 178.3 457.4 168.5 456 167.8 449.4 160.9 441.3 160.3 439.3 159.9 437.3 158.7 435.3 158.5 433.3 156.7 429.3 154.6 423.3 148.7 419.3 146.7 411.3 146.8 409.3 146.5 407.3 145.2 404.7 145.8 402.5 159.8 402.5 171.8 402.8 175.8 405.6 183.8 406.1 189.8 411.3 195.5 415.9 203.8 419.3 207.8 421.5 211.8 425.2 215.8 439.9 223.9 442.2 225.9 445.1 229.9 450 231.9 451.9 233.9 453.4 236.6 455.4 237 456.9 235.9 461.4 235.4 463.5 235.9 467.4 238.2 471.4 239.6ZM221.1 235.9 223.2 236.1 229.2 235.3 239.2 233.2 245.2 233.3 247.2 232.4 257.2 226.2 262.4 221.9 270.6 211.8 275.3 203.6 277.3 202 279.4 201.8 281 199.8 281.3 187.8 282.9 181.8 279.3 178.6 276.6 167.8 275 163.8 273.3 162 271.3 163.1 269.3 163 267.2 163.4 265.2 164.7 263.2 164.9 259.2 167.4 254.9 171.8 250.3 177.8 249.2 180.4 247.2 182 243.2 182.5 237.2 185.1 226 199.8 225.6 201.8 220.4 207.8 219.8 209.8 218.2 211.8 217.8 213.8 213.2 218.9 208.9 221.9 206.5 225.9 207.2 231.2 219.2 235.4Z"/>
<path fill="#00ff8c" d="M277.5 460 279.3 460.6 283 460 283.8 458 285.8 448 285.8 438 283.7 424 278.1 414 273.3 408.5 261.2 401.2 257.2 400.1 251.2 399.9 235.2 401.2 221.2 406.2 220.5 408 220.7 410 222.5 412 224.4 416 233.2 424.2 237.7 432 241.2 435.1 243.2 435.4 247.2 438.4 249.2 439.3 263.2 452.9 267.2 453.2 269.3 454.7 271.3 454.9 275.3 458.7 277.3 459.8ZM451.2 450 453.4 450.5 455.4 450.3 463.4 443 467.4 440.9 470.4 438 473.8 434 474.5 432 475.4 431.1 477.4 429.5 479.4 429.1 483.4 427.1 488.5 422 490.5 418 492.5 416 492.6 414 494.3 412 494.3 410 503.9 400 504.3 395.9 506.1 393.9 506.4 391.9 509.6 387.9 509.4 386.7 497.4 384.2 487.4 383.8 475.4 384.5 469.4 385.9 463.4 388.7 455.3 395.9 452.3 400 448.4 408 446.7 412 445.9 416 445.7 424 446.5 438 450.4 448ZM361.2 406 363.3 406.7 365.3 406.7 379.3 404.5 385.3 403.1 387.3 402 388.3 400 387.3 398.5 383.3 398.7 377.3 400.6 361.3 402.5 360.1 404ZM340.6 404 341.3 405.1 345.3 405.5 346.7 404 346.3 402 345.3 401.2 341.3 400.8 340.2 402ZM363.1 391.9 365.3 391 367.3 387.1 373.3 383 375.2 379.9 375 371.9 376.6 363.9 369.3 339.3 359.3 311.8 357.2 311.9 343.3 351.8 341.1 361.9 340.4 369.9 340.5 371.9 343.1 379.9 345.3 383.6 347.3 385.5 353.3 388.9 361.3 391.5ZM295.4 325.9 299.3 326.6 305.3 325.2 315.3 323.8 355.3 310 355.3 307.8 315.3 294 306.9 291.9 301.3 291.2 291.3 292.9 287.3 294.8 282 299.9 281.9 305.9 280.5 311.9 282.3 315.9 286.5 321.9 295.3 325.9ZM412.3 325.9 415.3 326.1 421.3 325.4 423.3 324.9 424.7 323.9 430 315.9 431.1 311.9 433.6 307.9 433.8 305.9 432.9 303.9 425.1 297.9 421.3 293.6 419.3 292.9 405.3 293.8 396.8 295.9 389.3 298 361.2 307.9 361.3 310 389.3 319.7 411.3 325.7ZM357 305.9 359.3 305.6 369.3 273.7 373 259.9 373.9 249.9 372.4 233.9 371.3 231.7 369.3 230.1 363.3 228.8 359.3 224.9 357.3 224.2 353.3 224.5 345.3 228 343.5 229.9 340.3 237.9 339.7 241.9 337.3 247.2 337.4 249.9 339.4 257.9 343.3 269.5 356.5 303.9ZM480 237.9 485.4 238.1 495.4 236.3 503.4 234.1 509.4 231.2 509.8 229.9 506.2 223.9 506.2 221.9 504.6 219.9 504.4 217.8 493 205.8 489 199.8 488.7 195.8 486.7 191.8 483.4 188.8 481.4 188.5 477.4 186.5 471.4 180.8 467.4 178.4 457.4 168.6 455.7 167.8 449.4 161.1 439.3 160.1 437.3 158.9 435.3 158.7 433.3 156.9 429.3 154.7 423.3 148.9 419.3 146.9 411.3 147 409.3 146.8 407.3 145.5 405.8 145.8 404.2 151.8 403.1 161.8 403.8 171.8 409.8 189.8 419.3 203.8 428 213.8 431.3 216.9 439.3 221.4 447.3 227.2 455.4 232.2 463.4 233.7 471.4 236.5 479.4 237.8ZM214 231.9 219.2 233.3 223.2 233.7 233.2 232.8 245.2 230.4 249.2 228.8 257.2 224.2 263.8 217.8 269.7 209.8 276.4 195.8 276.8 193.8 277.3 181.8 275.7 171.8 273.3 163.7 269.3 163.2 265.2 164.9 263.2 165.1 259.2 167.6 257 169.8 250.6 177.8 250 179.8 247.2 182.2 243.2 182.7 236.8 185.8 226.1 199.8 225.7 201.8 220.7 207.8 220 209.8 218.3 211.8 218.1 213.8 213.2 219 209.1 221.9 206.7 225.9 207.2 229.4 213.2 231.6ZM346.5 213.8 347.3 214.8 359.3 215.2 367.3 215 368.3 213.8 367.3 212.4 365.3 211.4 357.3 211 351.3 211.3 347.3 212.6Z"/>
<path fill="#00ffa6" d="M278.1 460 279.3 460.4 281.8 460 282.5 458 284.6 448 284.5 436 282.2 424 276.4 414 273 410 261.2 402.9 257.2 401.6 251.2 401 237.2 402.2 227.2 405 221.2 407.5 220.9 410 224 414 224.6 416 233.2 424 237.2 431.3 241.2 435 243.2 435.3 245.2 437 249.2 439.2 254.7 444 263.2 452.8 267.2 453 269.3 454.6 271.3 454.7 275.3 458.5 277.3 459.3ZM452.6 450 455.4 450.1 457.4 448.6 463.4 442.8 467.4 440.7 471.4 436.9 475.4 431 477.4 429.3 479.4 429 483.4 427 488.4 422 490.4 418 492.3 416 492.4 414 494.2 412 494.2 410 503.7 400 504.1 395.9 505.8 393.9 506.1 391.9 507.8 389.9 508.6 387.9 497.4 385.5 487.4 385.1 477.4 385.5 471.4 386.7 465.4 389.5 461.4 392.2 455.5 397.9 448.8 410 447.7 414 446.9 422 448 438 451.8 448ZM341 404 341.3 404.4 345.3 404.9 346.2 404 345 402 341.3 401.4 340.7 402ZM360.6 404 361.3 405.2 363.3 405.7 367.3 405.4 383.3 402.9 387.3 401.1 387.8 400 387.3 399.2 385.3 399.1 371.3 402.5 361.3 403.1ZM358.6 385.9 361.3 386.2 363.3 383.9 368.7 379.9 371.3 374.8 374.5 363.9 373.8 357.9 369.3 340.9 359.3 311.9 357.3 311.9 345.3 347.9 343.8 353.9 342.3 369.9 343.3 373.2 347.3 380 349.3 381.8 357.3 385.3ZM296.5 323.9 299.3 324.6 305.3 323.4 313.3 323.1 319.3 321.8 355.3 309.9 355.3 307.9 315.3 295 305.3 293.3 301.3 293.3 297.3 294.6 291.3 297.9 289.3 299.9 286 307.9 285.5 311.9 286.4 315.9 289.3 319.2 295.3 323.1ZM400.7 321.9 409.3 323.4 415.3 322.9 421.3 320.4 424.4 317.9 425.8 315.9 427.4 305.9 426.6 303.9 419.3 297.7 415.3 296.2 407.3 295.2 399.3 296.2 389.3 298.6 361.3 307.9 361.4 309.9 385.3 317.9 399.3 321.6ZM357.1 305.9 359.3 305.4 369.7 269.9 371.9 257.9 372.1 249.9 371.4 245.9 366.4 233.9 365.3 233.1 361.3 233.1 359.3 232 357.1 229.9 355.3 229.2 353.3 229.4 347.3 233.1 345.3 235.2 343.4 243.9 340.4 247.9 339.9 249.9 340.7 257.9 343.5 267.9 356.6 303.9ZM476.9 235.9 483.4 237 493.4 235.9 503.4 233.2 509.4 230.1 506.1 223.9 506 221.9 504.4 219.9 504.2 217.8 492.8 205.8 488.9 199.8 488.5 195.8 486.6 191.8 483.4 189 481.4 188.6 477.4 186.6 471.4 181 467.4 178.5 457.4 168.7 455.5 167.8 449.4 161.3 447.3 160.7 439.3 160.3 437.3 159.1 435.3 158.8 433.3 157 429.3 154.9 423.3 149.1 419.3 147 409.3 147.1 407 145.8 404.7 153.8 404 161.8 405 171.8 410.6 187.8 411.8 189.8 419.7 201.8 430.1 213.8 432.5 215.8 439.3 219.6 445.3 224.1 455.4 230.5 475.4 235.6ZM219.1 231.9 223.2 232.4 231.2 231.8 243.2 229.5 247.2 228.3 251.2 226.5 257.2 222.7 263.7 215.8 269.5 207.8 274.6 195.8 275.6 191.8 275.9 181.8 274 169.8 272.2 163.8 269.3 163.4 262.3 165.8 259.4 167.8 255.2 172.1 250.8 177.8 250.2 179.8 249.2 180.7 247.2 182.4 243.2 182.8 237.2 185.6 235.2 188 226.2 199.8 225.9 201.8 220.9 207.8 220.2 209.8 218.5 211.8 218.3 213.8 211.2 221.1 209.6 221.9 206.9 225.9 207.2 228 211.6 229.9 217.2 231.4ZM347.1 213.8 349.3 214.5 365.3 214.6 367.7 213.8 365.3 212.5 357.3 211.9 349.3 212.7 347.3 213.5Z"/>
<path fill="#00ffbf" d="M278.7 460 280.5 460 283.3 450 283.7 442 283.3 434.7 280.5 424 274.8 414 271.3 410.1 260.5 404 253.2 402.3 249.2 402 237.2 403.4 227.7 406 222.8 408 221.2 410 224.4 414 224.8 416 229.2 420.5 231.2 421.4 233.6 424 236.4 430 241.2 434.9 243.2 435.1 245.2 436.9 249.2 439 254.9 444 263.2 452.6 267.2 452.8 269.3 454.4 271.3 454.5 275.3 458.4 277.3 458.8ZM453 448 453.4 448.9 455.4 449.3 457.4 448.4 463.4 442.6 467.4 440.5 471.4 436.7 474.1 432 477.4 429.1 479.4 428.8 481.4 427.4 483.4 426.8 488.2 422 490.2 418 492.2 416 492.2 414 494 412 494 410 503.5 400 503.8 395.9 505.6 393.9 505.9 391.9 507.6 389.9 507.4 388.9 497.4 386.8 481.4 386.5 473.4 387.4 469.4 388.9 464 391.9 457.4 397.8 451.4 407.3 448.8 414 448.1 424 448.8 436 449.7 440 452.1 446ZM342.4 404 345.6 404 345.3 403.3 343.3 403ZM361.1 404 363.3 404.8 365.3 404.8 372.4 404 367.3 403.3 361.3 403.7ZM341.3 402 341.3 401.9ZM375.4 402 377.3 402.6 381.3 402.5 383.8 402 387.3 399.8 383.3 399.9 381.3 401.1 377.3 401.7ZM357.5 379.9 361.3 380.1 364.6 377.9 369.3 371.2 372.7 361.9 372.2 355.9 368.9 341.9 359.3 312.2 357.3 312.2 349.3 336.9 346.2 347.9 344.8 355.9 344.4 369.9 345.1 371.9 347.3 374.4 351.3 377.4 357.3 379.9ZM299 321.9 313.3 321.9 319.3 320.9 355 309.9 355 307.9 315.3 296.1 303.3 295.4 299.3 297 294.5 299.9 292.5 301.9 290.9 305.9 290.6 313.9 295.3 318.1 297.3 320.7ZM397.1 319.9 403.3 321.1 411.3 321.3 414.7 319.9 421.1 315.9 422.3 313.9 423.1 305.9 422 303.9 417.2 299.9 409.3 297.1 401.3 296.9 391.3 298.8 361.7 307.9 361.7 309.9 385.3 317.3 395.3 319.5ZM357.2 305.9 359.3 305.1 359.7 303.9 368.9 269.9 370.3 259.9 369.9 249.9 369.2 247.9 366.2 245.9 364.4 243.9 363 239.9 361.3 238.8 355.3 237.1 351.3 238.3 348.8 239.9 344 247.9 342.4 251.9 342.1 257.9 345.3 271.5 356.7 303.9ZM473.4 233.9 481.4 235.4 485.4 235.6 495.4 234.4 504.3 231.9 507.9 229.9 507.9 227.9 505.9 223.9 505.8 221.9 504.2 219.9 504.1 217.8 492.6 205.8 488.7 199.8 488.4 195.8 486.5 191.8 485.4 190.8 483.4 189.1 481.4 188.7 477.4 186.7 471.4 181.1 467.4 178.6 457.4 168.8 455.3 167.8 449.4 161.5 447.3 160.8 439.3 160.4 437.3 159.3 435.3 159 433.3 157.2 429.3 155 423.3 149.3 421.3 148.7 419.3 147.2 407.3 147.7 405.5 153.8 404.8 161.8 405.3 166.4 406.4 171.8 409 177.8 412.2 187.8 421.3 201.6 433.3 214.8 439.3 217.8 445.3 222.6 455.4 229 473.4 233.8ZM216 229.9 223.2 231 233.2 230.2 243.2 228.4 249.2 226.2 253.6 223.9 260.3 217.8 267.2 208.9 269.3 205.4 273.3 195.8 274.3 191.8 274.6 181.8 273.2 171.8 270.9 163.8 269.3 163.6 267.2 164.8 262.6 165.8 255.2 172.5 251 177.8 250.4 179.8 247.2 182.6 243.2 182.9 237.3 185.8 235.2 188.2 226.4 199.8 226.1 201.8 221.1 207.8 220.4 209.8 218.7 211.8 218.5 213.8 211.2 221.4 210.2 221.9 207.1 225.9 207.2 226.3 210 227.9 215.2 229.6ZM348.8 213.8 351.5 213.8 349.3 213.7ZM356.8 213.8 365.3 214 366.1 213.8 365.3 213.6 357.3 213.8Z"/>
<path fill="#00ffd9" d="M275.1 458 279.3 459 281.5 450 281.7 438 281.3 434.1 278.8 426 274 420 273.3 415.7 271.3 412.5 265.2 409.5 260.3 406 255.2 404 251.2 403.4 241.2 404 233.2 406.9 225.7 408 222.6 410 223.2 412.3 224.7 414 224.9 416 229.2 420.4 231.2 421 234 424 236.6 430 240.4 434 241.2 434.7 243.2 434.9 245.2 436.7 249.2 438.9 255.1 444 263.2 452.4 267.2 452.6 269.3 454.2 271.3 454.4 273.3 456.2ZM454.5 448 455.4 448.5 457.4 448.2 463.4 442.4 465.4 440.8 467.4 440.4 471.4 436.5 474 432 477.4 428.9 479.4 428.7 481.4 427.1 483.4 426.7 488.1 422 490.1 418 492 416 492.1 414 493.9 412 493.9 410 501.7 402 503.4 399.1 503.6 395.9 505.4 393.9 506.3 389.9 497.4 388.4 487.4 388.9 481.4 388.1 475.4 388.5 470.3 389.9 459.8 397.9 451.4 410.2 450.3 414 450.2 420 449.4 424 450.2 436 451.4 441 453.4 446ZM363.2 404 367.8 404 363.3 403.9ZM351.2 373.9 357.3 375.3 359.3 375.2 363.3 373.2 367.3 369.8 368.6 367.9 370.4 363.9 371.2 359.9 370.4 351.9 367.8 339.9 359.3 312.6 357.3 312.5 349.6 337.9 346.7 349.9 346.1 355.9 346.9 369.9 349.3 372.8ZM306.7 319.9 313.3 320.6 321.3 319.5 354.6 309.9 354.7 307.9 325.3 299.5 313.3 297.1 303.3 298.3 299.3 300 296.3 301.9 294.7 303.9 294 305.9 294.2 309.9 295.2 311.9 299.3 315.2 301.3 318.1 305.3 319.6ZM390.4 317.9 401.3 319.6 409.3 319.5 413.3 317.9 417.5 313.9 418.8 311.9 419.5 307.9 419.2 305.9 417.9 303.9 413.3 300.4 407.3 298.5 399.3 298.2 389.3 299.9 362 307.9 362 309.9 389.3 317.7ZM357.3 305.9 359.3 304.8 359.6 303.9 368.1 269.9 368.8 259.9 367.9 253.9 366 249.9 361.3 244.4 359.3 242.5 355.3 241.2 351.3 242.2 349.3 243.6 346.5 247.9 344.1 253.9 343.9 259.9 345.7 269.9 351.3 288.3 356.8 303.9ZM479.5 233.9 483.4 234.2 493.4 233.6 503.4 231 507.4 228.7 507.5 227.9 505.7 223.9 505.6 221.9 504 219.9 503.9 217.8 494 207.8 488.5 199.8 488.3 195.8 486.3 191.8 483.4 189.3 479.4 188 477.4 186.8 471.4 181.3 467.4 178.7 457.4 168.9 455.1 167.8 449.4 161.7 447.3 160.9 439.3 160.6 437.3 159.4 435.3 159.1 429.3 155.2 423.3 149.5 421.3 149 419.3 147.4 408.6 147.8 406.6 153.8 405.9 161.8 407.3 169.5 410.7 177.8 412.7 185.8 420.4 197.8 433.3 212.8 439.3 215.8 445.3 221 455.4 227.5 465.4 230.6 479.4 233.8ZM215.6 227.9 223.2 229.1 227.2 228.3 243.2 226.7 250.8 223.9 253.8 221.9 257.8 217.8 267.2 204.6 271.3 196.4 272.8 191.8 273.3 187.8 273.2 181.8 272.1 177.8 271.4 169.8 269.3 163.9 267.2 165.4 263.2 165.6 260.6 167.8 253.2 175.1 251.2 177.8 250.6 179.8 247.2 182.8 243.2 183.1 237.5 185.8 235.2 188.4 226.5 199.8 226.3 201.8 222.7 205.8 220.6 209.8 218.8 211.8 218.8 213.8 209.2 223.7 209.2 225 210.3 225.9 215.2 227.7Z"/>
<path fill="#00fff2" d="M273.2 456 275.3 457 277 454 277.4 452 276.6 448 271.3 440.1 270.6 438 271.3 435.3 273.4 432 273.2 430 268.5 428 265.4 424 263.2 423.2 259.2 420.4 254.1 418 253.5 416 254 414 255.4 412 255.5 410 253.6 408 251.2 407.4 249.2 407.9 245.2 406.4 243.2 406.3 239 408 235.2 413.4 233.2 413.6 229.2 410.4 227.2 409.8 223.6 412 225.1 414 225.1 416 229.2 420.2 231.2 420.6 234.3 424 236.7 430 241.2 434.6 243.2 434.8 245.2 436.6 249.2 438.7 255.4 444 263.2 452.3 267.2 452.4 269.4 454 271.3 454.2ZM247.2 410.5 247.2 409.4 249.2 408.1 249.9 410 249.2 410.8ZM457 448 465.4 440.4 467.4 440.2 471.7 436 473.8 432 477.4 428.7 479.4 428.5 481.4 426.9 483.4 426.6 487.9 422 489.9 418 491.9 416 491.9 414 493.7 412 493.7 410 501.5 402 501.7 400 503.4 398 502 395.9 502.8 393.9 501.4 392.4 499.9 391.9 493.4 391.4 491.4 391.7 485.4 395.4 479.4 396.1 475.9 397.9 475.4 399.5 474.4 397.9 473.4 393.9 471.4 394.1 470.8 395.9 470.9 402 468.9 406 471.4 408.9 471.8 410 471.4 410.9 469.4 412.6 467.4 410.7 465.4 409.8 459.9 412 459.3 414 460.7 418 460.6 420 458.8 422 454 424 453.4 425.5 452.3 436 453.4 440.5 455.8 446ZM354.7 371.9 359.3 371.7 365.3 368.6 367.6 365.9 369.7 359.9 369.3 351.9 367.1 339.9 359.3 312.9 357.3 312.9 350.2 337.9 347.7 349.9 347.4 355.9 349.5 367.9 350.5 369.9 353.3 371.6ZM306.8 317.9 313.3 319.2 323.3 318.2 354.3 309.9 354.4 307.9 325.3 300.2 315.3 298.4 311.3 298.7 299.3 302.9 298.1 303.9 297 305.9 297.1 307.9 298.3 309.9 305.3 317ZM397 317.9 403.3 318.3 409.3 317.4 411.3 316.6 413.3 314.9 416.4 309.9 416.5 307.9 415.9 305.9 413.3 303.1 409.3 300.9 403.3 299.3 397.3 299.3 389.3 300.6 362.3 307.9 362.3 309.9 363.3 310.2 385.3 316.2 395.3 317.7ZM356.8 303.9 357.3 305.7 359.3 304.5 365.2 279.9 367.5 267.9 367.6 261.9 366.9 257.9 365.3 254 361.3 248.2 359.3 246.4 355.3 245.4 351.3 245.8 349.3 247.6 347 251.9 345.7 255.9 345.4 261.9 347 271.9 351.6 287.9 356.3 301.9ZM477.2 231.9 481.4 232.3 493.4 231.8 502.2 229.9 505.7 227.9 505.4 221.9 503.8 219.9 503.7 217.8 493.9 207.8 490.7 203.8 490 201.8 488.4 199.8 488.2 195.8 486.2 191.8 483.4 189.4 479.4 188.2 477.4 186.9 471.4 181.4 467.4 178.8 457.4 169.1 455.4 168.2 449.3 161.8 447.3 161 439.3 160.8 437.3 159.6 435.3 159.2 433.3 157.5 431.3 157 423.3 149.6 421.3 149.3 419.3 147.6 410.4 147.8 408.7 151.8 407.3 159.3 407.6 163.8 412.1 175.8 413.3 182.4 415.3 187.3 419.1 191.8 422.7 197.8 428.8 203.8 433.3 209.7 436.2 211.8 441.3 214.1 446.4 219.9 451.4 222.3 457.4 226.7 465.4 229.2 475.4 231.4ZM213.2 221.9 219.2 223.3 231.2 222.1 233.2 220.8 237.2 216.8 239.2 217 243.2 219.3 245.2 219.7 247.3 215.8 249.2 213.5 253.2 211.7 256.2 207.8 254.2 199.8 255.2 198.1 257.2 197.2 259.2 197 263.2 198.7 265.2 198 269.1 193.8 269.8 191.8 269.3 189.2 263.2 189.2 262.1 187.8 262.5 179.8 261.7 173.8 263.2 172.5 267.2 174.6 268.3 173.8 268.8 171.8 267.2 168 265.2 166.6 263.2 165.9 261.1 167.8 253.2 175.4 250.8 179.8 247.2 183 243.2 183.2 237.2 186.4 226.6 199.8 226.5 201.8 222.9 205.8 220.9 209.8 219 211.8 219 213.8 213.2 219.9 213.2 221.8Z"/>
<path fill="#00f2ff" d="M263.1 452 267.2 452.2 271.3 453.8 272.4 452 272.5 450 267 440 266.3 438 266 434 264.9 432 255.8 426 249.2 420.6 245.2 418.4 243.2 417.9 239.2 418.4 233.2 417.8 229.2 418 229.2 420 231.2 420.2 234.7 424 235 426 236.5 428 236.8 430 238.6 432 241.2 434.5 243.2 434.6 245.2 436.5 247.2 437.1 249.2 438.6 253.2 442.3 255.8 444 257 446 261.2 450.3ZM463.3 440 467.4 440 471.5 436 472 434 473.7 432 477.4 428.5 479.4 428.4 481.4 426.7 483.4 426.4 487.8 422 488.4 420 491.7 416 491.7 414 493.6 412 493.6 410 499.4 404 499.4 402.8 483.4 404.1 481.6 406 479.9 410 477.4 413.5 470 420 467.4 426 463.3 432 462.2 436 462.4 438ZM353.2 367.9 357.3 369.5 359.3 369.3 362.3 367.9 364.9 365.9 366.3 363.9 368.3 357.9 368.2 351.9 366.4 339.9 359.3 313.2 357.3 313.2 350.8 337.9 348.8 347.9 348.9 355.9 351.9 365.9ZM307.2 315.9 309.3 317 313.3 317.8 323.3 317.4 354 309.9 354.1 307.9 329.3 301.8 321.3 300.4 313.3 299.7 309.3 301 302.2 305.9 301.7 307.9 305.4 313.9ZM386.8 315.9 401.3 317.1 407 315.9 410.9 313.9 413.1 309.9 413.1 307.9 412.1 305.9 410.3 303.9 407.3 301.9 403.3 300.6 397.3 300.3 389.3 301.4 362.6 307.9 362.7 309.9 385.3 315.6ZM356.9 303.9 357.3 305.4 359.4 303.9 364.6 279.9 366.6 267.9 365.8 259.9 363.9 255.9 361.3 252.3 359.3 249.8 357.3 248.8 353.3 249 351.3 250.2 348.6 253.9 347.3 257.7 346.8 263.9 347.9 271.9 351.5 285.9 356.4 301.9ZM471.9 227.9 477.4 229 483.4 227.9 489.4 229.3 501.4 227 504.8 223.9 503.6 219.9 503.6 217.8 493.7 207.8 490.5 203.8 489.9 201.8 488.2 199.8 488 195.8 485.4 191.1 483.4 189.6 479.4 188.4 477.4 187 471.4 181.6 467.4 178.9 457.4 169.2 455.4 168.4 452.7 165.8 451.4 163.8 449 161.8 447.3 161.1 439.3 161 437.3 159.8 435.3 159.4 433.3 157.7 431.3 157.2 423.3 149.8 421.3 149.6 419.3 147.7 414.1 147.8 413.5 151.8 411.3 154.5 410.2 159.8 410.3 161.8 411.3 163.7 413.9 165.8 413.4 171.8 416.1 181.8 417.3 184.6 421.5 187.8 423.3 193.8 424.5 195.8 427.3 198.5 431.3 200.9 435.3 202.3 439.3 202 441.8 207.8 443.3 208.4 449.4 208.6 451.4 209.4 453.1 211.8 452.2 213.8 451.4 214.7 449.4 214.9 447.6 215.8 449.4 217.2 451.4 217 457.4 218.6 459.4 217.4 459.7 217.8 458 221.9 459 223.9 465.4 226.7 471.4 227.7ZM223 215.8 227.2 217.6 229.2 217.7 231.1 215.8 233.5 211.8 237.2 210.4 241.2 210.4 245.2 208.5 249.2 205.6 250.4 203.8 250.7 197.8 255.2 192.9 256.8 189.8 258.3 179.8 258.2 177.8 256.4 173.8 255.2 173.7 253.2 175.6 252.5 177.8 250.9 179.8 247.2 183.2 243.2 183.3 241.2 184.8 238 185.8 235.2 188.8 232.7 191.8 230.3 195.8 226.8 199.8 226.7 201.8 223 205.8 222.5 207.8 219.2 211.8 219.2 214.1 221.2 215.2Z"/>
<path fill="#00d9ff" d="M264.6 452 266.3 452 266.6 450 264.5 442 260.4 434 258.8 432 247.2 423.3 243.2 422.3 233.2 421.5 235 424 235.2 426.2 236.8 428 237 430 241.2 434.3 243.2 434.4 245.2 436.4 247.2 436.8 253.2 442.2 255.2 443 259.2 448.2 263.2 451.4ZM470 436 471.4 436 471.5 434 477.4 428.3 479.4 428.2 481.4 426.4 483.4 426.3 487.7 422 488 420 491.6 416 491.5 414 493.4 412 493.4 408.8 487.4 408.6 485.4 409 483.4 410.6 477.4 418 473.4 421.3 471.6 424 468.4 432 468.4 434 469.4 435.3ZM356.1 365.9 357.3 366.5 359.3 366.5 363.1 363.9 365.3 360.9 366.9 355.9 367 351.9 365.7 339.9 359.3 313.5 357.3 313.5 357.2 313.9 351.4 337.9 349.7 347.9 350.8 357.9 353.3 363.5 355.3 365.5ZM311.2 315.9 321.3 316.7 325.3 316.3 353.7 309.9 353.8 307.9 327.3 302.1 319.3 301.2 313.3 301.2 311 301.9 309.3 303.3 306.2 307.9 306.1 309.9 306.7 311.9 309.3 315ZM396.7 315.9 401.3 315.7 406.4 313.9 408.8 311.9 409.4 309.9 408.5 305.9 407 303.9 403.3 302 399.3 301.3 387.3 302.5 363 307.9 363.3 310 385.3 315 395.3 315.9ZM357 303.9 357.3 305 359.3 303.9 364 279.9 365.4 269.9 365.3 263.9 363.3 258.1 357.3 251.8 355.3 251.5 354.2 251.9 351.4 253.9 350.1 255.9 348.7 259.9 348.2 263.9 348.8 271.9 352.5 287.9 356.6 301.9ZM485.1 223.9 489.4 225.3 499.4 223 502.6 219.9 503.4 217.8 490.2 203.8 489.8 201.8 488 199.8 487.9 195.8 485.4 191.2 483.4 189.7 479.4 188.6 477.4 187.1 471.4 181.8 467.4 179 457.4 169.3 455.4 168.6 452.5 165.8 451.4 164 448.7 161.8 447.3 161.3 439.3 161.2 435.3 159.5 433 157.8 431.3 157.4 425.3 151.8 423 151.8 418.9 155.8 417.6 157.8 418.4 159.8 423.5 163.8 423.8 165.8 422.8 167.8 419 171.8 419.2 173.8 423.3 175.8 425 177.8 427.3 184.2 429.3 185.2 431.3 185.2 433.3 187.1 434.5 189.8 433.9 193.8 435.3 194.4 439.3 194.4 441.3 195.3 447.3 199.1 455.4 205.8 461.4 209.1 469.4 215.6 471.4 216.7 479.4 219 481.1 219.9 483.4 222.2ZM224.3 209.8 227.2 210.6 235.2 207.3 239.2 205.1 245.2 203.8 246.9 201.8 248.5 195.8 252.5 189.8 253.7 177.8 253.2 175.9 253.2 177.8 247.2 183.4 243.2 183.5 241.2 185 238.3 185.8 235.2 189 232.8 191.8 232.1 193.8 226.9 199.8 226.8 201.8 223.2 205.8 223.2 209.3Z"/>
<path fill="#00bfff" d="M259.2 448 261.2 449.5 261.9 448 262 444 261.3 442 257.2 435.1 251.3 430 245.2 426.4 241.2 425.6 237.2 426 237.1 430 241.2 434.2 243.2 434.3 245.2 436.2 247.2 436.5 253.2 442 255.2 442.6 257.9 446ZM473.6 430 475.4 430 477.4 428.1 479.4 428.1 481.4 426.2 483.4 426.1 487.5 422 487.7 420 491.5 416 491.4 414 487.4 413.8 485.4 414.4 483.4 416 478.5 422 475.4 424.5 473.6 428ZM354.9 361.9 357.3 363.1 359.3 362.8 361.3 361.3 364.2 357.9 365.5 353.9 365 339.9 359.3 313.8 357.3 313.9 352.1 337.9 350.9 345.9 351 351.9 353.3 360.2ZM311.8 313.9 323.3 315.8 353.3 309.9 353.4 307.9 329.3 303.1 321.3 302.4 315.3 302.6 311.7 303.9 309.4 307.9 309.2 309.9 309.7 311.9 311.3 313.6ZM382.6 313.9 389.3 314.8 397.3 314.7 401.3 314.1 403.3 313.1 405.3 311.7 406.3 309.9 406.4 307.9 405.3 305.3 403.8 303.9 401.3 303 395.3 302.4 387.3 303.2 363.3 307.9 363.4 309.9 381.3 313.6ZM357.1 303.9 357.3 304.7 359.3 303.3 363.3 280.8 364.4 267.9 363.9 263.9 363.3 261.7 361.3 258.4 357.3 255.4 355.3 254.8 353.3 255.6 351.5 257.9 350.1 261.9 349.6 269.9 350 273.9 353 287.9 356.7 301.9ZM488.7 215.8 489.4 216.2 490.8 211.8 493.4 207.8 489.9 203.8 489.7 201.8 487.9 199.8 487.8 195.8 486.2 193.8 485.9 191.8 483.3 189.8 479.4 188.8 477.4 187.2 467.4 179.1 457.4 169.4 455.4 168.7 451.4 164.3 448.4 161.8 447.3 161.4 439.3 161.4 433.3 159 429.3 155.8 427.5 155.8 427.5 157.8 428.9 161.8 428.9 171.8 429.4 173.8 437.7 185.8 441.3 188.7 445.3 193.1 457.4 203.1 463.2 205.8 469.4 210.1 476.2 211.8 487.4 215.7ZM225.2 203.8 225.2 204.8 231.2 205.6 233.2 205.1 237.2 202.6 243.2 200.5 244 199.8 249.4 187.8 249.8 181.8 249.2 181.8 247.2 183.7 243.2 183.6 241.2 185.2 238.5 185.8 232.9 191.8 232.4 193.8 227 199.8 227 201.8 225.2 203.8Z"/>
<path fill="#00a6ff" d="M257.2 444 258 444 257 440 254 436 249.2 432 245.2 430.2 241.2 429.2 238.2 430 239.1 432 241.2 434.1 243.2 434.1 245.2 436.1 247.2 436.3 251.2 440.1 255.2 442.2ZM481.3 426 483.4 426 485.4 424 485.4 422.2 481.4 425.9ZM485.7 422 487.4 422 487.4 420.5ZM356.6 359.9 359.3 359.4 362.8 355.9 363.7 353.9 364.1 349.9 364.2 339.9 359.3 314.5 357.3 314.5 352.8 337.9 351.9 345.9 352.4 351.9 354.3 357.9 355.3 359.4ZM318.9 313.9 323.3 314.7 325.3 314.6 341.3 312 352.6 309.9 352.8 307.9 330 303.9 318.2 303.9 315.3 304.7 313.5 305.9 312.5 307.9 312.5 309.9 313.8 311.9 317.3 313.3ZM387.3 313.9 393.3 313.9 397.3 313.3 401 311.9 402.9 309.9 403.4 307.9 402.4 305.9 397.8 303.9 395.3 303.6 385.3 304.2 364.3 307.9 364.4 309.9 387.3 313.9ZM357.2 303.9 357.3 304.4 358.2 303.9 359.3 302.5 362.8 279.9 363.2 267.9 361.3 261.5 359.3 259.4 357.3 258.6 355.3 258.5 353.3 260 351.3 265.7 350.8 271.9 351.2 275.9 356.9 301.9ZM473.2 207.8 485.4 209.8 487.4 209 491 205.8 489.6 203.8 489.5 201.8 487.7 199.8 487.7 195.8 486 193.8 485.8 191.8 482.9 189.8 479.4 188.9 467.4 179.2 459.4 171.2 457.4 169.5 455.4 168.9 451.4 164.6 447.3 161.5 439.3 161.5 437.3 161.2 435.6 159.8 433.3 159.8 432.3 167.8 433.9 175.8 440 183.8 443.3 186.8 447.3 191.6 453.4 196.7 459.4 201.3 465.4 203.7 469.4 206.8 471.4 207.5ZM227.2 201.8 229.2 202.7 231.2 202.9 241.5 197.8 243.2 195.3 246.5 187.8 246.9 185.8 246.8 183.8 243.2 183.7 241.2 185.4 238.7 185.8 233.1 191.8 232.7 193.8 227.2 199.8Z"/>
<path fill="#008cff" d="M251.2 440 253 440 251.2 438.1ZM249.2 438 251 438 249.2 437.1ZM245.2 436 247.5 436 245.2 434.9ZM356.1 355.9 357.3 356.8 359.3 356.2 361.3 353.8 362.4 349.9 363.4 341.9 359.3 315.4 357.3 315.4 353.3 339.9 353.2 349.9 355.3 355ZM319 311.9 323.3 313.6 339 311.9 351.6 309.9 351.8 307.9 331.3 304.9 325.3 304.7 318.7 305.9 316.6 307.9 317.3 310.3ZM378 311.9 389.3 313 396 311.9 398.5 309.9 398.8 307.9 397.2 305.9 395.3 305.2 383.3 305.3 365.3 307.9 365.5 309.9 377.3 311.7ZM357.3 303.9 359.3 301.5 362 279.9 361.9 269.9 361.3 266.5 360 263.9 359.3 262.8 357.3 261.8 355.3 262.4 354.2 263.9 352.2 269.9 351.9 273.9 353.3 283.7 357 301.9ZM476.2 205.8 483.4 206.5 485.4 206 489.4 202.9 489.4 201.8 487.5 199.8 487.6 195.8 485.8 193.8 485.6 191.8 482.6 189.8 479.4 189.1 467.4 179.3 459.4 171.3 457.4 169.7 455.4 169.1 451.4 164.9 447.3 161.6 436.8 161.8 435.3 165.3 435.1 167.8 435.9 173.8 436.8 175.8 448 189.8 453.4 194.3 461.4 199.5 466.8 201.8 471.4 205 475.4 205.8ZM231.1 199.8 235.2 197.2 239.2 195.5 240.9 193.8 244 187.8 244.2 185.8 243.2 184.8 241.2 185.6 239 185.8 235.2 189.6 233.2 191.8 233 193.8 229.2 197.8 229.2 199.7Z"/>
<path fill="#0073ff" d="M357.1 351.9 359.3 351.3 360 349.9 361.3 346.9 362.3 341.9 359.3 316.7 357.3 316.8 354.3 339.9 354.4 345.9 355.3 350.3ZM323.1 311.9 325.3 312.2 333.3 311.7 350 309.9 350.5 307.9 337.3 306.8 331.3 305.7 327.3 305.7 323.3 306.6 321.3 307.9 321.3 310.1ZM382.9 311.9 389.4 311.9 394.3 309.9 394.5 307.9 391.3 306.6 383.3 306 367.9 307.9 368 309.9 381.3 311.7ZM357.1 301.9 357.3 303.3 359.3 299.9 360.2 287.9 361.3 279.9 360.7 271.9 359.3 267.7 357.3 266.3 355.3 267.4 353.2 271.9 353.3 277.9 356.8 299.9ZM470.5 201.8 473.4 203.1 475.4 203.2 481.4 203 483.4 202.4 487.4 199.3 487.4 195.8 485.6 193.8 485.5 191.8 483.4 191.1 482.2 189.8 479.4 189.3 469.4 181.2 459.4 171.4 457.4 169.8 455.4 169.2 447.6 161.8 442.5 161.8 440.1 163.8 438.8 165.8 438.3 167.8 439.1 173.8 442.5 179.8 449.4 189 455.4 193.4 469.4 201.2ZM235 191.8 235.2 192.3 237.9 191.8 239.2 190.5 240.2 187.8 239.2 185.8 235.2 189.8Z"/>
<path fill="#0059ff" d="M356.6 345.9 357.3 347.1 359.3 346.1 361 341.9 359.3 319.1 357.3 319.3 355.3 339.9 355.7 343.9ZM325.9 309.9 331.3 310.4 346.6 309.9 347.6 307.9 331.3 307.1 326.2 307.9ZM374 309.9 383.3 310.6 388.7 309.9 387.9 307.9 385.3 307.4 373.5 307.9ZM357.3 301.9 358.3 299.9 359.2 295.9 360.1 281.9 359.9 275.9 359.3 272.8 357.3 270.6 355.3 271.6 354.5 273.9 355.3 287.3 357.1 299.9ZM471.1 199.8 475.4 200.6 481.4 199.5 483.9 197.8 485.4 195.8 485.4 191.8 483.4 191.5 481.8 189.8 479.4 189.5 469.4 181.3 459.4 171.5 456.9 169.8 455.4 169.4 449.5 163.8 447.3 162.6 445.3 163.3 443.3 164.9 441.8 167.8 441.9 171.8 445.1 179.8 449.4 186.4 451.4 188.5 469.4 199Z"/>
<path fill="#0040ff" d="M357.2 339.9 357.3 341.2 359.4 339.9 359.3 339.4 357.3 338.5ZM357.9 329.9 359.3 330.5 359.3 329ZM357.3 299.9 358.5 281.9 357.4 275.9 356.8 277.9 357.2 297.9ZM472.6 197.8 475.4 198 479.4 197 481.4 195.6 482.6 193.8 483.1 191.8 481.5 189.8 479.4 189.7 477.6 187.8 475.4 186.9 459.4 171.6 455.4 169.6 451.4 165.8 449.4 165.3 447 165.8 445 167.8 444.7 169.8 446.7 177.8 451.4 185.5 465.4 194.5 471.4 197.5Z"/>
<path fill="#0026ff" d="M469.5 193.8 473.4 194.5 477.4 193.7 478.6 191.8 478.6 189.8 477.4 187.8 475.4 187.5 459.4 171.7 457.4 171.2 453.4 168.6 449.2 169.8 448.3 171.8 448.3 173.8 449.4 177.3 453.8 183.8 456 185.8 465.4 192.2 469.4 193.8Z"/>
<path fill="#000dff" d="M466.2 189.8 469.4 190 471.4 189.4 473.1 187.8 473.4 185.8 459.4 171.8 454.4 171.8 452.5 173.8 452.7 175.8 457.5 183.8 465.4 189.6Z"/>
<path fill="#0000ff" d="M462.3 183.8 463.4 184.6 465.4 184.9 466.2 183.8 466.6 181.8 466.1 179.8 465.4 179 463.4 177.8 461 177.8 459.8 179.8 461.4 182.9Z"/>
<path fill="none" stroke="#000" stroke-width="1.5" stroke-linejoin="round" d="M349.3 480.1 347.3 478.1 336.9 478 341.3 476.3 349.3 477 353.3 473.9 355.3 473.1 361.3 474.8 373.3 475.6 378.5 478 367.3 478.1 365.3 476 361.3 476.1 359.6 478 357.3 478.1 355.3 480.1 349.3 480.1ZM383.3 478 381.9 478 383.3 478ZM191.2 348 190.6 333.9 188.9 331.9 188.8 329.9 188.7 305.9 187.1 303.9 186.8 295.9 188.7 293.9 189.2 291 190.4 289.9 191.2 280.7 193.2 280.7 195.2 281.1 201.1 285.9 203.2 289.9 207.6 295.9 210.5 305.9 211 315.9 208.4 323.9 208.6 329.9 203.3 339.9 197.2 348.4 193.2 349.6 191.2 348ZM335.3 332.8 334 331.9 335.1 329.9 344.7 319.9 351.3 315 352.2 315.9 347.3 322.5 339.3 330.5 337.3 332.1 335.3 332.8ZM353.3 314.8 352.5 313.9 353.3 313.5 353.7 313.9 353.3 314.8ZM355.3 312.3 354.9 311.9 355.4 311.9 355.3 312.3ZM357.3 310 357.2 307.9 359.3 307.7 359.3 309.1 358.5 309.9 357.3 310ZM355.3 305.9 355.3 305.9ZM361.3 306 361.3 305.5 361.7 305.9 361.3 306ZM353.3 303.9 353.3 303.9ZM363.3 304.3 362.9 303.9 363.3 303.1 364.1 303.9 363.3 304.3ZM351.3 302 351.3 302ZM365.3 302.6 364.6 301.9 365.3 300.8 377.3 286.6 381.3 283 383.3 282 385.3 281.9 386 283.9 385.1 285.9 373.8 295.9 365.3 302.6ZM349.3 300.4 348.3 299.9 349.3 299.1 349.8 299.9 349.3 300.4ZM347.3 299 343.2 295.9 339.4 291.9 338.6 289.9 339.3 289.2 343.3 291.8 345.3 293.9 348.3 297.9 347.3 299ZM349.3 480.6 347.3 479.2 345.3 478.6 333.3 478.6 331.3 476.9 325.4 476 323.3 474.3 320.8 474 319.3 472.1 318.3 472 324.4 464 335.3 457.3 337.3 456.4 343.3 455.1 351.3 454.9 359.3 453.1 367.3 454.3 373.3 453 379.3 454.1 381.3 454.8 387.3 460 389.8 464 397.3 471.4 399.3 472.6 401.3 473 401.3 474 391.3 474.4 389.3 476.4 387.3 477 385.3 478.6 379.3 479.1 367.3 478.6 363.3 477.1 359.3 478.6 357.3 478.8 355.3 480.7 349.3 480.6ZM197.2 362.2 197 357.9 196.2 355.9 192.8 351.9 192.4 349.9 190.5 347.9 190.3 335.9 189.8 333.9 188.4 331.9 187.9 317.9 188.2 305.9 186.5 303.9 186.2 301.9 186.3 295.9 188 293.9 189.1 289.9 190.3 287.9 191 271.9 193.1 267.9 193.2 266.2 197.3 267.9 209.2 276 213.3 281.9 217.2 286 218.3 287.9 219.6 293.9 223.2 299.3 226.1 305.9 227.4 313.9 226.9 317.9 222.3 331.9 221.8 335.9 221.1 337.9 216.7 343.9 215.1 347.9 201.2 361.4 197.2 362.2ZM321.3 350 319.3 347.9 319.3 341.9 321.3 337.9 324.3 333.9 330.5 327.9 347.5 315.9 355.3 311.4 355.8 311.9 355.3 313.4 351.3 319.7 335.3 341.9 327.3 347.8 323.3 349.8 321.3 350ZM383.3 336.2 379.3 334.6 375.3 331.1 369.3 323.9 363.3 315.5 362.4 313.9 363.3 313.1 373.3 319.9 382.3 327.9 386.4 333.9 386.7 335.9 385.3 336.7 383.3 336.2ZM521.4 334 517.4 331.2 514.9 325.9 511.8 321.9 511.6 315.9 508.7 311.9 508.8 309.9 510.9 305.9 509.5 299.9 509.4 289.9 514.6 275.9 520.6 267.9 523.4 265.8 523.6 273.9 525.6 275.9 526.3 287.9 527.9 291.9 528.1 299.9 530 303.9 529.9 311.9 528.1 313.9 527.4 318 526.3 319.9 527.7 323.9 527.4 332.5 525.7 333.9 525.4 335.5 521.4 334ZM361.3 312.8 361.3 311.6 362.2 311.9 361.3 312.8ZM357.3 310.4 356.8 309.9 356.9 307.9 359.3 307.3 359.8 307.9 359.6 309.9 357.3 310.4ZM355.3 306.3 339 295.9 326.2 285.9 323 281.9 321.3 277.9 321.4 273.9 322.7 271.9 325.3 271.4 329.3 272.7 335.3 277.3 341.3 284.4 347.3 292.8 355.3 304.7 355.7 305.9 355.3 306.3ZM361.3 306.4 360.7 305.9 361.3 304.4 373.3 286.4 379.3 278.3 383.3 274 387.3 270.7 393.3 267.8 396 267.9 398.9 269.9 399.3 271.9 399.1 273.9 397.5 277.9 389.2 287.9 366 303.9 361.3 306.4ZM347.3 480.3 345.3 479.2 333.3 479.1 329.3 477.1 325.3 476.8 323.3 475.3 319.3 474.4 317.3 472.8 307.3 472.6 303.5 472 307.3 463.5 310.8 458 315.3 449 317.3 446.4 323.3 442.2 325.5 438 327.3 436.6 331.3 435.4 337.3 432.5 343.3 430.7 351.3 433.3 357.3 431.3 373.3 431.9 381.3 434.7 387.9 436 397.3 442.1 402.4 448 405.3 454 414.5 464 416.5 468 415.3 468.5 414.4 470 409.3 470.5 401.3 474.9 391.3 475.3 387.3 478.3 381.3 480.3 373.3 479.3 367.3 479.2 363.3 478.2 357.3 479.5 355.3 481.2 349.3 481.2 347.3 480.3ZM201.2 374.9 201.1 373.9 199 371.9 198.3 367.9 196.6 365.9 196.1 357.9 194.7 355.9 194.1 353.9 192.1 351.9 191.5 349.9 190 347.9 189.9 335.9 187.9 331.9 187.4 317.9 187.8 305.9 185.9 303.9 185.8 301.9 185.8 295.9 187.3 293.9 188.3 289.9 189.6 287.9 190 285.9 190.5 269.9 193.8 263.9 197.2 253.2 203.2 257.1 210.7 259.9 219.2 265.1 223.1 271.9 231.2 279.9 232.6 281.9 235.1 289.9 237.7 295.9 238.6 299.9 238.2 309.9 239.7 321.9 238.5 327.9 238.4 335.9 237.2 344.3 235.2 349.1 233.2 350.9 228 353.9 222 361.9 215.2 367.8 207.2 373.5 201.2 374.9ZM307.3 364 300.3 357.9 299.5 355.9 303.2 347.9 305.8 343.9 315.7 333.9 327.8 325.9 349 313.9 355.3 311 356.2 311.9 355.3 314.5 341.3 339.6 331.9 353.9 329.3 357 325.9 359.9 321.3 362.6 317.3 363.4 307.3 364ZM523.4 350.3 507.4 343.9 503.4 337.8 499.4 335.2 491 327.9 487.4 321.9 485.5 317.9 485.2 315.9 487.7 311.9 487.9 309.9 486.6 305.9 488.3 297.9 487.4 296.4 485.4 295.1 484.8 293.9 486.3 285.9 488.8 281.9 491.4 274.2 495.2 267.9 497.4 265.4 499.4 264.2 503.4 263.1 511.4 258.4 517.4 252.4 519.4 253.6 521.4 256.3 521.9 257.9 523.9 259.9 524.5 273.9 526.3 275.9 527.2 281.9 527.1 285.9 528.5 291.9 528.8 299.9 530.6 303.9 530.5 311.9 529.1 313.9 527.8 319.9 528.4 323.9 528.3 331.9 526.2 337.9 525.4 343.8 523.8 345.9 523.4 350.3ZM391.3 348.3 387.3 346.6 383.3 343.7 375.3 335.8 369.3 327.1 361.3 313.9 360.6 311.9 361.3 311.1 366.6 313.9 382.5 323.9 392 331.9 395.9 335.9 399.1 341.9 399 345.9 397.3 347.9 395.3 348.6 391.3 348.3ZM357.3 310.8 356.4 309.9 356.5 307.9 357.3 307.1 359.3 306.9 360.2 307.9 360 309.9 359.3 310.6 357.3 310.8ZM353.3 306 338.1 297.9 324.6 289.9 309.6 277.9 305.5 271.9 304.8 269.9 304.9 267.9 307.6 261.9 313.3 257 315.3 256.2 317.3 256.2 321.3 257.2 323.3 258.4 331.3 266.1 337.3 273 341.3 278.7 355.3 303.7 356 305.9 355.3 306.7 353.3 306ZM361.3 306.8 360.3 305.9 361.3 303.3 371.3 284.8 381.3 268 389.3 258.9 393.3 255.7 403.3 250.6 405.3 250.4 409.3 252.5 413.3 252 415.3 253.3 418.3 259.9 418.5 263.9 416.6 267.9 407.3 278.3 392.6 289.9 363.9 305.9 361.3 306.8ZM325.3 165.9 323.3 165.3 321.1 163.8 318.8 157.8 308 151.8 306.5 149.8 305.2 145.8 309.3 145.7 311.3 147.6 315.3 147.7 317.3 147.1 323.6 141.8 329.3 140.7 331.3 139.5 337.3 139 341.3 137.9 345.3 138.9 357.3 139.6 359.3 141.2 361.3 141.4 363.3 141.3 365.5 139.8 367.3 139.4 369.3 137.8 377.5 137.8 377.3 139.1 374.5 143.8 372 149.8 366.1 155.8 365.2 159.8 363.3 161.5 353.3 163.1 351.3 162.9 345.3 164.9 335.3 162.3 330.6 165.8 329.3 166.2 325.3 165.9ZM347.3 481.4 345.3 479.7 331.3 479.4 329.3 477.7 325.3 477.6 322.4 476 319.3 475.5 317.3 473.6 307.3 474 303.3 473.4 299.6 470 298.5 468 303.8 458 309.9 442 321.3 417.5 323.3 416.1 325.3 416.1 333.3 416.6 341.3 418.5 347.3 418.5 355.3 420.1 363.3 420.2 377.3 418.5 387.3 416.3 393.3 416.7 397.3 414.7 399.3 415 403.3 420.2 412 436 416.4 450 419.3 454 423.6 458 424.7 460 426.1 466 421.3 469.2 419.3 469.3 415.3 471.3 409.3 471.7 407.3 473.5 404.8 474 403.3 475.4 391.9 476 387.3 479.6 384.5 480 383.3 481.1 381.3 481.5 375.3 481 373.3 479.8 363.3 479.5 358.2 480 355.3 481.8 347.3 481.4ZM315.3 394.4 309.3 392 303.3 388.6 291.3 379.1 282.9 369.9 272.5 353.9 271.3 349.4 273.3 347.4 279.3 345.4 285 341.9 293.3 339 311.6 329.9 319.3 326.9 347.3 313.8 355.3 310.6 356 309.9 356.1 307.9 355.3 307.1 320.3 291.9 313.3 288.2 306.9 285.9 299.3 281.2 289.4 277.9 285.2 275.9 275.3 269.9 273.3 268 273.4 265.9 275.3 260.8 284.7 245.9 293.3 237.2 305.3 227.7 308.4 225.9 313.3 223.8 315.8 223.9 323.3 236.8 341.3 272.8 356.4 305.9 357.3 306.8 359.3 306.5 377.3 264.6 384.3 249.9 386.4 243.9 390.6 237.9 394.9 223.9 397 221.9 399.3 221.8 407.3 225.1 421.3 235 434.3 247.9 439.6 255.9 445.6 267.9 445.3 269.9 435.3 272.3 426.4 277.9 410 285.9 361.3 307.2 360.6 307.9 360.5 309.9 361.3 310.7 384.5 321.9 403.3 333.9 409.3 336.7 411.7 339.9 414.4 347.9 415.9 355.9 415.2 357.9 407.3 364.9 405.3 365.8 399.3 366.1 395.3 365 393.3 363.9 387.3 358.5 379.3 348.5 367.3 327.4 360.1 311.9 359.3 311.1 357.3 311.2 356.6 311.9 353.4 319.9 340.4 347.9 337.3 355.8 324.5 381.9 321.3 390.5 319 393.9 317.3 394.8 315.3 394.4ZM207.2 384.5 199.9 375.9 199.3 373.9 197.8 371.9 197.7 369.9 195.6 365.9 195.3 357.9 193.7 355.9 193.5 353.9 190 349.9 189.4 347.9 189.4 335.9 187.8 333.9 187.4 321.9 187.2 320.9 186.2 319.9 185.9 317.9 187.2 315.3 187.4 307.9 187.3 305.9 185.4 303.9 185.3 295.9 185.8 293.9 187.2 292.5 187.5 289.9 189.4 285.9 189.6 269.9 190.1 267.9 191.2 266.7 192 263.9 193.6 261.9 194.2 255.9 196.3 249.9 199.2 247.1 201.2 247 209.2 251 221.2 255.5 246.6 267.9 249.5 269.9 251.2 271.9 251.8 275.9 248.9 287.9 247.6 311.9 248.1 319.9 250.4 327.9 251.1 337.9 252.6 343.9 255.3 349.9 255.3 351.9 254.3 353.9 249.2 358.5 231.2 369.2 225.2 372.2 211.8 381.9 207.2 384.5ZM515.4 362.8 497.4 356.4 487.4 351.2 476.6 347.9 471.7 345.9 468.5 343.9 467.6 341.9 468.3 337.9 467.6 327.9 469.5 315.9 469.8 301.9 467.1 287.9 466.9 279.9 466.4 277.9 463.4 272.3 463 269.9 463.3 267.9 464.5 265.9 469.4 261.6 475.4 259.8 483.4 254.8 489.4 252 493.4 249.1 513.4 241 514.2 243.9 516.4 245.9 516.9 247.9 518.7 249.9 519.4 251.8 522.7 255.9 523.1 257.9 524.9 259.9 525.3 273.9 527.1 275.9 527.4 279.1 528.2 279.9 528.7 281.9 529.2 297.9 529.4 299.3 531 301.9 531.2 303.9 531.1 311.9 530.6 313.9 529.1 315.9 528.9 333.9 527.2 337.9 526.7 343.9 525.1 345.9 524.4 355.9 522.5 359.9 519.4 362.8 517.4 363.8 515.4 362.8ZM309.3 190.9 307.3 189 303.3 182.1 301.1 175.8 297.3 169.5 294.4 161.8 290.6 153.8 291 151.8 292.6 149.8 297.3 146.5 299.3 146.5 301.3 144.8 303.3 144.4 309.3 144.4 311.3 144.8 313.3 146 315.3 146 317.3 144.6 319.3 144.3 323.3 140.5 327.3 139.8 329.3 138.7 335.3 138.3 339.3 136.5 341.3 136.4 348.1 137.8 357.3 138.4 361.3 140.3 363.3 140 365.3 138.3 367.3 138.2 369.3 136.4 379.3 136.6 381.3 138.5 383.3 138.5 389.3 141.1 391.3 142.6 395.3 143.8 396.6 145.8 391.3 170.2 387.3 182.6 385.3 185.2 379.3 185.6 363.3 183.4 343.3 184.6 329.3 186.2 319.3 190.1 315.3 191.1 309.3 190.9ZM288.9 464 291.7 464 293.4 462 296.7 452 300.9 444 307.3 434.2 310 426 314 420 314.7 418 314.8 416 313.3 412.7 305.3 407.6 299.3 404.8 287.3 396.3 283.3 391.8 270.4 379.9 265.2 373.6 261.2 366.2 259.2 364.8 257.2 365 243.2 371.7 229.2 382.1 223.2 385.5 219.2 389.5 213.2 390.4 209.2 392.5 208.8 393.9 214.4 400 215.7 402 216.2 404 218 406 218.6 408 221.7 412 222.3 414 233.2 425.2 234.1 428 237.2 432.6 241.2 435.6 243.1 436 247.2 439.3 249.2 439.8 263.2 453.5 267.2 454 269.3 455.5 271.3 455.6 277.3 461.1 281.3 461.4 283.3 462.4 287.3 462.8 288.9 464ZM435 456 435.3 457 437.3 457.4 439.3 456.8 445.3 457 447.3 455.5 449.4 455.1 453.4 451.8 455.4 451.3 463.4 443.8 465.4 443.1 471.4 437.8 474.7 434 475.4 431.7 478 430 481.4 429.1 489 422 490.8 420 491 418 493 416 493.2 414 494.9 412 494.9 410 504.7 400 505.2 395.9 506.8 393.9 507.4 391.9 512.5 385.9 512.5 383.9 514.2 381.9 514.7 377.9 516.1 375.9 515.4 370.7 509.4 368.9 503.4 366 497.4 364 489.4 359.8 475.4 354 467.4 351.4 465.4 351.2 463 351.9 457.5 361.9 445.6 379.9 440.6 383.9 435.9 389.9 431.3 394.6 415.3 404.9 412.4 408 411.7 410 412.4 414 415.3 419.9 424.3 436 429.3 447.2 434.3 454 435 456ZM361.2 414 365.3 414.1 377.3 412.5 387.3 410.3 389.3 409.3 390.8 408 389.4 402 391.3 398.7 392.5 397.9 392.5 395.9 384.6 375.9 380.2 361.9 365.1 325.9 359.7 311.9 357.3 311.5 341.1 351.9 323.9 397.9 325.6 400 327.3 400.7 337.3 403.1 338.5 404 339.5 406 338.5 410 338.7 412 339.3 412.4 343.3 412.7 345.3 412.2 346.1 408 347.3 405.4 357.3 405.6 359.3 405.8 360.4 408 360.6 412 361.2 414ZM268.4 341.9 269.3 342.8 278.7 339.9 301.3 330.9 319.3 324.5 347.3 313 355.3 310.3 355.7 307.9 299.3 285.6 269.3 275 267.2 276.8 264.8 283.9 263.1 293.9 261.5 311.9 262.7 325.9 265.2 335.3 267.2 340.6 268.4 341.9ZM440.6 341.9 447.3 343.8 449.4 341.2 452 333.9 453.7 323.9 454.8 307.9 454.2 295.9 451.9 283.9 450 277.9 449.4 276.6 447.3 274.9 443.3 275.9 433.3 280.5 427.1 281.9 360.9 307.9 361.3 310.3 415.3 331.8 421.3 334.6 429.3 337 435.3 340.1 440.6 341.9ZM356.8 305.9 357.3 306.4 359.5 305.9 376.1 259.9 381.7 241.9 385.4 233.9 389.3 219.9 389 217.8 384.2 215.8 369.3 212.6 368.2 209.8 368.2 205.8 367.3 204.2 361.3 203.5 347.3 204.5 346.2 205.8 346.3 209.8 345.3 212.8 341.3 213.1 333.3 215.2 327.3 217.4 322.9 219.9 322.4 221.9 323.5 225.9 329.5 237.9 333.3 249.4 337.3 259.5 356.8 305.9ZM248.2 261.9 253.2 262.5 255.2 261.3 262.3 251.9 265.2 246.6 269.3 241.9 272.9 235.9 277.3 231.8 283.3 223.9 287.3 220.7 295.3 217.4 309.7 205.8 309.8 203.8 307.1 197.8 301.8 189.8 286.6 157.8 285.3 157.2 281.3 157 279.3 157.6 271.3 162.5 267.2 162.6 265.2 164.1 261.2 165.2 254.1 171.8 251.7 175.8 249.8 177.8 249.2 179.9 246.3 181.8 241.2 182.6 240 183.8 237.2 184.5 234.1 187.8 233.6 189.8 228.2 195.8 227.6 197.8 225.6 199.8 223.7 203.8 219.9 207.8 219.2 209.8 217.7 211.8 217.2 213.8 215.7 215.8 211.2 219.9 209.2 220.7 205.9 225.9 206.3 231.9 204.5 235.9 204.4 239.9 205.2 241.6 207.2 241.9 215.2 245.2 235.2 256.2 248.2 261.9ZM454.5 255.9 457.4 256.1 463.4 253.7 471.4 249.4 476.7 247.9 482.6 243.9 489.4 241 505.4 236.7 511.4 234.1 512.1 231.9 508.7 225.9 506.9 223.9 506.9 221.9 505.4 219.9 505 217.8 495.1 207.8 491.4 202.5 489.4 199 488.8 193.8 487.1 191.8 483.4 188.2 481.4 188.1 479.4 186.5 477.4 186.1 469.4 178.6 467.4 178 449.4 160.3 441.3 159.9 437.3 158.3 435.3 158.2 431.3 154.8 429.3 154.2 421.3 146.8 419.3 146.2 411.3 146.3 409.4 145.8 407.3 144.5 403.3 144.7 402.1 145.8 400.8 153.8 399.2 171.8 397.1 177.8 395.4 185.8 392.8 191.8 390.8 201.8 391 203.8 393.3 206.2 401.3 208.7 407.3 212.5 415.3 215.9 417.3 217.2 421.3 221.2 433.3 229.5 437.7 235.9 443.3 241 451.4 252.7 454.5 255.9ZM278.1 460 279.3 460.4 281.8 460 282.5 458 284.6 448 284.5 436 282.2 424 276.4 414 273.3 410.2 261.2 402.9 257.2 401.6 251.2 401 237.2 402.2 227.2 405 221.2 407.5 220.9 410 224 414 224.6 416 233.2 424 236.3 430 237.8 432 241.2 435 243.2 435.3 245.2 437 249.2 439.2 254.7 444 263.2 452.8 267.2 453 269.3 454.6 271.3 454.7 275.3 458.5 278.1 460ZM452.6 450 455.4 450.1 457.4 448.6 463.4 442.8 467.4 440.7 471.4 436.9 475.4 431 477.4 429.3 479.4 429 483.4 427 488.4 422 490.4 418 492.3 416 492.4 414 494.2 412 494.2 410 503.7 400 504.1 395.9 505.8 393.9 506.1 391.9 507.8 389.9 508.6 387.9 497.4 385.5 487.4 385.1 477.4 385.5 471.4 386.7 465.4 389.5 461.4 392.2 455.5 397.9 448.8 410 447.7 414 446.9 422 448 438 452.6 450ZM341 404 341.3 404.4 345.3 404.9 346.2 404 345.3 402.1 341.3 401.4 340.7 402 341 404ZM360.6 404 361.3 405.2 363.3 405.7 367.3 405.4 383.3 402.9 387.3 401.1 387.8 400 387.3 399.2 383.3 399.3 379.3 400.9 371.3 402.5 361.3 403.1 360.6 404ZM358.6 385.9 361.3 386.2 363.3 383.9 368.7 379.9 371.3 374.8 374.5 363.9 374.4 361.9 372.4 351.9 369 339.9 359.3 311.9 357.3 311.9 344.3 351.9 342.8 361.9 342.3 369.9 343.3 373.2 347.3 380 349.3 381.8 353.3 383.2 358.6 385.9ZM296.5 323.9 299.3 324.6 305.3 323.4 313.3 323.1 319.3 321.8 355.3 309.9 355.3 307.9 315.3 295 303.3 293.1 299.3 293.8 291.3 297.9 289.3 299.9 286.7 305.9 285.7 309.9 285.7 313.9 287.3 317.2 289.3 319.2 296.5 323.9ZM400.7 321.9 409.3 323.4 413.3 323.4 421.3 320.4 425.3 316.6 426.3 313.9 427.4 305.9 426.6 303.9 424.6 301.9 419.3 297.7 417.3 296.7 407.3 295.2 399.3 296.2 389.3 298.6 361.3 307.9 361.4 309.9 385.3 317.9 400.7 321.9ZM357.1 305.9 359.3 305.4 369.3 271.5 371.7 259.9 372.1 249.9 371.3 245.4 366.4 233.9 365.3 233.1 361.3 233.1 359.3 232 357.3 230 355.3 229.2 352.3 229.9 347.3 233.1 345.3 235.2 343.4 243.9 340.4 247.9 339.9 249.9 340.7 257.9 343.5 267.9 357.1 305.9ZM476.9 235.9 483.4 237 493.4 235.9 503.4 233.2 509.5 229.9 506.1 223.9 506 221.9 504.4 219.9 504.2 217.8 494.4 207.8 488.9 199.8 488.5 195.8 486.6 191.8 483.4 189 481.4 188.6 477.4 186.6 471.4 181 467.4 178.5 457.4 168.7 455.5 167.8 449.4 161.3 447.3 160.7 439.3 160.3 437.3 159.1 435.3 158.8 433.3 157 429.3 154.9 423.3 149.1 419.3 147 409.3 147.1 407 145.8 405 151.8 404.1 159.8 405 171.8 410.6 187.8 419.7 201.8 431.3 215 439.3 219.6 445.3 224.1 455.4 230.5 476.9 235.9ZM219.1 231.9 223.2 232.4 231.2 231.8 243.2 229.5 247.2 228.3 251.2 226.5 257.2 222.7 263.7 215.8 269.5 207.8 274.6 195.8 275.6 191.8 275.9 181.8 274 169.8 272.2 163.8 269.3 163.4 267.8 163.8 265.2 165.1 263.2 165.3 259.4 167.8 255.2 172.1 250.8 177.8 250.2 179.8 249.2 180.7 247.2 182.4 243.2 182.8 237.2 185.6 232.2 191.8 228.2 197.8 226.2 199.8 225.9 201.8 220.9 207.8 220.2 209.8 218.5 211.8 218.3 213.8 211.2 221.1 209.6 221.9 206.9 225.9 207.2 228 211.6 229.9 219.1 231.9ZM347.1 213.8 349.3 214.5 365.3 214.6 367.7 213.8 365.3 212.5 357.3 211.9 349.3 212.7 347.1 213.8ZM263.2 452 268.8 452 269 450 262.1 434 260.6 432 254.5 428 247.2 422.1 243.2 421 239.2 421 233.2 420.1 233.1 422 234.9 424 235.1 426 236.7 428 237.2 430.4 241.2 434.4 243.2 434.5 245.2 436.4 247.2 436.9 253.2 442.2 255.2 443.2 257.1 446 263.2 452ZM468.8 438 471.4 436.1 471.7 434 477.4 428.4 479.4 428.3 481.4 426.5 483.4 426.3 487.7 422 488.1 420 491.6 416 491.6 414 493.5 412 493.4 410 495.4 408 495.4 406.6 487.4 407.1 484.3 408 477.4 416.6 471.4 422 469 428 466.6 432 466.2 434 467 436 468.8 438ZM354.3 365.9 357.3 367.6 359.3 367.5 362.4 365.9 365.3 362.6 367.2 357.9 367.5 355.9 365.9 339.9 359.3 313.4 357.3 313.4 351.2 337.9 349.4 347.9 349.4 351.9 350.3 357.9 351.7 361.9 354.3 365.9ZM309.5 315.9 313.3 316.8 323.3 316.9 353.8 309.9 353.9 307.9 327.3 301.8 313.3 300.7 309.3 302.4 305 307.9 305 309.9 305.9 311.9 307.1 313.9 309.5 315.9ZM389.9 315.9 401.3 316.2 407.3 314.2 409.3 312.7 410.7 309.9 409.6 305.9 408 303.9 403.3 301.5 397.3 301 389.3 301.9 362.9 307.9 362.9 309.9 363.3 310 389.9 315.9ZM357 303.9 357.3 305.1 359.4 303.9 364.2 279.9 365.9 265.9 365.3 261.7 363.3 257.1 358.8 251.9 357.3 250.8 355.3 250.5 353.3 251.2 351.3 252.7 349.3 255.7 348.1 259.9 347.7 263.9 348.9 273.9 357 303.9ZM485.7 225.9 489.4 226.9 499.4 224.7 501.4 223.4 503.4 221 503.5 217.8 490.3 203.8 489.8 201.8 488.1 199.8 488 195.8 486.5 193.8 486 191.8 483.4 189.7 479.4 188.5 477.4 187.1 471.4 181.7 467.4 178.9 457.4 169.3 455.4 168.5 452.5 165.8 451.4 163.9 448.8 161.8 447.3 161.2 439.3 161.1 435.3 159.4 433.3 157.8 431.3 157.4 425.3 151.7 421.3 150.5 420.8 151.8 416.5 155.8 415.1 157.8 415.5 159.8 420.6 163.8 421.1 165.8 419.9 167.8 417.3 169.8 416.2 171.8 416.4 173.8 417.3 176 419.3 177.7 421.3 178.1 423.3 180.1 425.3 187 426.8 189.8 427 193.8 428.4 195.8 431.3 197.3 439.3 196.6 441.3 197.3 449.4 202.5 455.4 207.7 462.3 211.8 464.7 213.8 467.4 217.7 469.4 219.6 475.4 219.4 477.4 219.8 480 221.9 481.5 223.9 485.7 225.9ZM223.7 211.8 227.2 213 233.2 209.3 239.2 206.8 245.2 205.3 247.3 203.8 248.2 201.8 249.2 196.5 253 191.8 253.9 189.8 254.2 183.8 255.3 177.8 254.7 175.8 253.2 175.8 252.9 177.8 247.2 183.4 243.2 183.4 241.2 184.9 238.2 185.8 235.2 188.9 232.8 191.8 230.5 195.8 226.8 199.8 226.8 201.8 223.1 205.8 222.9 207.8 221.2 210.3 223.7 211.8ZM431.3 190.1 430.3 189.8 431.3 189.7 431.3 190.1ZM356.6 349.9 357.3 350.6 359.3 349.5 361.3 345 361.9 341.9 359.3 317.4 357.3 317.4 354.6 339.9 355.2 347.9 356.6 349.9ZM322.4 309.9 325.3 311.6 333.3 311.3 349.3 309.9 349.8 307.9 329.3 306 323.3 307.5 322.7 307.9 322.4 309.9ZM369.2 309.9 383.3 311.5 387.3 311.5 392.6 309.9 392.7 307.9 387.3 306.6 383.3 306.5 369.2 307.9 369.2 309.9ZM357.2 301.9 357.3 302.9 358.1 301.9 359.3 298.8 360.9 279.9 360.1 271.9 359.3 269.4 357.3 267.9 355.3 268.9 353.4 273.9 357.2 301.9ZM472.2 201.8 475.4 202.3 481.4 201.8 485 199.8 487.4 197 487.4 195.8 485.6 193.8 485.5 191.8 483.4 191.2 482.1 189.8 479.4 189.4 469.4 181.2 459.4 171.5 457.3 169.8 455.4 169.3 447.5 161.8 444.4 161.8 443.3 162.4 440.2 165.8 439.5 167.8 439.6 171.8 443.4 179.8 449 187.8 455.4 192.6 472.2 201.8ZM462.3 183.8 463.4 184.6 465.4 184.9 466.2 183.8 466.6 181.8 466.1 179.8 465.4 179 463.4 177.8 461.4 177.8 459.8 179.8 460.6 181.8 462.3 183.8Z"/>
<g fill="none" stroke="#eef4e8" stroke-opacity="0.5" stroke-width="1.1" stroke-dasharray="3.5 4.5"><circle cx="358.3" cy="308.9" r="50"/><circle cx="358.3" cy="308.9" r="100"/><circle cx="358.3" cy="308.9" r="150"/><line x1="358.3" y1="308.9" x2="520.1" y2="241.9"/><line x1="358.3" y1="308.9" x2="425.3" y2="147.1"/><line x1="358.3" y1="308.9" x2="291.3" y2="147.1"/><line x1="358.3" y1="308.9" x2="196.5" y2="241.9"/><line x1="358.3" y1="308.9" x2="196.5" y2="375.9"/><line x1="358.3" y1="308.9" x2="291.3" y2="470.7"/><line x1="358.3" y1="308.9" x2="425.3" y2="470.7"/><line x1="358.3" y1="308.9" x2="520.1" y2="375.9"/></g>
<g fill="none" stroke="#999" stroke-opacity="0.85" stroke-width="1.5"><circle cx="358.3" cy="308.9" r="25"/><circle cx="358.3" cy="308.9" r="75"/><circle cx="358.3" cy="308.9" r="125"/><line x1="183.2" y1="308.9" x2="533.4" y2="308.9"/><line x1="234.5" y1="432.7" x2="482.1" y2="185.1"/><line x1="358.3" y1="484" x2="358.3" y2="133.8"/><line x1="482.1" y1="432.7" x2="234.5" y2="185.1"/></g>
</g>
<circle cx="358.3" cy="308.9" r="175.1" fill="none" stroke="#000" stroke-width="1.6"/>
<circle cx="358.3" cy="308.9" r="15.5" fill="none" stroke="#000" stroke-width="3"/>
<circle cx="358.3" cy="308.9" r="14" fill="#fff"/>
<path stroke="#8c8c8c" stroke-width="1.5" d="M344.3 308.9L372.3 308.9M348.4 318.8L368.2 299M358.3 322.9L358.3 294.9M368.2 318.8L348.4 299"/>
<path stroke="#c8c8c8" stroke-width="1" stroke-dasharray="3 3" d="M346.3 313.9L370.3 303.9M353.3 320.9L363.3 296.9M363.3 320.9L353.3 296.9M370.3 313.9L346.3 303.9"/>
<text x="-1.5" y="92.7" font-size="46.5" textLength="103.64" lengthAdjust="spacingAndGlyphs">T (K)</text>
<text x="16.3" y="147.8" font-size="39.5">5</text>
<text x="15.8" y="197.7" font-size="39.5">4</text>
<text x="16.4" y="247.2" font-size="39.5">3</text>
<text x="16.6" y="297.7" font-size="39.5">2</text>
<path fill="none" stroke="#000" stroke-width="1.6" d="M67.1 133.2V309.3M49.5 134H67.1M49.5 183.9H67.1M49.5 233.4H67.1M49.5 283.9H67.1M58 159H67.1M58 208.8H67.1M58 259H67.1M58 308.5H67.1"/>
<text x="314.7" y="106.6" font-size="38.5" textLength="85.05" lengthAdjust="spacingAndGlyphs">[110]</text>
<text x="133.6" y="163.5" font-size="38.5" textLength="84.95" lengthAdjust="spacingAndGlyphs">[100]</text>
<text x="495.7" y="163.2" font-size="38.5" textLength="84.52" lengthAdjust="spacingAndGlyphs">[010]</text>
<text x="77.1" y="322.6" font-size="38.5" textLength="86.23" lengthAdjust="spacingAndGlyphs">[1<tspan text-decoration="overline">1</tspan>0]</text>
<text x="552.5" y="322.6" font-size="38.5" textLength="85.37" lengthAdjust="spacingAndGlyphs">[<tspan text-decoration="overline">1</tspan>10]</text>
<text x="134" y="481.7" font-size="38.5" textLength="85.80" lengthAdjust="spacingAndGlyphs">[0<tspan text-decoration="overline">1</tspan>0]</text>
<text x="495.4" y="481.7" font-size="38.5" textLength="86.01" lengthAdjust="spacingAndGlyphs">[<tspan text-decoration="overline">1</tspan>00]</text>
<text x="315.7" y="537.9" font-size="38.5" textLength="84.52" lengthAdjust="spacingAndGlyphs">[<tspan text-decoration="overline">11</tspan>0]</text>
<ellipse cx="283" cy="379" rx="1.7" ry="5" fill="none" stroke="#000" stroke-width="1.4"/>
<g fill="#000"><ellipse cx="257" cy="292" rx="1.6" ry="14"/><ellipse cx="254" cy="307.5" rx="1.7" ry="20"/><ellipse cx="459.5" cy="290" rx="1.6" ry="8"/><ellipse cx="463" cy="306" rx="1.8" ry="14"/></g>
<g clip-path="url(#c1)">
<rect x="1196.2" y="131.8" width="354.2" height="354.2" fill="#ff0d00"/>
<path fill="#ff2600" d="M1194.2 488 1552.4 488 1552.4 129.8 1194.2 129.8 1194.2 486ZM1204.2 330 1204.2 311.4 1205.3 323.9 1204.5 329.9ZM1544.4 310.1 1542.2 305.9 1541.3 293.9 1541.4 291.9 1542.4 291.9 1542.4 301.9 1544.4 303.9 1544.4 309.9Z"/>
<path fill="#ff4000" d="M1194.2 488 1552.4 488 1552.4 129.8 1194.2 129.8 1194.2 486ZM1206.2 338.7 1206.1 333.9 1204.2 331.4 1204.1 305.9 1203.9 303.9 1202.2 302.1 1202.2 299.3 1204.2 300.3 1206.3 303.9 1207.9 307.9 1209.2 313.9 1209.7 321.9 1209.5 327.9 1208.2 333.9 1206.6 337.9ZM1542.4 316 1541.2 315.9 1540.2 313.9 1537.7 305.9 1536.9 295.9 1537.4 287.9 1540.4 279.5 1540.8 289.9 1542.5 291.9 1542.7 301.9 1544.5 303.9 1544.5 311.9 1542.5 313.9 1542.4 315.9Z"/>
<path fill="#ff5900" d="M1194.2 488 1552.4 488 1552.4 129.8 1194.2 129.8 1194.2 486ZM1206.2 344.5 1205.9 333.9 1204.1 331.9 1204 329.9 1204 305.9 1202 301.9 1202.2 295.9 1204.2 294.2 1208.7 299.9 1211.7 305.9 1213.3 311.9 1214.1 319.9 1214 327.9 1212.6 333.9 1209.9 339.9 1207 343.9ZM1354.3 328.2 1354.3 327.8 1355.3 327.9ZM1356.3 327.7 1355.7 325.9 1358.3 323.3 1360.1 323.9 1358.3 326ZM1360.3 323.8 1359.6 321.9 1360.3 321.4 1361.5 321.9ZM1362.3 321.1 1361.8 319.9 1362.3 319.5 1363.1 319.9ZM1364.3 318.7 1363.9 317.9 1364.7 317.9ZM1366.3 316.4 1366 315.9 1366.5 315.9ZM1368.3 314.1 1368.4 313.9ZM1370.3 312 1370.3 311.9ZM1372.3 309.9 1372.2 307.9 1374.3 307.8 1374.3 309.9ZM1376.3 312 1376.4 311.9ZM1378.3 314.1 1378.5 313.9ZM1380.3 316.2 1380.3 315.7 1380.8 315.9ZM1382.3 318.3 1382.3 317.5 1383.1 317.9ZM1384.3 320.4 1383.9 319.9 1384.3 319.1 1385.5 319.9ZM1386.3 322.6 1385.8 321.9 1386.3 320.7 1388.2 321.9ZM1390.3 326.5 1387.7 323.9 1388.3 322.1 1392.1 325.9ZM1392.3 328 1392.3 326.9 1392.6 327.9ZM1540.4 321.6 1536.6 315.9 1534.1 309.9 1532.8 301.9 1532.5 291.9 1533.5 285.9 1535.8 279.9 1538.4 275.5 1540.4 276.1 1540.8 287.9 1541.3 289.9 1542.4 290.9 1542.6 291.9 1543 301.9 1544.7 303.9 1544.6 311.9 1542.7 313.9 1542.4 316.6 1540.8 317.9 1540.5 319.9ZM1364.3 300.9 1355.6 293.9 1351.8 289.9 1350.9 287.9 1352.3 287.4 1356.3 290.3 1364.9 299.9ZM1366.3 302.4 1365.3 301.9 1366.3 301.3 1366.6 301.9ZM1368.3 304.1 1367.8 303.9 1368.5 303.9ZM1370.3 306 1370.4 305.9ZM1376.3 306 1376.5 305.9ZM1378.3 304.1 1378.3 303.4 1378.7 303.9ZM1380.3 302.2 1379.8 301.9 1380.3 300.9 1380.9 301.9ZM1382.3 300.5 1381.3 299.9 1382.3 298.3 1388.3 291.2 1392.3 287.4 1394.3 286.5 1394.8 287.9 1393.5 289.9 1389.9 293.9 1383.1 299.9Z"/>
<path fill="#ff7300" d="M1194.2 488 1552.4 488 1552.4 129.8 1194.2 129.8 1194.2 486ZM1206.2 348 1205.8 333.9 1204 331.9 1203.9 329.9 1203.9 305.9 1202.2 303.4 1201.9 301.9 1202 295.9 1204 293.9 1204.2 291.7 1206.2 291.3 1212 297.9 1215.5 303.9 1217.7 311.9 1218.5 321.9 1218 329.9 1216.3 335.9 1213.1 341.9 1208.2 348.3ZM1350.3 333.8 1349.6 331.9 1352.1 327.9 1358.2 321.9 1366.3 315.4 1367.1 315.9 1364.3 320.1 1356.3 329.5 1352.3 332.8ZM1368.3 314.7 1367.8 313.9 1368.7 313.9ZM1370.3 312.3 1370 311.9 1370.4 311.9ZM1372.3 310 1372.1 307.9 1374.3 307.7 1374.3 310ZM1376.3 312.2 1376.7 311.9ZM1378.3 314.4 1378.3 313.5 1379.1 313.9ZM1396.3 332.6 1392.3 330.1 1388.3 326.2 1380.3 316.8 1379.8 315.9 1380.3 315.1 1384.5 317.9 1393.9 325.9 1397.2 329.9 1398.2 331.9ZM1542.4 328.5 1535.9 321.9 1531 313.9 1528.8 305.9 1528.1 293.9 1528.7 287.9 1530.5 281.9 1533.7 275.9 1538.4 269.9 1538.5 273.9 1540.5 275.9 1541 287.9 1542.8 291.9 1542.8 299.9 1543.3 301.9 1544.8 303.9 1544.7 311.9 1542.8 313.9 1542.4 317.1 1541.4 317.9 1540.8 319.9 1540.9 321.9 1542.5 323.9 1542.4 327.9ZM1366.3 303 1364.3 301.9 1352 291.9 1348.3 287.9 1346.5 283.9 1348.3 283.1 1350.3 283.9 1354.3 287 1360.3 293.4 1367 301.9ZM1368.3 304.4 1367.2 303.9 1368.3 303.2 1368.7 303.9ZM1370.3 306.1 1369.8 305.9 1370.3 305.5 1370.4 305.9ZM1376.3 306 1376.3 305.4 1376.7 305.9ZM1378.3 304.3 1377.8 303.9 1378.3 302.8 1379 303.9ZM1380.3 302.6 1379.2 301.9 1380.3 299.9 1388.3 289.8 1394.3 283.9 1398.3 282.1 1399.1 283.9 1398.3 285.9 1393.2 291.9 1381.4 301.9Z"/>
<path fill="#ff8c00" d="M1194.2 488 1552.4 488 1552.4 129.8 1194.2 129.8 1194.2 486ZM1208.2 351.1 1208.1 349.9 1206 347.9 1205.6 333.9 1203.9 331.9 1203.8 305.9 1202.2 303.9 1201.8 301.9 1201.9 295.9 1203.9 293.9 1204.2 291.3 1205.9 289.9 1206.2 286.9 1213.6 293.9 1219.1 301.9 1221.8 309.9 1222.7 317.9 1222.6 327.9 1220.6 335.9 1216.1 343.9 1210.2 351ZM1346.3 337.1 1345.7 335.9 1346.2 333.9 1350.8 327.9 1357.4 321.9 1368.3 313.4 1368.9 313.9 1368.3 315.2 1358.3 328.5 1352.3 334.7 1348.3 337.2ZM1370.3 312.5 1369.8 311.9 1370.5 311.9ZM1372.3 310.1 1372 307.9 1374.3 307.6 1374.3 310.1ZM1376.3 312.4 1376.3 311.7 1376.9 311.9ZM1398.3 336 1394.3 333.2 1388.3 327.2 1378.3 314.8 1377.8 313.9 1378.3 313.3 1390.4 321.9 1397.3 327.9 1400.6 331.9 1401.6 333.9 1401.5 335.9 1400.3 336.5ZM1542.4 332 1541.6 331.9 1538.8 329.9 1532.7 323.9 1528.5 317.9 1525.8 311.9 1524.5 305.9 1523.8 295.9 1524.1 289.9 1525.4 283.9 1528.1 277.9 1530.7 273.9 1535.7 267.9 1538.4 265.6 1538.6 273.9 1540.6 275.9 1541.2 287.9 1542.9 291.9 1543 299.9 1544.9 303.9 1544.8 311.9 1543 313.9 1542.4 317.6 1541.1 319.9 1541.5 321.9 1542.6 323.9 1542.4 331.9ZM1368.3 304.6 1358.4 297.9 1348.7 289.9 1343.9 283.9 1343.2 281.9 1344 279.9 1346.3 279.9 1348.3 280.9 1354.3 285.8 1360.3 292.6 1368.9 303.9ZM1370.3 306.1 1369.6 305.9 1370.3 305.3 1370.5 305.9ZM1376.3 306.1 1376.3 305.2 1376.9 305.9ZM1378.3 304.5 1377.6 303.9 1378.3 302.3 1388.3 288.8 1394.3 282.3 1398.3 279.5 1400.3 278.8 1402.5 279.9 1402.3 281.9 1400 285.9 1394.3 291.9 1379.4 303.9Z"/>
<path fill="#ffa600" d="M1194.2 488 1552.4 488 1552.4 129.8 1194.2 129.8 1194.2 486ZM1210.2 354.1 1208.1 351.9 1207.9 349.9 1205.9 347.9 1205.7 335.9 1205.4 333.9 1203.8 331.9 1203.6 329.9 1203.6 305.9 1202 303.9 1201.7 301.9 1201.8 295.9 1203.7 293.9 1204.2 291 1205.5 289.9 1206.2 282.9 1214.6 289.9 1221.4 297.9 1225.1 305.9 1226.8 315.9 1226.9 327.9 1224.9 335.9 1220.5 343.9 1211.8 353.9ZM1344.3 340.6 1343.1 339.9 1342.6 337.9 1343.3 335.9 1345.9 331.9 1354.1 323.9 1368.3 313.2 1369.2 313.9 1368.3 315.8 1356.3 331.9 1350.3 337.9 1346.3 340.3ZM1370.3 312.8 1369.6 311.9 1370.6 311.9ZM1372.3 310.2 1372 307.9 1374.3 307.6 1374.3 310.2ZM1376.3 312.6 1376.3 311.6 1377.2 311.9ZM1400.3 338.9 1394.3 334.6 1388.3 328.1 1378.3 315.2 1377.6 313.9 1378.3 313 1391.2 321.9 1400.6 329.9 1404.7 335.9 1405 337.9 1404.3 339.1 1402.3 339.6ZM1540.4 335.2 1529.7 325.9 1526.4 321.9 1522.9 315.9 1521.4 311.9 1520.2 305.9 1519.5 295.9 1519.8 289.9 1521.9 281.9 1525 275.9 1533.1 265.9 1536.4 262.7 1538.4 261.9 1538.8 273.9 1540.8 275.9 1541.4 287.9 1543 291.9 1543.1 299.9 1545 303.9 1545 311.9 1543.2 313.9 1542.4 318.1 1541.4 319.9 1542.8 323.9 1542.6 331.9 1540.6 333.9ZM1366.3 303.9 1349.8 291.9 1345.3 287.9 1342 283.9 1340.1 279.9 1340.3 277.8 1342.3 276.8 1346.3 277.9 1352.3 282.6 1358.3 289.3 1368.3 302.4 1369.1 303.9 1368.3 304.9ZM1370.3 306.2 1369.3 305.9 1370.3 305.1 1370.6 305.9ZM1376.3 306.2 1376.3 304.9 1377.1 305.9ZM1378.3 304.7 1377.3 303.9 1378.3 301.8 1388.3 287.9 1394.3 280.9 1400.3 276.4 1402.3 275.7 1404.3 275.9 1405.4 277.9 1405.1 279.9 1403 283.9 1395.3 291.9 1379.8 303.9Z"/>
<path fill="#ffbf00" d="M1194.2 488 1552.4 488 1552.4 129.8 1194.2 129.8 1194.2 486ZM1212.2 357.8 1211.9 355.9 1208 351.9 1207.7 349.9 1205.8 347.9 1205.6 335.9 1205.2 333.9 1203.6 331.9 1203.5 305.9 1201.9 303.9 1201.7 295.9 1203.5 293.9 1204.2 290.6 1205 289.9 1205.8 287.9 1206.2 279.7 1207.3 279.9 1215.3 285.9 1223.2 293.9 1228 301.9 1229.4 305.9 1230.6 311.9 1231.2 325.9 1230.4 331.9 1229.2 335.9 1227.4 339.9 1223.5 345.9 1214.2 356ZM1340.3 342.6 1339.8 339.9 1340.4 337.9 1344.5 331.9 1353.3 323.9 1368.3 313 1369.4 313.9 1368.3 316.2 1354.3 335.3 1348.3 341.1 1344.3 343.3 1342.3 343.6ZM1370.3 313 1369.4 311.9 1370.3 311.5 1370.7 311.9ZM1372.3 310.3 1371.9 307.9 1374.3 307.5 1374.7 309.9 1374.3 310.3ZM1376.3 312.8 1375.9 311.9 1376.3 311.5 1377.4 311.9ZM1382.3 478 1382.3 477.5 1388.3 477.2 1393.7 478 1384.3 478ZM1404.3 342.4 1402.3 341.8 1398.3 339.4 1392.3 333.7 1378.3 315.5 1377.4 313.9 1378.3 312.8 1394.8 323.9 1403.8 331.9 1407.7 337.9 1408 339.9 1407 341.9 1406.3 342.3ZM1540.4 339 1533.4 333.9 1526.7 327.9 1522.4 322.8 1519.4 317.9 1517.7 313.9 1516.3 307.9 1515.4 291.9 1516.3 285.9 1517.6 281.9 1521.9 273.9 1526.7 267.9 1534.4 260.3 1536.4 258.9 1538.4 259.9 1538.9 273.9 1540.9 275.9 1541.7 287.9 1543.1 291.9 1543.2 299.9 1545.1 303.9 1545.1 311.9 1543.4 313.9 1541.7 319.9 1542.9 323.9 1542.7 331.9 1541.1 333.9 1540.4 337.9ZM1370.3 306.3 1365.9 303.9 1354.1 295.9 1344 287.9 1340.3 283.9 1337.8 279.9 1337.3 275.9 1338.3 274.5 1340.3 273.9 1342.3 274.2 1346.3 276.2 1350.3 279.4 1358.3 288.4 1370.7 305.9ZM1376.3 306.3 1375.9 305.9 1376.3 304.6 1378.3 301.5 1390.3 284.3 1396.3 277.6 1402.3 273.4 1406.3 272.9 1407.7 273.9 1408.3 275.7 1407.2 279.9 1404.5 283.9 1396.3 291.9 1377.3 305.9ZM1354.3 140.2 1352.9 139.8 1368.8 139.8 1356.3 140.5Z"/>
<path fill="#ffd900" d="M1194.2 488 1552.4 488 1552.4 129.8 1194.2 129.8 1194.2 486ZM1212.2 361.9 1212 357.9 1211.4 355.9 1207.8 351.9 1207.5 349.9 1205.6 347.9 1205.5 335.9 1205 333.9 1203.5 331.9 1203.4 329.9 1203.4 305.9 1201.7 303.9 1201.5 301.9 1201.5 295.9 1203.3 293.9 1204.2 290.2 1205.6 287.9 1206.2 278.6 1207.6 277.9 1208.2 276.7 1220.5 285.9 1227.9 293.9 1230.5 297.9 1233.1 303.9 1234.9 313.9 1235.2 327.9 1234 333.9 1232.6 337.9 1230.2 342.6 1226.5 347.9 1221.1 353.9 1214.2 360.2ZM1338.3 346 1337 343.9 1337.5 339.9 1339.8 335.9 1343.2 331.9 1352.4 323.9 1370.3 311.5 1370.8 311.9 1370.3 313.3 1368.3 316.5 1354.3 336.5 1350.3 340.9 1346.3 344.2 1342.3 346.2 1340.3 346.5ZM1364.3 480 1364.3 478 1366.3 475.4 1368.3 473.4 1372.3 470.6 1378.3 469 1388.3 468.4 1394.3 469.4 1398.3 471.5 1403.1 476 1402.3 476 1400.5 478 1382.3 478.2 1380.3 476.4 1378.3 476.3 1376.3 476.5 1374.8 478 1372.3 478.2 1370.3 480.1 1366.3 480.1ZM1404.3 344.7 1398.3 340.8 1392.3 334.7 1376.3 313 1375.9 311.9 1376.3 311.4 1380.9 313.9 1395.7 323.9 1403.2 329.9 1407.1 333.9 1409.8 337.9 1410.9 341.9 1410.3 344 1408.3 345.2 1406.3 345.2ZM1540.4 342 1539.3 341.9 1533.3 337.9 1524.4 330.6 1518.4 323.9 1515 317.9 1512.9 311.9 1511.7 303.9 1511.3 291.9 1512.7 283.9 1514.4 279.3 1517.4 273.9 1522.1 267.9 1527.9 261.9 1534.4 256.2 1536.4 257.4 1538.6 259.9 1539.1 273.9 1541 275.9 1541.6 285.9 1543.2 291.9 1543.4 299.9 1545.2 303.9 1545.2 311.9 1543.6 313.9 1542 319.9 1543 323.9 1542.8 331.9 1540.9 335.9 1540.4 341.9ZM1370.3 306.4 1365.6 303.9 1353.3 295.9 1345.1 289.9 1340.6 285.9 1337.1 281.9 1334.9 277.9 1334.4 273.9 1335.7 271.9 1338.3 271.1 1342.3 272.1 1346.3 274.6 1350.3 278.1 1358.3 287.6 1370.8 305.9ZM1372.3 310.4 1371.8 307.9 1372.3 307.4 1374.3 307.4 1374.8 307.9 1374.8 309.9 1374.3 310.3ZM1376.3 306.4 1375.8 305.9 1376.3 304.4 1378.3 301.2 1392.3 280.7 1398.3 274.3 1404.3 270.5 1408.3 270 1410.7 271.9 1410.8 275.9 1407.6 281.9 1404.1 285.9 1397.2 291.9 1377.5 305.9ZM1352.3 148.4 1348.3 146.3 1343.5 141.8 1346.3 141.2 1347.3 139.8 1356.3 139.1 1370.3 139.6 1371.9 139.8 1374.3 141.7 1380.8 141.8 1376.3 146 1372.3 148 1362.3 149.3 1354.3 149Z"/>
<path fill="#fff200" d="M1194.2 488 1552.4 488 1552.4 129.8 1194.2 129.8 1194.2 486ZM1212.2 364.6 1211.8 357.9 1209.7 353.9 1207.7 351.9 1207.3 349.9 1205.5 347.9 1205.3 335.9 1204.8 333.9 1203.4 331.9 1203.3 305.9 1201.6 303.9 1201.3 301.9 1201.4 295.9 1203.2 293.9 1204.2 289.9 1205.4 287.9 1206.2 277.3 1208.2 272.9 1216.2 278.2 1223.6 283.9 1228.2 288.3 1232.2 293.2 1235 297.9 1237.3 303.9 1239 315.9 1239.4 323.9 1239 329.9 1237.6 335.9 1235 341.9 1232.2 346.4 1227.8 351.9 1221.8 357.9 1214.2 364.4ZM1336.3 348.9 1335.1 347.9 1334.3 346.3 1334.1 343.9 1335.5 339.9 1339.9 333.9 1344.1 329.9 1351.6 323.9 1370.3 311.4 1370.9 311.9 1370.3 313.5 1368.3 316.8 1358.3 332.2 1352.3 340.1 1348.3 344.2 1344.3 347.3 1340.3 349.1 1338.3 349.3ZM1364.3 480.2 1362.3 478.2 1358.8 478 1363.4 470 1368.3 464.6 1372.3 462.3 1376.3 461.1 1388.3 460.4 1394.3 461.4 1398.3 463.5 1402.3 467 1407.6 474 1406.3 474.1 1404.3 476.2 1402.3 476.4 1400.3 478.3 1394.3 478.7 1382.3 478.3 1380.3 476.8 1378.3 476.6 1376.3 477.1 1375.4 478 1372.3 478.4 1370.3 480.3 1366.3 480.3ZM1408.3 348.1 1402.3 345.5 1394.3 338.1 1388.3 330.6 1378.3 316.2 1376.3 313.2 1375.8 311.9 1376.3 311.3 1381.2 313.9 1396.6 323.9 1404.5 329.9 1408.6 333.9 1412.8 339.9 1413.7 343.9 1413.3 345.9 1412.3 347.1 1410.3 348.1ZM1536.4 343.9 1527.6 337.9 1520.5 331.9 1516.4 327.5 1512.5 321.9 1510.4 317.4 1508.8 311.9 1507.3 295.9 1507.4 289.9 1508.5 283.9 1510.4 278.6 1512.9 273.9 1517.4 267.9 1524.4 260.6 1532.4 253.7 1534.4 253.8 1535.2 255.9 1538.7 259.9 1539.2 273.9 1541.2 275.9 1541.8 285.9 1543.3 291.9 1543.5 299.9 1545.3 303.9 1545.3 311.9 1543.8 313.9 1542.3 319.9 1543.2 323.9 1543 331.9 1541.2 335.9 1540.4 342.6 1538.7 343.9 1538.4 345.2ZM1370.3 306.5 1365.2 303.9 1349.5 293.9 1339.2 285.9 1333.9 279.9 1331.9 275.9 1331.5 271.9 1332.4 269.9 1334.3 268.6 1338.3 268.5 1342.3 270.2 1348.3 274.8 1358.3 286.8 1370.8 305.9ZM1372.3 310.5 1371.8 309.9 1371.7 307.9 1372.3 307.4 1374.3 307.3 1374.8 307.9 1374.9 309.9 1374.3 310.4ZM1376.3 306.4 1375.7 305.9 1376.3 304.1 1386.3 288.1 1392.3 279.6 1400.3 271 1406.3 267.5 1410.3 267.1 1412.3 268 1413.6 269.9 1413.7 273.9 1410.7 279.9 1407.4 283.9 1400.7 289.9 1377.7 305.9ZM1352.3 156.4 1346.3 152.7 1342.3 148.5 1339 143.8 1340 141.8 1344.3 141.3 1346.3 139.8 1356.3 138.5 1360.3 139.2 1372.3 139.7 1374.3 141.4 1378.3 141.5 1380.3 140.9 1381.5 139.8 1384.3 139.1 1385.7 137.8 1388.7 137.8 1386.3 142.8 1382.3 149.1 1379.9 151.8 1376.3 154.6 1372.3 156.2 1368.3 156.9 1358.3 157.4 1354.3 157Z"/>
<path fill="#f2ff00" d="M1194.2 488 1552.4 488 1552.4 129.8 1194.2 129.8 1194.2 486ZM1214.2 368.6 1214.2 367.9 1212.2 365.9 1211.6 357.9 1209.5 353.9 1207.5 351.9 1207.1 349.9 1205.4 347.9 1205.2 335.9 1204.7 333.9 1203.3 331.9 1202.8 317.9 1203.2 305.9 1201.4 303.9 1201.2 301.9 1201.3 295.9 1203 293.9 1204 289.9 1205.2 287.9 1206.2 271.5 1208.2 269 1224.4 279.9 1230.2 285 1234.6 289.9 1237.4 293.9 1240.2 299.9 1241.8 305.9 1242.8 313.9 1243.3 323.9 1243 329.9 1241.8 335.9 1239.5 341.9 1235.8 347.9 1230.9 353.9 1224.2 360.4 1215.1 367.9ZM1336.3 352.3 1334.3 351.9 1332.3 350.3 1331.3 347.9 1331.3 345.9 1332.5 341.9 1336.6 335.9 1340.6 331.9 1348 325.9 1365.7 313.9 1370.3 311.3 1370.9 311.9 1370.3 313.8 1354.3 338.8 1346.3 347.7 1342.3 350.5 1338.3 352.1ZM1364.3 480.4 1362.3 478.6 1354.5 478 1359.1 468 1364.3 460.2 1368.3 456.7 1372.3 454.8 1378.3 453.7 1388.3 453.2 1394.3 454.2 1400.3 457.6 1406.3 464.3 1412.3 474 1406.3 474.3 1404.3 476.3 1402.3 476.8 1400.3 478.5 1394.3 479 1382.3 478.5 1380.3 477.3 1378.3 476.9 1374.3 478.5 1372.3 478.6 1370.3 480.4 1366.3 480.4ZM1538.4 349.1 1527.2 341.9 1519.4 335.9 1513.4 329.9 1509 323.9 1506.3 317.9 1504.7 311.9 1503.5 297.9 1503.5 289.9 1504.9 281.9 1508.4 273.9 1514.4 265.7 1524.5 255.9 1532.4 249.8 1532.6 251.9 1534.4 253.5 1536.4 256.2 1536.9 257.9 1538.9 259.9 1539.4 273.9 1541.3 275.9 1541.9 285.9 1543.4 291.9 1543.6 299.9 1545.4 303.9 1545.4 311.9 1543.9 313.9 1542.6 319.9 1543.3 323.9 1543.1 331.9 1541.4 335.9 1540.8 341.9 1538.6 345.9 1538.5 347.9ZM1368.3 305.9 1351.7 295.9 1342.8 289.9 1335.6 283.9 1332 279.9 1328.8 273.9 1328.5 269.9 1329.3 267.9 1332.3 265.6 1334.3 265.4 1338.3 266.2 1342.3 268.3 1346.3 271.4 1354.3 280.4 1370.3 304.3 1370.9 305.9 1370.3 306.6ZM1372.3 310.5 1371.7 309.9 1371.6 307.9 1372.3 307.3 1374.3 307.2 1374.9 307.9 1374.9 309.9 1374.3 310.5ZM1408.3 350.5 1402.3 347.2 1394.3 339.3 1388.3 331.5 1378.3 316.5 1375.7 311.9 1376.3 311.3 1381.5 313.9 1400.5 325.9 1408.1 331.9 1412.1 335.9 1415.9 341.9 1416.7 345.9 1416.3 347.9 1414.7 349.9 1412.3 350.9 1410.3 350.9ZM1354.3 164.2 1348.3 161.7 1342.3 156.1 1335.4 145.8 1336.3 143.7 1338.3 143.1 1339.3 141.8 1344.3 140.9 1346.3 139.6 1352.3 139 1356.3 137.8 1360.3 138.9 1372.3 139.5 1374.3 141.1 1376.3 141.4 1378.3 141.3 1384.5 137.8 1392.3 137.8 1392.3 139.2 1390.4 143.8 1386.3 152.1 1382.3 157.6 1378.3 161.1 1374.3 163 1370.3 163.9 1356.3 164.5ZM1376.3 306.5 1375.6 305.9 1376.3 303.9 1386.3 287.3 1392.3 278.4 1400.3 269.3 1406.3 265.2 1410.3 264 1412.3 264.1 1414.3 264.9 1416.3 267.3 1416.6 271.9 1413.9 277.9 1408.8 283.9 1401.8 289.9 1377.9 305.9Z"/>
<path fill="#d9ff00" d="M1194.2 488 1552.4 488 1552.4 129.8 1194.2 129.8 1194.2 486ZM1214.2 371.4 1213.8 367.9 1212 365.9 1211.4 357.9 1210 355.9 1209.4 353.9 1207.4 351.9 1206.9 349.9 1205.2 347.9 1205.1 335.9 1203.1 331.9 1202.7 317.9 1203 305.9 1201.3 303.9 1201.1 301.9 1201.2 295.9 1202.8 293.9 1203.8 289.9 1205.1 287.9 1205.9 271.9 1206.2 270.4 1207.9 267.9 1208.2 265.8 1210.2 266.1 1224.2 275.1 1230.4 279.9 1236.6 285.9 1241 291.9 1243.8 297.9 1245.4 303.9 1246.4 311.9 1247.1 323.9 1246.7 331.9 1245.5 337.9 1243.1 343.9 1239.3 349.9 1234.2 355.9 1226.2 363.5 1216.2 371.5ZM1332.3 355 1330.3 353.8 1328.9 351.9 1328.3 347.9 1329.4 343.9 1333.2 337.9 1339.2 331.9 1347 325.9 1365.3 313.9 1370.3 311.2 1371 311.9 1370.3 314 1366.3 320.9 1356.3 337.2 1350.3 345.2 1346.3 349.4 1342.3 352.6 1338.3 354.6 1334.3 355.3ZM1364.3 480.6 1362.3 479 1360.3 478.5 1350.7 478 1355.5 466 1360.3 457.2 1364.3 452.5 1370.3 448.8 1376.3 447.5 1388.3 446.9 1392.3 447.2 1396.3 448.4 1402.3 452.4 1408.5 460 1416.3 474 1406.3 474.6 1404.3 476.5 1402.3 477.1 1400.3 478.6 1396.3 479.3 1382.3 478.7 1378.3 477.2 1374.3 478.7 1372.3 478.8 1370.3 480.6 1366.3 480.6ZM1536.4 352 1526.4 345.8 1518.3 339.9 1511.6 333.9 1506.7 327.9 1503.5 321.9 1501.6 315.9 1500.4 308.5 1499.7 297.9 1499.6 289.9 1500.2 283.9 1501.9 277.9 1504.8 271.9 1509.1 265.9 1514.7 259.9 1526.2 249.9 1528.7 247.9 1530.4 247.3 1532.6 249.9 1532.9 251.9 1536.5 255.9 1537.1 257.9 1539.1 259.9 1539.5 273.9 1541.4 275.9 1542.2 281.9 1542.1 285.9 1543.5 291.9 1543.8 299.9 1545.5 303.9 1545.5 311.9 1544.1 313.9 1542.8 319.9 1543.4 323.9 1543.3 331.9 1541.7 335.9 1540.4 343.9 1538.8 345.9 1538.4 352.9ZM1368.3 306 1350.8 295.9 1341.5 289.9 1333.9 283.9 1328.5 277.9 1325.6 271.9 1325.4 267.9 1326 265.9 1327.6 263.9 1330.3 262.5 1332.3 262.3 1336.3 263 1340.3 264.9 1344.3 267.9 1352.3 276.6 1358.3 285 1370.3 304.1 1371 305.9 1370.3 306.7ZM1372.3 310.6 1371.6 309.9 1371.5 307.9 1372.3 307.2 1374.3 307.1 1375 307.9 1375 309.9 1374.3 310.6ZM1408.3 352.8 1404.3 350.5 1400.3 347.2 1396.3 343 1390.3 335.2 1376.3 313.6 1375.6 311.9 1376.3 311.2 1378.4 311.9 1404.5 327.9 1411.8 333.9 1415.6 337.9 1419 343.9 1419.7 347.9 1419.4 349.9 1418.2 351.9 1416.3 353.3 1414.3 353.9 1410.3 353.5ZM1352.3 170.1 1348.3 168.4 1344.3 165.4 1340.3 160.8 1336.3 154.9 1332.3 147.8 1336.3 143.5 1338.7 141.8 1342.3 141.1 1346.3 139.4 1352.3 138.8 1356.3 137.6 1362.3 138.9 1372.3 139.3 1374.3 140.9 1376.3 141.2 1378.3 141.1 1380.3 139.7 1382.3 139.2 1384.3 137.6 1392.3 137.5 1393.3 137.8 1394.3 139.3 1395.9 139.8 1395.2 141.8 1388.3 157.4 1385.4 161.8 1382.3 165.3 1378.3 168.1 1372.3 170 1360.3 170.9 1354.3 170.6ZM1376.3 306.6 1375.5 305.9 1376.3 303.6 1392.3 277.1 1400.3 267.5 1404.3 264.1 1408.3 261.9 1412.3 260.9 1414.3 261 1416.8 261.9 1418.8 263.9 1419.7 265.9 1419.7 269.9 1417.3 275.9 1412.4 281.9 1405.6 287.9 1397.2 293.9 1378.1 305.9Z"/>
<path fill="#bfff00" d="M1194.2 488 1552.4 488 1552.4 129.8 1194.2 129.8 1194.2 486ZM1216.2 375.5 1216 373.9 1214 371.9 1213.5 367.9 1211.7 365.9 1211.2 357.9 1209.7 355.9 1209.2 353.9 1207.2 351.9 1206.7 349.9 1205.1 347.9 1205 335.9 1203 331.9 1202.5 317.9 1202.9 305.9 1201.2 303.9 1201 301.9 1201 295.9 1202.6 293.9 1205.2 285.9 1206.1 269.9 1207.6 267.9 1208.2 265.3 1210 263.9 1210.2 262 1220.5 267.9 1228.2 273 1234.4 277.9 1240.5 283.9 1244.7 289.9 1247.4 295.9 1248.9 301.9 1249.9 309.9 1250.8 323.9 1250.7 331.9 1249.2 339.9 1246.8 345.9 1242.2 353.1 1236 359.9 1226.9 367.9 1218.2 374.3ZM1330.3 358.3 1328.3 357.3 1326.3 355.3 1325.1 351.9 1325.1 349.9 1327 343.9 1331.4 337.9 1337.8 331.9 1345.9 325.9 1365 313.9 1370.3 311.2 1371.1 311.9 1370.3 314.3 1358.3 335.2 1350.3 346.8 1344.3 353.2 1340.3 356.1 1336.3 358 1332.3 358.6ZM1364.3 480.8 1360.3 478.7 1348.3 478.1 1347.6 476 1353 462 1358.3 452 1362.3 447.3 1368.3 443.7 1374.3 442.4 1390.3 441.5 1394.3 442 1398.3 443.3 1404.3 447.7 1410.7 456 1419.3 472 1418.3 472.1 1416.3 474.3 1406.3 474.8 1404.3 476.7 1400.3 478.8 1396.3 479.6 1382.3 478.9 1378.3 477.6 1372.3 479 1370.3 480.8 1366.3 480.8ZM1536.4 356.1 1525.6 349.9 1518.4 345.1 1511.9 339.9 1505.9 333.9 1501.7 327.9 1499.1 321.9 1497.6 315.9 1496.7 307.9 1495.8 293.9 1496 285.9 1497.5 277.9 1499.9 271.9 1503.7 265.9 1510.4 258.4 1517.6 251.9 1528.4 243.6 1530.5 245.9 1530.8 247.9 1532.9 249.9 1533.2 251.9 1536.8 255.9 1537.3 257.9 1539.2 259.9 1539.7 273.9 1541.5 275.9 1542.4 281.9 1542.3 285.9 1543.6 291.9 1543.9 299.9 1545.7 303.9 1545.6 311.9 1543.6 315.9 1543 319.9 1543.5 323.9 1543.4 331.9 1541.4 337.9 1540.6 343.9 1539.1 345.9 1538.4 356ZM1368.3 306.1 1349.9 295.9 1340.2 289.9 1332.2 283.9 1326.3 277.9 1323.7 273.9 1322.2 269.9 1322 265.9 1322.5 263.9 1324.3 261.2 1326.3 259.8 1330.3 258.9 1334.3 259.6 1338.3 261.4 1342.3 264.2 1346.3 268 1352.3 275.3 1360.3 287.2 1370.3 303.9 1371.1 305.9 1370.3 306.7ZM1372.3 310.7 1371.6 309.9 1371.5 307.9 1372.3 307.1 1374.3 307.1 1375.1 307.9 1375.1 309.9 1374.3 310.6ZM1410.3 356.1 1406.3 353.9 1402.3 350.8 1394.3 341.8 1388.3 333.3 1376.3 313.8 1375.6 311.9 1376.3 311.1 1378.7 311.9 1392.8 319.9 1405.8 327.9 1413.6 333.9 1419.2 339.9 1422.4 345.9 1423 349.9 1422.3 352.8 1420.3 355.5 1418.3 356.6 1416.3 357.1 1412.3 356.8ZM1352.3 175.8 1346.3 173.4 1340.3 167.9 1334.3 159.1 1328.3 147.8 1330.3 147.6 1332.3 146.7 1338.3 141.7 1342.3 140.8 1346.3 139.2 1350.3 139 1354.3 137.6 1356.3 137.3 1362.3 138.7 1372.3 139.1 1374.3 140.6 1376.3 141 1378.3 140.9 1380.3 139.4 1382.3 139.1 1384.3 137.4 1392.3 137.3 1394.2 137.8 1396.3 139.6 1398.5 139.8 1398.9 141.8 1391.8 159.8 1388.3 165.8 1385 169.8 1380.3 173.3 1374.3 175.2 1360.3 176.3 1354.3 176.1ZM1376.3 306.7 1375.5 305.9 1376.3 303.4 1386.3 285.5 1394.3 272.8 1402.3 263.6 1406.3 260.4 1410.3 258.4 1414.3 257.5 1417.6 257.9 1420.3 259.3 1422.4 261.9 1423.1 263.9 1423.1 267.9 1421.8 271.9 1419.5 275.9 1414.2 281.9 1406.9 287.9 1395 295.9 1378.3 305.9Z"/>
<path fill="#a6ff00" d="M1194.2 488 1552.4 488 1552.4 129.8 1194.2 129.8 1194.2 486ZM1216.2 376.3 1215.6 373.9 1213.7 371.9 1213.1 367.9 1211.5 365.9 1211 357.9 1209.5 355.9 1209.1 353.9 1207.1 351.9 1206.5 349.9 1205 347.9 1204.9 335.9 1202.9 331.9 1202.4 317.9 1202.8 305.9 1201 303.9 1200.9 295.9 1202.4 293.9 1203.4 289.9 1204.7 287.9 1205.8 269.9 1207.2 267.9 1208.2 264.9 1209.4 263.9 1210.2 260 1212.2 259.6 1217 261.9 1232.2 270.5 1239.2 275.9 1244.2 281 1247.7 285.9 1250.5 291.9 1252.1 297.9 1253.1 305.9 1254.4 327.9 1254 337.9 1252.7 343.9 1251.1 347.9 1248.2 352.8 1244.3 357.9 1238.2 363.9 1233.2 367.9 1218.2 377.7ZM1330.3 362.2 1326.3 361.2 1324.4 359.9 1322 355.9 1321.6 353.9 1321.9 349.9 1323.4 345.9 1325.9 341.9 1331.5 335.9 1341.8 327.9 1361.3 315.9 1370.3 311.1 1371.2 311.9 1370.3 314.6 1358.3 336.3 1350.3 348.5 1344.3 355.3 1340.3 358.7 1336.3 360.9 1332.3 362.1ZM1364.3 481 1360.3 478.9 1348.3 478.4 1346.3 476.4 1343.8 476 1350.3 458.1 1355.5 448 1360.3 442.5 1366.3 439.3 1373.9 438 1392.3 437.1 1396.3 437.5 1400.3 438.7 1404.3 441.2 1407.2 444 1414.2 454 1422.4 470 1420.8 472 1418.3 472.6 1416.3 474.5 1406.3 475.1 1404.3 476.9 1400.3 479 1396.3 479.9 1382.3 479 1378.3 477.9 1372.3 479.2 1370.3 481 1366.3 481ZM1534.4 358.4 1521.3 351.9 1512.4 346.2 1505 339.9 1500 333.9 1496.7 327.9 1494.4 319.9 1492.4 293.2 1492.3 283.9 1493 277.9 1494.8 271.9 1498.4 265.3 1504.4 258 1511 251.9 1525.2 241.9 1526.4 241.2 1528.4 241.1 1528.7 243.9 1530.8 245.9 1531.1 247.9 1533.1 249.9 1533.5 251.9 1537 255.9 1537.5 257.9 1539.4 259.9 1539.8 273.9 1541.7 275.9 1542.7 281.9 1542.6 285.9 1543.8 291.9 1544 299.9 1545.3 301.9 1545.8 303.9 1545.7 311.9 1543.7 315.9 1543.2 319.9 1543.7 323.9 1543.6 331.9 1541.6 337.9 1540.9 343.9 1539.3 345.9 1538.7 355.9 1536.7 357.9 1536.4 359.3ZM1368.3 306.2 1348.8 295.9 1335.6 287.9 1327.8 281.9 1322.2 275.9 1319.7 271.9 1318.4 267.9 1318.1 263.9 1319.5 259.9 1321.1 257.9 1324.3 255.9 1328.3 255.2 1332.3 255.9 1336.3 257.6 1340.3 260.3 1344.3 263.9 1350.3 271 1358.3 283 1370.3 303.7 1371.1 305.9 1370.3 306.8ZM1372.3 310.8 1371.5 309.9 1371.4 307.9 1372.3 307 1374.3 307 1375.2 307.9 1375.2 309.9 1374.3 310.7ZM1414.3 360.3 1410.3 358.8 1406.3 356.3 1402.3 352.8 1396.3 345.9 1388.3 334.3 1376.3 314 1375.5 311.9 1376.3 311 1379 311.9 1393.7 319.9 1407.2 327.9 1415.4 333.9 1421.5 339.9 1424.3 343.9 1426 347.9 1426.6 351.9 1426.3 353.9 1424.3 357.8 1422.3 359.4 1420.3 360.2 1416.3 360.6ZM1348.3 179.9 1342.3 176.6 1336.3 169.9 1330.3 160 1323.3 145.8 1324.5 145.8 1326.3 147.4 1330.3 147.2 1332.3 145.7 1334.3 145.2 1338.3 141.4 1342.3 140.6 1346.3 138.9 1352.3 138.3 1354.3 137.3 1358.3 137.4 1362.3 138.4 1372.3 138.9 1374.3 140.4 1376.3 140.8 1378.3 140.7 1380.3 139.2 1382.3 138.9 1384.3 137.1 1392.3 137.1 1394.3 137.5 1396.3 139.3 1399 139.8 1400.3 141.4 1402.4 141.8 1402.3 143.3 1394.4 163.8 1391.1 169.8 1387.9 173.8 1382.3 177.8 1376.3 179.5 1358.3 180.7 1350.3 180.4ZM1376.3 306.7 1375.4 305.9 1376.3 303.1 1388.3 280.9 1394.3 271.2 1400.3 263.4 1404.3 259.4 1408.3 256.4 1412.3 254.5 1416.3 253.7 1420.3 254.2 1423.5 255.9 1425.3 257.9 1426.8 261.9 1426.8 265.9 1425.6 269.9 1423.4 273.9 1418.3 279.9 1408.4 287.9 1399.2 293.9 1378.3 306Z"/>
<path fill="#8cff00" d="M1194.2 488 1552.4 488 1552.4 129.8 1194.2 129.8 1194.2 486ZM1218.2 378.5 1215.6 375.9 1215.2 373.9 1213.5 371.9 1212.8 367.9 1211.3 365.9 1210.8 357.9 1209.3 355.9 1208.9 353.9 1206.9 351.9 1206.3 349.9 1204.8 347.9 1204.8 335.9 1202.8 331.9 1202.3 317.9 1202.7 305.9 1200.9 303.9 1200.8 301.9 1200.8 295.9 1202.3 293.9 1203.2 289.9 1204.5 287.9 1204.9 285.9 1205.5 269.9 1208.9 263.9 1210.2 259 1212.2 257.2 1235.9 267.9 1242.4 271.9 1247 275.9 1250.3 279.9 1253.4 285.9 1255 291.9 1255.9 299.9 1258 337.9 1257.2 345.9 1255.1 351.9 1251.2 357.9 1244.8 363.9 1235.8 369.9 1220.2 378.8ZM1326.3 366.1 1322.3 364.5 1320.3 362.7 1318.5 359.9 1317.6 355.9 1318.5 349.9 1320.5 345.9 1323.4 341.9 1329.4 335.9 1337.4 329.9 1353.7 319.9 1370.3 311 1371.3 311.9 1370.3 314.9 1364.3 326.3 1356.3 341 1348.3 353.1 1342.3 359.7 1338.3 362.9 1332.3 365.7 1328.3 366.3ZM1362.3 480.1 1360.3 479.1 1348.3 478.7 1346.3 476.9 1341.3 476 1340.2 474 1348.3 451.7 1352.3 444.1 1355.6 440 1360.3 436.9 1368.3 435.2 1396.3 433.6 1400.5 434 1404.3 435.3 1410.1 440 1414.3 445.7 1420 456 1426.6 470 1422.3 470.7 1421.3 472 1418.3 473.1 1416.3 474.8 1406.3 475.3 1402.3 478.2 1396.3 480.3 1388.3 479.2 1382.3 479.2 1378.3 478.3 1372.3 479.5 1370.3 481.2 1364.3 481.1ZM1532.4 360.1 1518.2 353.9 1506.8 347.9 1499.3 341.9 1494.9 335.9 1492.4 329.9 1491.2 323.9 1488.7 283.9 1488.9 275.9 1490.1 269.9 1492.4 264.6 1495.5 259.9 1499.4 255.9 1504.4 251.9 1526.4 238.5 1528.4 239.8 1529 243.9 1531 245.9 1531.4 247.9 1533.3 249.9 1533.8 251.9 1537.3 255.9 1537.7 257.9 1539.6 259.9 1539.9 273.9 1541.8 275.9 1541.8 277.9 1543 281.9 1543.9 297.9 1544.2 299.9 1545.5 301.9 1545.9 303.9 1545.9 311.9 1543.8 315.9 1543.4 319.9 1543.7 331.9 1541.8 337.9 1541.2 343.9 1539.5 345.9 1539 355.9 1537.3 357.9 1536.7 359.9 1534.4 360.8ZM1368.3 306.3 1347.7 295.9 1333.8 287.9 1323.1 279.9 1317.6 273.9 1315.3 269.9 1313.7 263.9 1314 259.9 1315.7 255.9 1318.3 253.2 1322.3 251.3 1326.3 250.9 1330.3 251.6 1334.3 253.2 1340.3 257.6 1344.3 261.6 1350.3 269.2 1358.3 281.9 1370.3 303.4 1371.2 305.9 1370.3 306.9ZM1372.3 310.9 1371.4 309.9 1371.3 307.9 1372.3 307 1374.3 306.9 1375.2 307.9 1375.3 309.9 1374.3 310.8ZM1416.3 364.3 1412.3 362.8 1406.3 358.8 1402.3 355 1396.3 347.6 1388.3 335.4 1376.3 314.3 1375.4 311.9 1376.3 310.9 1379.3 311.9 1390.7 317.9 1408.8 327.9 1420 335.9 1425.8 341.9 1428.5 345.9 1430.1 349.9 1430.7 353.9 1429.9 357.9 1428.3 360.7 1426.3 362.6 1422.3 364.4 1418.3 364.6ZM1346.3 184 1340.3 181.4 1334.3 175 1328.3 164.9 1319.5 145.8 1324.3 145.4 1326.3 146.5 1330.3 146.9 1332.3 145.4 1334.3 144.9 1338.3 141.1 1342.3 140.3 1346.3 138.7 1350.3 138.6 1354.3 137 1358.3 137.1 1362.3 138.2 1372.3 138.7 1374.3 140.1 1376.3 140.6 1378.3 140.5 1380.3 138.9 1382.3 138.7 1384.3 136.9 1392.3 136.9 1394.3 137.2 1396.3 139 1398.3 139.1 1400.3 140.8 1403.1 141.8 1404.3 143.4 1406.2 143.8 1398.3 166 1394.3 173.6 1391 177.8 1386.3 181 1380.3 182.6 1354.3 184.3 1348.3 184.3ZM1376.3 306.8 1375.3 305.9 1376.3 302.8 1388.3 279.6 1396.3 266.3 1402.3 258.7 1406.3 254.8 1410.3 252 1414.3 250.1 1418.3 249.3 1422.3 249.6 1426.3 251.3 1429 253.9 1430.9 257.9 1431.3 261.9 1430.6 265.9 1427.8 271.9 1422.8 277.9 1413 285.9 1396.9 295.9 1378.3 306.1Z"/>
<path fill="#73ff00" d="M1194.2 488 1552.4 488 1552.4 129.8 1194.2 129.8 1194.2 486ZM1220.2 380.3 1218.2 379.1 1216.2 377 1215.3 375.9 1214.8 373.9 1213.2 371.9 1212.5 367.9 1211.1 365.9 1210.6 357.9 1209 355.9 1208.8 353.9 1206.8 351.9 1204.7 347.9 1204.6 335.9 1202.7 331.9 1202.6 321.9 1201.9 317.9 1202.6 313.9 1202.6 305.9 1200.7 303.9 1200.7 295.9 1202.2 293.6 1203 289.9 1204.3 287.9 1204.8 285.9 1205.2 269.9 1209.3 261.9 1210.2 258 1212.2 255.3 1238 265.9 1250.4 271.9 1253.4 273.9 1256.7 277.9 1258 281.9 1258.5 285.9 1259 315.9 1262.2 345.9 1262.1 349.9 1261.3 353.9 1258.5 357.9 1253.2 361.9 1221.3 379.9ZM1320.3 369.9 1317.2 367.9 1315.3 365.9 1313.3 361.9 1312.7 357.9 1313.8 351.9 1315.8 347.9 1318.6 343.9 1324.6 337.9 1332.6 331.9 1349.2 321.9 1370.3 310.9 1371.3 309.9 1371.2 307.9 1370.3 307 1367 305.9 1354.6 299.9 1335 289.9 1325.3 283.9 1315.6 275.9 1311 269.9 1309.1 265.9 1308.2 261.9 1308.7 255.9 1310.3 252.4 1312.2 249.9 1314.6 247.9 1318.3 246.1 1324.3 245.5 1330.3 247.1 1334.3 249.2 1338.3 252.4 1344.3 258.7 1352.3 270.2 1362.3 288 1371.3 305.9 1372.3 306.9 1374.3 306.8 1375.2 305.9 1376.3 302.6 1390.3 274.3 1396.3 263.9 1402.3 255.5 1408.3 249.4 1414.3 245.5 1420.3 243.8 1426.3 244.3 1429.8 245.9 1432.4 247.9 1435.3 251.9 1436.6 255.9 1436.7 259.9 1435.9 263.9 1434.1 267.9 1431.5 271.9 1425.8 277.9 1418.1 283.9 1401.6 293.9 1376.3 306.9 1375.3 307.9 1375.4 309.9 1376.3 310.8 1379.5 311.9 1391.6 317.9 1410.5 327.9 1419.9 333.9 1427.2 339.9 1430.8 343.9 1433.4 347.9 1435.4 353.9 1435.1 359.9 1432.3 365 1430.3 366.9 1426.3 368.9 1420.3 369.4 1416.3 368.4 1412.3 366.4 1406.3 361.8 1400.3 355.1 1392.3 343.4 1384.3 329.4 1375.3 311.9 1374.3 310.9 1372.3 311 1371.4 311.9 1370.3 315.1 1356.3 342.6 1350.3 352.6 1344.3 360.6 1340.3 364.7 1334.3 369 1328.3 371 1322.3 370.7ZM1362.3 480.5 1360.3 479.3 1348.3 479 1346.3 477.5 1340.3 476.1 1338.3 474.4 1336.2 474 1340.3 459.8 1344.3 448.3 1347.1 442 1350.3 437.3 1354.3 434.5 1360.3 433.2 1380.3 432.5 1400.3 430.7 1404.3 430.7 1408.3 431.5 1410.3 432.5 1413.9 436 1418.3 443.1 1429.5 468 1429.1 470 1424.3 470.6 1416.3 475 1406.3 475.6 1402.3 478.6 1396.3 480.7 1378.3 478.6 1372.3 479.7 1370.3 481.3 1364.3 481.3ZM1534.4 362.2 1532.4 361.9 1522.5 357.9 1499.5 347.9 1492.9 343.9 1489.7 339.9 1488.5 335.9 1488.1 331.9 1487.6 301.9 1484.5 271.9 1484.6 267.9 1485.4 263.9 1488 259.9 1492.9 255.9 1499.1 251.9 1526.4 236.5 1528.4 238.6 1529.3 243.9 1531.3 245.9 1531.7 247.9 1533.6 249.9 1534.2 251.9 1537.5 255.9 1537.9 257.9 1539.8 259.9 1540.1 273.9 1541.9 275.9 1541.9 277.9 1543.3 281.9 1544 297.9 1544.3 299.9 1545.7 301.9 1546 311.9 1544 315.9 1543.9 331.9 1542 337.9 1541.4 343.9 1539.8 345.9 1539.3 355.9 1537 359.9 1534.6 361.9ZM1338.3 186.5 1334.3 183.5 1328.3 173.7 1317.1 147.8 1317.6 145.8 1324.3 145.1 1328.3 146.6 1330.3 146.5 1332.3 145.1 1334.3 144.7 1338.3 140.8 1342.3 140.1 1346.3 138.5 1350.3 138.4 1354.3 136.8 1358.3 136.8 1364.3 138.2 1372.3 138.5 1376.3 140.5 1378.3 140.3 1380.3 138.7 1382.3 138.5 1384.3 136.7 1394.3 136.9 1396.3 138.7 1398.3 138.9 1404.3 142.5 1408.6 143.8 1409.3 145.8 1401.8 169.8 1398.3 177.6 1395 181.8 1391.8 183.8 1386.3 185 1358.3 186.2 1346.3 187.5 1340.3 187.1Z"/>
<path fill="#59ff00" d="M1194.2 488 1552.4 488 1552.4 129.8 1194.2 129.8 1194.2 486ZM1220.2 381.3 1215 375.9 1214.4 373.9 1212.9 371.9 1212.2 368.1 1210.8 365.9 1210.4 357.9 1208.8 355.9 1208.6 353.9 1206.6 351.9 1204.6 347.9 1204.5 335.9 1203.1 333.9 1202.5 331.9 1202.5 321.9 1201.4 317.9 1202.2 316.5 1202.5 313.9 1202.4 305.9 1200.6 303.9 1200.5 295.9 1202.2 293.1 1202.8 289.9 1204.2 287.6 1204.6 285.9 1204.9 269.9 1209 261.9 1210.2 256.4 1212.2 253.7 1256.6 271.9 1260.3 273.9 1262.3 275.9 1262.8 277.9 1260.9 299.9 1260.9 315.9 1262.9 331.9 1266.8 349.9 1267.2 353.9 1266.3 355.9 1260.7 359.9 1222.2 380.8ZM1316.3 376.2 1312.5 373.9 1310.3 371.7 1307.9 367.9 1306.6 363.9 1306.5 359.9 1307.1 355.9 1309.9 349.9 1312.8 345.9 1318.9 339.9 1327.1 333.9 1344.3 323.9 1370.3 310.8 1371.2 309.9 1371.1 307.9 1370.3 307.1 1366.7 305.9 1349.3 297.9 1329 287.9 1318.7 281.9 1310.7 275.9 1306.7 271.9 1303.7 267.9 1301.7 263.9 1300.6 259.9 1300.3 255.9 1300.9 251.9 1302.6 247.9 1304.3 245.5 1310.3 240.1 1314.3 238.4 1318.3 237.8 1322.3 238 1326.3 239.1 1330.3 241 1334.3 243.9 1342.3 252.4 1348.3 261.2 1358.3 279.2 1371.4 305.9 1372.3 306.8 1374.3 306.7 1375.1 305.9 1376.3 302.3 1392.3 268.4 1398.3 257.5 1404.3 248.7 1410.3 242.3 1414.3 239.3 1418.3 237.3 1422.3 236.2 1426.3 235.9 1432.3 237.2 1436.7 239.9 1440.7 243.9 1443.1 247.9 1444.2 251.9 1444.4 255.9 1443.1 261.9 1441.2 265.9 1438.3 269.9 1429.8 277.9 1421 283.9 1403 293.9 1376.3 307 1375.4 307.9 1375.5 309.9 1376.3 310.7 1379.8 311.9 1400.9 321.9 1416.3 329.9 1425.9 335.9 1433.3 341.9 1436.9 345.9 1439.5 349.9 1441.7 355.9 1442 359.9 1441.3 363.9 1438.1 369.9 1436.1 371.9 1432.3 374.3 1428.3 375.6 1424.3 375.7 1420.3 375.1 1416.3 373.5 1410.3 369.4 1404.3 363.3 1398.3 355.1 1388.3 337.9 1375.2 311.9 1374.3 311 1372.3 311.1 1371.5 311.9 1370.3 315.4 1354.3 348.2 1348.3 358.5 1342.3 366.7 1336.3 372.5 1330.3 376 1324.3 377.5 1318.3 376.9ZM1362.3 480.9 1360.3 479.5 1348.3 479.2 1344.3 477.1 1340.3 476.6 1338.3 475 1334.9 474 1333.5 472 1342.3 441.3 1344.3 435.6 1346.3 432.3 1348.3 431.2 1350.3 430.9 1372.3 431.3 1388.3 430.8 1404.3 427.9 1412.3 427.4 1414.3 428.3 1418.3 434.8 1432.4 468 1430.3 470.1 1424.3 471 1416.3 475.3 1406.3 475.8 1402.3 479 1398.3 479.9 1396.3 481 1392.3 480.8 1388.3 479.6 1378.3 479 1372.3 479.9 1370.3 481.5 1364.3 481.5ZM1530.4 362.7 1494 347.9 1486 343.9 1484.1 341.9 1483.8 337.9 1485.8 315.9 1485.7 301.9 1483.7 285.9 1479.3 263.9 1480 261.9 1485.1 257.9 1526.4 234.8 1528.7 237.9 1529.6 243.9 1531.6 245.9 1532 247.9 1533.8 249.9 1534.4 251.7 1537.7 255.9 1538.1 257.9 1539.9 259.9 1540.2 273.9 1542.1 275.9 1542.4 279.2 1543.1 279.9 1543.6 281.9 1544.1 297.9 1544.4 299.8 1545.9 301.9 1546.1 303.9 1546.1 311.9 1545.5 313.9 1544.1 315.9 1543.8 333.9 1542.2 337.9 1541.7 343.9 1540 345.9 1539.6 355.9 1537.4 359.9 1534.4 362.7 1532.4 363.5ZM1334.3 190.7 1332.3 188.8 1328.3 181.1 1314.5 147.8 1316.6 145.8 1318.3 145 1324.3 144.7 1328.3 146.2 1330.3 146.1 1332.3 144.7 1334.3 144.4 1338.3 140.6 1342.3 139.8 1344.3 138.7 1350.3 138.3 1354.3 136.5 1358.3 136.5 1364.3 138 1372.3 138.3 1376.3 140.3 1378.3 140.1 1380.3 138.4 1382.3 138.3 1384.3 136.4 1394.3 136.6 1396.3 138.4 1398.3 138.6 1406.3 143 1409.9 143.8 1412.2 145.8 1402.3 180 1400.3 184.8 1398.3 187.1 1394.3 187.8 1388.3 187 1358.3 187.3 1354.3 188.5 1336.3 191.2Z"/>
<path fill="#40ff00" d="M1194.2 488 1552.4 488 1552.4 129.8 1194.2 129.8 1194.2 486ZM1220.2 382.3 1217.6 379.9 1214.7 375.9 1212.7 371.9 1212.6 369.9 1210.6 365.9 1210.2 358 1208.6 355.9 1208.5 353.9 1205 349.9 1204.4 347.9 1204.4 335.9 1202.7 333.9 1202.4 321.9 1202.2 320.9 1201.2 319.9 1201 317.9 1202.2 315.6 1202.4 307.9 1202.3 305.9 1200.4 303.9 1200.4 295.9 1201 293.9 1202.2 292.7 1202.5 289.9 1204.5 285.9 1204.7 269.9 1207.2 263.9 1208.7 261.9 1209.6 255.9 1212.2 252.3 1261 271.9 1264.7 273.9 1266.2 275.9 1266.3 277.9 1263.9 289.9 1262.3 305.9 1262.3 311.9 1264.2 329.9 1266.1 337.9 1270.7 351.9 1270.9 353.9 1269.9 355.9 1267.2 357.9 1222.2 382.1ZM1318.3 386.3 1314 383.9 1306.7 377.9 1298.3 367.9 1296.7 363.9 1296.7 361.9 1297.8 357.9 1301.1 351.9 1304.5 347.9 1308.8 343.9 1317.3 337.9 1338.8 325.9 1370.3 310.8 1371.2 309.9 1371 307.9 1370.3 307.2 1348.2 297.9 1322 285.9 1306.6 277.9 1297.1 271.9 1290.3 265.7 1290.2 261.9 1294.3 254 1302 243.9 1310.3 235.9 1316.3 231.5 1322.3 228.1 1326.3 227.3 1327.9 227.9 1334.3 234.8 1342.3 247.2 1356.3 273.7 1371.5 305.9 1372.3 306.7 1374.3 306.6 1375 305.9 1376.3 302 1392.3 266 1404.3 242.2 1410.3 232.7 1414.3 227.8 1416.5 225.9 1420.4 225.9 1428.2 229.9 1433.7 233.9 1438.3 237.6 1444.6 243.9 1450.7 251.9 1454.1 257.9 1454.9 261.9 1454.3 263.5 1447.4 269.9 1435 277.9 1408.5 291.9 1376.3 307.1 1375.5 307.9 1375.6 309.9 1376.3 310.7 1397.9 319.9 1419.1 329.9 1430.2 335.9 1439.3 341.9 1445.8 347.9 1448.8 351.9 1450.8 355.9 1451.8 359.9 1451.5 361.9 1448.6 367.9 1441.9 375.9 1432.3 383.9 1428.3 385.5 1426.3 385.5 1422.3 384.4 1416.3 381.1 1412.3 377.7 1408.3 373.4 1402.3 364.9 1390.3 343.4 1375.2 311.9 1374.3 311 1372.3 311.2 1371.5 311.9 1370.3 315.7 1354.3 350.7 1348.3 362.3 1342.3 372.1 1338.3 377.3 1332.3 383 1326.3 386.4 1322.3 387.4 1320.3 387.1ZM1362.3 481.3 1360.3 479.7 1348.3 479.5 1344.3 477.4 1340.3 477.1 1338.3 475.7 1334.3 474.5 1332.3 472.5 1330.8 472 1341.8 434 1344.3 428.9 1346.3 427.9 1348.3 427.9 1364.5 430 1382.3 430 1396.9 428 1410.3 424.4 1414.3 424.3 1416.3 425.5 1418.9 430 1435.1 468 1430.3 470.8 1424.3 471.4 1422.3 472.9 1416.3 475.6 1406.7 476 1402.3 479.4 1398.9 480 1396.3 481.4 1392.3 481.2 1388.3 479.8 1378.3 479.4 1372.8 480 1370.3 481.7 1364.3 481.7ZM1530.4 364.1 1485.3 345.9 1481.7 343.9 1480.3 341.9 1480.2 339.9 1482.7 327.9 1484.3 311.9 1484.3 305.9 1482.4 287.9 1480.5 279.9 1475.6 263.9 1476.2 261.9 1481.6 257.9 1526.4 233.2 1528.6 235.9 1529.3 237.9 1529.9 243.9 1531.9 245.9 1532.3 247.9 1534 249.9 1536.1 253.9 1538 255.9 1538.3 257.9 1540.1 259.9 1540.4 273.9 1542.2 275.9 1542.4 278.7 1543.6 279.9 1544.2 297.9 1546.1 301.9 1546.2 303.9 1546.2 311.9 1545.9 313.9 1544.2 315.9 1544 333.9 1543.7 335.9 1542.4 338.1 1542 343.9 1540.3 345.9 1539.9 355.9 1539.3 357.9 1537.8 359.9 1532.4 364.9ZM1334.3 194.7 1332.3 193.5 1330.9 191.8 1327.8 185.8 1312.1 147.8 1314.3 147.1 1316.3 145.3 1318.3 144.6 1324.3 144.4 1326.3 144.7 1328.3 145.7 1330.3 145.7 1332.3 144.4 1334.3 144.2 1338.3 140.3 1341.5 139.8 1344.3 138.3 1350.3 138.1 1352.3 136.7 1354.3 136.2 1360.3 136.5 1364.6 137.8 1372.3 138.1 1376.3 140.1 1378.3 139.9 1380.3 138.2 1382.3 138.1 1384.3 136.2 1394.3 136.3 1396.3 138.2 1400.3 138.9 1406.3 142.5 1413.2 143.8 1414.7 145.8 1404.4 181.8 1402.3 187.8 1400.3 190.5 1398.3 191.5 1396.3 191.5 1380.3 189.7 1366.3 189.7 1354.3 191 1336.3 195Z"/>
<path fill="#26ff00" d="M1194.2 488 1552.4 488 1552.4 129.8 1194.2 129.8 1194.2 486ZM1220.2 383.3 1216.8 379.9 1214.2 375.3 1212.8 373.9 1212.2 369.5 1210.7 367.9 1210.2 359.2 1209 357.9 1208.3 353.9 1204.5 349.9 1204.3 335.9 1202.4 333.9 1202.3 321.9 1200.6 319.9 1200.9 315.9 1202.2 314.6 1202.3 307.9 1202.2 305.9 1200.3 303.9 1200.3 295.9 1200.5 293.9 1202.2 292.2 1202.6 287.9 1204.3 285.9 1204.6 267.9 1206.2 266.3 1206.6 263.9 1208.4 261.9 1208.8 255.9 1209.5 253.9 1212.2 250.8 1264.8 271.9 1268.2 273.9 1270 275.9 1270.3 277.9 1268.1 287.9 1266.5 299.9 1266.2 315.3 1268.2 330.5 1270.2 338.6 1274.7 351.9 1274.6 353.9 1273 355.9 1269.9 357.9 1222.2 383.5ZM1362.3 481.7 1360.3 479.9 1346.3 479.5 1344.3 477.8 1340.3 477.7 1337.4 476 1334.3 475.4 1332.3 473.4 1327.1 472 1338.8 434 1341.3 428 1342.3 426.7 1344.3 424.9 1346.3 424.3 1366.3 426.6 1384.3 426.3 1399.3 424 1410.3 420.9 1414.3 420.7 1418.7 424 1421 428 1438.1 466 1437.8 468 1430.3 471.5 1424.3 471.7 1422.3 473.5 1419.9 474 1418.3 475.5 1407.7 476 1406.3 477.3 1404.1 478 1402.3 479.7 1399.7 480 1398.3 481.4 1392.3 481.7 1390.3 481.5 1388.3 480 1378.3 479.7 1373.7 480 1372.3 481.4 1370.3 481.9 1364.3 481.9ZM1532.4 366.4 1481.5 345.9 1478.2 343.9 1476.5 341.9 1476.3 339.9 1478.5 329.9 1480.1 317.9 1480.4 303.9 1478.4 287.3 1476.4 279.2 1471.8 265.9 1471.8 263.9 1472.9 261.9 1478.6 257.9 1526.4 231.5 1529.7 235.9 1530.2 243.9 1532.2 245.9 1534.4 250.3 1535.9 251.9 1536.3 253.9 1538.2 255.9 1540.3 259.9 1540.4 272.7 1541.5 273.9 1542.3 275.9 1542.4 278.2 1544.1 279.9 1544.3 297.9 1545.9 299.9 1546.3 303.9 1546.2 313.9 1544.3 315.9 1544.1 335.9 1543.7 337.9 1542.4 339.2 1542.2 343.9 1540.4 346.7 1539.9 357.9 1534 363.9 1532.9 365.9ZM1332.3 396 1328.3 394.6 1320.3 390.4 1312.3 384.9 1304.6 377.9 1297.4 369.9 1293.2 363.9 1289.7 357.9 1288 353.9 1287.8 351.9 1290 349.9 1316.8 335.9 1349.9 319.9 1370.3 310.7 1371.1 309.9 1370.9 307.9 1296.3 275.9 1287.3 271.9 1285.2 269.9 1285.4 267.9 1287.1 263.9 1291.3 255.9 1297 247.9 1302.4 241.9 1314.3 231.1 1324.3 224.8 1330.3 222.3 1332.3 222.7 1334.3 226.2 1354.3 267.9 1371.5 305.9 1372.3 306.7 1374.3 306.5 1375 305.9 1376.2 301.9 1398.3 250.1 1410.3 222.9 1412.3 220.8 1414.3 221 1418.3 222.7 1426.3 226.9 1434.3 232.6 1440.3 238 1451.1 249.9 1457.4 259.9 1459.9 265.9 1459.6 267.9 1456 269.9 1414.3 289.9 1376.3 307.1 1375.5 307.9 1375.6 309.9 1376.3 310.6 1421.9 329.9 1459.5 347.9 1460.4 349.9 1459 353.9 1454.8 361.9 1449.3 369.9 1442.3 377.6 1434.3 384.8 1426.3 390.2 1418.3 394.2 1416.3 394.4 1415.6 393.9 1410.3 384.7 1398.3 361.4 1375.1 311.9 1374.3 311.1 1372.3 311.2 1346.3 370.6 1336.3 391.4 1334.3 395.1 1332.6 395.9ZM1334.3 198.8 1332.3 197.8 1327.6 191.8 1309.2 151.8 1309.1 149.8 1312.3 146.5 1314.3 146.3 1316.3 144.4 1324.3 144 1330.3 144.5 1334.3 144 1338.3 140 1340.8 139.8 1342.3 138.3 1350.3 137.9 1352.3 136.2 1358.3 136 1364.3 136.5 1366.7 137.8 1374.3 138.2 1376.3 139.9 1377.5 139.8 1380.3 138 1382.3 137.9 1384.3 136 1388.3 135.9 1394.3 136 1396.3 137.9 1400.3 138.3 1401.9 139.8 1404.3 140.3 1406.3 142.1 1416.3 143.2 1417.2 143.8 1418.3 145.8 1407.4 181.8 1405.3 187.8 1402.3 193.2 1400.3 194.9 1398.3 195.3 1380.3 193.2 1362.3 193.5 1347.5 195.8 1336.3 198.8Z"/>
<path fill="#0dff00" d="M1317.3 472 1318.3 472.8 1319.5 472 1328.3 444.3 1335.4 424 1337.3 416 1336.9 412 1336 410 1334.3 408.1 1318.6 400 1312.4 395.9 1302.3 387.9 1292.3 377.5 1286.3 369.8 1280 359.9 1277.9 357.9 1274.2 357.7 1268.2 360.1 1224.2 383.9 1221.1 385.9 1221 389.9 1222.2 391.2 1222.4 393.9 1228.2 399.8 1228.5 402 1232.2 406 1232.3 408 1236.3 412 1236.3 414 1248.2 425.9 1248.3 428 1250.2 429.9 1250.4 432 1252.2 433.8 1254.2 435.5 1256.5 436 1258.2 437.8 1260.3 438 1264.2 441.6 1266.2 441.9 1272.3 448 1272.8 450 1274.2 451.4 1276.2 451.9 1278.2 453.9 1280.5 454 1282.2 455.7 1284.9 456 1286.3 457.3 1288.3 457.9 1292.3 461.9 1295.1 462 1296.3 463.1 1298.3 463.9 1300.7 464 1302.3 465.5 1306.3 465.9 1308.3 467.8 1310.3 467.8 1314.3 471.2 1316.3 471.6ZM1443.8 464 1446.3 464.9 1451.3 460 1452.3 459.7 1454.3 457.8 1462.3 457.7 1466.4 453.9 1468.4 453.8 1474.4 448 1476.4 447.4 1482.3 442 1486.4 439.6 1488 438 1488.4 435.9 1491.6 432 1494.2 430 1496.4 429.9 1498.3 428 1500.4 427.2 1501.6 426 1502.3 424 1506.3 420 1506.3 418 1510.1 414 1510.3 410 1520.3 400 1520.4 397.7 1522.1 395.9 1522.4 393.7 1524.2 391.9 1526.3 387.9 1529.5 383.9 1530.4 379.3 1531.7 377.9 1532.2 375.9 1531.7 367.9 1482.4 347.7 1476.4 346.4 1474.4 346.7 1472.6 347.9 1464.4 363.6 1460.3 369.8 1452.3 379.9 1441.9 389.9 1434.2 395.9 1422.3 403.6 1420.8 406 1420.5 412 1421.6 416 1442.9 462ZM1362.6 414 1364.3 415.4 1378.3 415.6 1384.3 415.2 1387.9 414 1396.3 413.2 1397.6 412 1398.3 410 1398.3 404.5 1408.3 401.4 1413 397.9 1413.1 395.9 1375 311.9 1374.3 311.2 1372.3 311.3 1371.7 311.9 1336.5 397.9 1337.3 400 1338.3 400.9 1344.3 403.5 1347.5 404 1350.3 405.3 1356.5 406 1362.2 408 1361.3 412 1362.3 413.4ZM1283.6 347.9 1284.3 348.6 1286.3 348.7 1370.3 310.6 1371 309.9 1370.9 307.9 1286.3 273.3 1284.3 272.6 1282.2 273.1 1279.6 277.9 1278.2 283.3 1277 285.9 1276.2 292.3 1274.8 297.9 1274.5 309.9 1274.8 319.9 1276.2 325.5 1277 331.9 1278.2 334.6 1278.7 337.9 1280.2 341.1 1280.9 343.9 1282.3 345.9ZM1457.7 343.9 1462.3 345.7 1464.4 344.9 1465.3 343.9 1467.9 337.9 1468.4 334.5 1469.6 331.9 1471.9 317.9 1471.9 299.9 1469.6 285.9 1468.4 283.2 1467.9 279.9 1466.4 276.8 1465.7 273.9 1462.3 269.7 1458.3 270.6 1375.6 307.9 1375.7 309.9 1376.3 310.5 1456.3 343.4ZM1371.6 305.9 1372.3 306.6 1374.3 306.5 1374.9 305.9 1408.9 221.9 1409.6 219.9 1409.1 217.8 1402.3 214.3 1399.1 213.8 1396.3 212.5 1390.1 211.8 1384.3 210.3 1384.1 203.8 1382.3 202.1 1364.3 202.1 1358.3 202.6 1355.4 203.8 1350.3 204.2 1348.6 205.8 1348.9 211.8 1348.3 213.3 1338.3 216.4 1334 219.9 1335 223.9 1371 303.9ZM1263.4 269.9 1270.2 271.5 1272.2 271.1 1274 269.9 1282.2 254.2 1286.3 248 1294.3 237.9 1304.7 227.9 1312.4 221.9 1324.3 214.2 1325.8 211.8 1326.1 205.8 1325 201.8 1303.8 155.8 1302.3 154.8 1300.3 155.9 1294.3 156.1 1292.3 158 1290.3 158.2 1286.3 161.9 1280.2 162.2 1278.6 163.8 1276.2 164 1266.4 173.8 1266.3 175.8 1260.4 181.8 1256.2 181.9 1254.3 183.8 1252.2 183.9 1248.3 187.8 1248.3 189.8 1242.3 195.8 1242.3 197.8 1238.4 201.8 1238.3 203.8 1232.4 209.8 1232.2 212.1 1230.4 213.8 1230.3 215.8 1228.2 217.9 1226.2 218.1 1220.4 223.9 1220.2 231.9 1218.4 233.9 1218.4 237.9 1216.7 239.9 1216.2 243.1 1212.7 247.9 1214 249.9 1262.2 269.5ZM1466.9 257.9 1468.4 259 1470.4 259.3 1472.4 259.1 1476.4 257.5 1525.7 229.9 1525.4 227.9 1522.2 223.9 1522.1 221.9 1520.2 217.8 1512.3 209.8 1511.9 207.8 1506.4 201.9 1506.2 199.8 1504.4 198.1 1504.3 193.8 1498.4 187.9 1496.4 187.9 1494.4 185.9 1492.4 185.9 1484.4 178 1482.4 177.8 1480.3 175.8 1480 173.8 1478.4 172.2 1476.4 170.2 1474.3 169.8 1464.4 159.9 1459.8 159.8 1458.3 158.3 1450.3 157.9 1446.3 154 1444.3 153.9 1436.3 146.1 1428.3 146.2 1426.3 146.5 1423.8 147.8 1414.3 178.7 1409 193.8 1407.4 201.8 1408.2 205.8 1410.3 208.9 1428 217.8 1434.2 221.9 1444.3 229.9 1450.4 235.9 1456.3 242.7 1466.4 257.2Z"/>
<path fill="#00ff0d" d="M1316.1 470 1333.1 422 1334 418 1333.7 414 1332.3 412.1 1330.3 410.8 1320.3 406 1313.6 402 1300.3 391.9 1288.3 379.6 1282.2 371.7 1276.2 362.3 1274.2 360.4 1272.2 360.1 1267 361.9 1224.4 385.9 1222.8 387.9 1223.1 393.9 1228.7 400 1229.2 402 1232.4 406 1232.7 408 1236.5 412 1236.7 414 1248.2 425.6 1248.6 428 1250.2 429.6 1250.9 432 1252.2 433.3 1254.1 434 1258.2 437.1 1260.6 438 1262.2 439.7 1263.7 440 1266.2 441.8 1278.2 453.8 1281.2 454 1282.2 455 1286.3 455.9 1292.3 461.6 1296.3 461.9 1298.3 463.6 1302.2 464 1304.3 465.6 1306.3 465.5 1308.3 467.2 1310.3 467.3 1312.3 468.9 1314.3 469.4ZM1445.4 460 1446.3 461.8 1448.3 461.4 1449.6 460 1454.3 457.4 1460.3 457.6 1462.3 457 1466.4 453.7 1468.4 453.2 1476.4 445.9 1480.4 443.6 1486.4 438.6 1490.1 434 1490.4 431.9 1492.4 431.3 1493.7 430 1496.4 429.5 1504.2 422 1506.1 420 1506.2 418 1508.2 416 1508.4 414.7 1510.2 412 1510.2 410 1520.1 400 1520.4 396.8 1521.3 395.9 1522.4 393 1523.5 391.9 1524.3 389.9 1528 385.9 1528.2 383.9 1529.7 381.9 1530.1 377.9 1531.4 375.9 1530.8 369.9 1530.4 369.2 1527.7 367.9 1484.8 349.9 1480.4 348.9 1478.4 349 1476.6 349.9 1466.4 368.6 1456.3 381.9 1446.3 391.9 1436.1 400 1426.3 406.1 1424.2 408 1423.4 410 1423.9 414 1425.5 418 1444.5 458ZM1364.9 414 1370.3 414.7 1376.3 414.7 1394.3 412.6 1396.3 411.7 1397.8 410 1397.1 404 1406.3 400.8 1410.3 398.6 1411 397.9 1411.3 395.9 1374.3 311.3 1372.3 311.4 1371.8 311.9 1338.3 397.9 1340.3 400.4 1346.3 402.8 1354.3 404.9 1362.3 405.9 1362.8 408 1362.6 412 1364.3 413.9ZM1283.7 345.9 1284.3 346.6 1286.3 346.9 1360.3 314.9 1370.3 310.5 1370.9 309.9 1370.8 307.9 1284.3 274.2 1281.8 275.9 1279.4 281.9 1277 291.9 1275.4 307.9 1275.6 313.9 1277.3 327.9 1279.4 335.9 1282.6 343.9ZM1456.8 341.9 1462.3 343.9 1464.8 341.9 1467.2 335.9 1469.2 327.9 1471 313.9 1471 303.9 1469.3 289.9 1465.2 275.9 1462.3 271.4 1460.3 271.3 1456.3 273 1375.7 307.9 1375.8 309.9 1376.3 310.4 1456.3 341.7ZM1371.7 305.9 1372.3 306.5 1374.3 306.4 1374.8 305.9 1408 219.9 1406.3 217.4 1400.3 215 1392.3 212.9 1384.3 212 1383.5 209.8 1383.7 205.8 1383.2 203.8 1382.3 203 1372.3 202.5 1364.3 202.8 1350.3 205.2 1349 207.8 1350.5 211.8 1350.3 213.9 1340.3 217 1335.7 219.9 1335.7 221.9 1337.4 225.9 1371 303.9ZM1261.7 267.9 1266.2 269 1268.2 268.9 1270 267.9 1280.2 249.2 1290.3 235.9 1300.3 225.9 1310.5 217.8 1320.3 211.7 1322.4 209.8 1323.2 207.8 1322.7 203.8 1321.1 199.8 1301.2 157.8 1300.3 157.3 1296.3 156.7 1294.3 157 1288.3 160.3 1286.3 162.1 1282.2 162.2 1279.7 163.8 1276.2 164.4 1268.6 171.8 1263.5 179.8 1260.8 181.8 1256.2 182.3 1254.7 183.8 1252.2 184.2 1248.7 187.8 1248.4 189.8 1242.7 195.8 1242.4 197.8 1238.9 201.8 1238.4 203.8 1233 209.8 1232.2 212.7 1231.1 213.8 1230.4 215.8 1228.2 218.1 1224.2 220.2 1221 223.9 1220.5 225.9 1220.5 231.9 1219.1 233.9 1218.9 237.9 1217.1 241.9 1216.9 243.9 1214.2 248 1260.2 267.3ZM1471.3 255.9 1474.4 256.4 1480.6 253.9 1522.5 229.9 1523.4 227.9 1522.9 225.9 1521.5 223.9 1521.4 221.9 1519.9 219.9 1519.7 217.8 1510.4 207.8 1509.7 205.8 1506.4 202.3 1505.5 199.8 1504.4 198.7 1503.9 193.8 1502.2 191.8 1498.4 188.1 1496.4 188 1494.4 186.3 1492.4 186 1484.4 178.4 1482.4 178 1478.4 173.3 1471.9 167.8 1464.4 160.2 1458.2 159.8 1454.3 158.5 1450.3 158 1446.3 154.4 1444.3 154.1 1438.3 148.3 1436.3 147.2 1434.3 146.5 1432.3 146.6 1427.2 147.8 1411.4 195.8 1410.6 201.8 1412.3 204.9 1429.8 213.8 1438.9 219.9 1446.3 225.9 1458.3 238.2 1470.4 255.1Z"/>
<path fill="#00ff26" d="M1312.1 468 1314.6 468 1330.4 424 1331.9 418 1331.6 416 1329.9 414 1320.3 409.2 1310.3 403.2 1298.3 393.9 1286.5 381.9 1281.8 375.9 1274.2 364.9 1272.2 363 1270.2 362.7 1266.2 364 1230.5 385.9 1224.2 390 1223.8 393.9 1229.1 400 1230.7 404 1232.6 406 1233 408 1236.6 412 1237 414 1248.2 425.4 1248.9 428 1252.2 432.8 1256.2 435.7 1257.8 436 1262.2 439.4 1264.2 439.9 1278.2 453.6 1281.9 454 1284.3 455.6 1286.3 455.8 1292.3 461.3 1296.3 461.7 1298.3 463.3 1302.3 463.8 1304.3 465.4 1306.3 465.2 1308.3 466.6 1310.3 466.8ZM1448 460 1454.3 456.9 1460.3 457.4 1464.4 455.5 1466.4 453.6 1470.4 451.5 1478.4 443.9 1480.4 443.3 1486.4 437.9 1489.9 434 1490.4 431.8 1493.2 430 1496.4 429.2 1504.1 422 1505.8 420 1506.1 418 1508.1 416 1508.3 414 1510 412 1510 410 1519.9 400 1520.4 396 1521.9 393.9 1522.4 392.3 1527.8 385.9 1527.8 383.9 1529.1 381.9 1529.2 377.9 1530.7 375.9 1530.4 372.4 1485.5 351.9 1482.4 351.2 1480.4 351.3 1479.3 351.9 1467.6 371.9 1456.5 385.9 1444.3 397.3 1426.3 410 1425.8 412 1426.1 414 1427.6 418 1447 458ZM1363.1 412 1364.3 413.3 1374.3 413.9 1390.3 412.8 1396.3 411.1 1397.3 410 1396.3 406 1396.3 403.6 1408.3 398.6 1409.4 397.9 1409.6 395.9 1374.8 311.9 1374.3 311.4 1372.3 311.5 1355.8 353.9 1339.8 397.9 1341.4 400 1348.3 402.5 1356.3 404.5 1362.3 405.3 1363.2 408 1363.2 410ZM1283.6 343.9 1284.3 345 1286.3 345.2 1322.3 330.7 1370.3 310.4 1370.8 309.9 1370.7 307.9 1328.3 291.5 1284.3 275.6 1282.2 277 1279.7 283.9 1277.5 293.9 1276.3 307.9 1277.7 325.9 1279.6 333.9 1282.5 341.9ZM1460.6 341.9 1462.3 342.4 1464.4 340.8 1466.9 333.9 1469.1 323.9 1470.3 309.9 1468.9 291.9 1465 277.9 1462.3 272.9 1460.3 272.8 1458.3 273.5 1438.3 281.6 1375.8 307.9 1376.3 310.3 1460.3 341.8ZM1371.8 305.9 1372.3 306.4 1374.7 305.9 1392.9 257.9 1406.6 219.9 1405.2 217.8 1398.3 215.3 1390.3 213.3 1384.3 212.6 1383.4 211.8 1382.8 209.8 1383.2 205.8 1382.2 203.8 1380.3 203.3 1372.3 203.1 1366.3 203.3 1352.3 205.2 1350.8 205.8 1349.6 207.8 1351 211.8 1350.3 214.7 1340.6 217.8 1337.3 219.9 1337.2 221.9 1340.3 229.8 1371.1 303.9ZM1261 265.9 1264.2 266.6 1266.2 266.5 1267.4 265.9 1279 245.9 1290.1 231.9 1302.3 220.5 1320.3 207.8 1320.8 205.8 1320.5 203.8 1319 199.8 1298.6 157.8 1296.3 157.3 1294.3 157.8 1290.3 160.1 1288.3 160.7 1286.3 162.4 1282.2 162.5 1280.2 163.9 1276.2 164.9 1268.9 171.8 1266.6 175.8 1264.7 177.8 1264.2 179.9 1261.2 181.8 1256.2 182.6 1255 183.8 1252.2 184.5 1249 187.8 1248.5 189.8 1243.1 195.8 1242.5 197.8 1240.5 199.8 1238.5 203.8 1234.7 207.8 1230.6 215.8 1228.2 218.2 1224.2 220.5 1222.8 221.9 1220.6 225.9 1220.7 231.9 1219.2 235.9 1219.1 239.9 1217.7 241.9 1217.8 243.9 1216.7 245.9 1260.2 265.6ZM1474.2 253.9 1476.4 253.9 1484.4 249.9 1520.2 227.9 1521.2 225.9 1520.7 221.9 1519.2 219.9 1519.1 217.8 1510.2 207.8 1506.4 202.6 1504.4 199.3 1503.5 193.8 1502 191.8 1498.4 188.3 1496.4 188.2 1494.4 186.6 1492.4 186.2 1486.4 180.3 1484.4 178.8 1482.4 178.1 1464.4 160.4 1456.3 159.9 1452.3 158.3 1450.3 158.2 1446.3 154.9 1444.3 154.2 1438.3 148.7 1434.3 147 1429.7 147.8 1414.3 192.8 1412.9 199.8 1414.3 202.6 1426.3 208.6 1434.3 213.3 1442.3 218.9 1448.3 223.9 1460.1 235.9 1472.4 252.6Z"/>
<path fill="#00ff40" d="M1308.2 466 1312.5 466 1321.1 440 1326.3 426.7 1328 420 1326.3 417.3 1310.3 408.4 1298.3 399.6 1287.9 389.9 1274.2 373.7 1270.2 369.7 1268.2 369.4 1266.2 370.1 1256.2 379.2 1252.5 381.9 1236.2 390.4 1226.9 395.9 1229.5 400 1230.9 404 1232.8 406 1233.4 408 1236.8 412 1237.4 414 1238.8 416 1248.2 425.1 1249.2 428 1252.2 432.4 1256.2 435.5 1258.2 435.9 1262.2 439.2 1264.2 439.8 1278.2 453.5 1282.2 453.9 1284.3 455.4 1286.3 455.6 1292.3 461 1296.3 461.5 1298.3 463 1302.3 463.5 1304.3 465.1 1306.3 464.9ZM1450.1 458 1452.3 456.7 1454.3 456.4 1460.3 457.1 1462.3 455.8 1464.4 455.4 1468.4 452 1470.4 451.3 1478.4 443.7 1480.4 443 1482.4 441.5 1489.6 434 1490.4 431.6 1492.7 430 1496.4 428.9 1500.4 425.6 1505.6 420 1505.9 418 1507.9 416 1508.2 414 1509.9 412 1509.9 410 1519.7 400 1520.2 395.9 1521.8 393.9 1522.3 391.9 1527.5 385.9 1527.4 383.9 1528.5 381.9 1528.4 378 1520.4 374.3 1502.4 367.4 1487.4 357.9 1484.4 357 1482.4 357.6 1480.4 359.9 1467.3 379.9 1458.7 389.9 1446.3 401.3 1431.2 412 1430.1 414 1430.3 416.4 1432.3 420.9 1439 434 1449.2 456ZM1363.6 412 1364.3 412.7 1376.3 413.1 1390.3 412.3 1396.3 410.5 1396.8 410 1396.5 408 1395.6 406 1396.3 402.7 1400.3 400.8 1403.9 400 1407.3 397.9 1407.5 395.9 1394.4 359.9 1374.8 311.9 1374.3 311.4 1372.3 311.6 1354.2 359.9 1342 397.9 1343.6 400 1349 402 1362.3 404.6 1363.2 406 1363.7 410ZM1283.8 341.9 1284.3 342.9 1286.3 343.1 1290.1 341.9 1322.3 330 1370.3 310.4 1370.8 309.9 1370.6 307.9 1316.3 287.8 1284.3 277.7 1282.2 279.2 1280.2 284.6 1278.1 293.9 1277.2 305.9 1278.1 323.9 1280.2 333.5 1282.6 339.9ZM1460.7 339.9 1462.3 340.2 1464.4 338.6 1466.4 333.2 1468.5 323.9 1469.4 311.9 1469.3 303.9 1468.4 292.9 1466.4 284.3 1464.4 278.4 1462.3 275 1460.3 274.9 1457 275.9 1434.7 283.9 1375.8 307.9 1376.3 310.2 1424.3 328 1460.3 339.8ZM1371.8 305.9 1372.3 306.4 1374.6 305.9 1394.4 251.9 1404.5 219.9 1403 217.8 1397.6 215.8 1389.1 213.8 1384.3 213.3 1382.7 211.8 1382.1 209.8 1382.6 205.8 1382.3 205.1 1379 203.8 1372.3 203.6 1352.1 205.8 1350.3 207.8 1351.5 211.8 1350.3 215.4 1342.7 217.8 1339.4 219.9 1339.3 221.9 1340.3 225.2 1348.3 247.5 1371.2 303.9ZM1258.9 259.9 1262.2 260.9 1264.2 260.2 1266.2 258 1273.7 245.9 1279.3 237.9 1287.9 227.9 1300.3 216.5 1314.3 206.7 1316.3 204.7 1316.4 201.8 1314.3 196.9 1307.6 183.8 1296.3 159.4 1292.3 159.4 1290.3 160.8 1288.3 161.1 1286.3 162.6 1282.2 162.8 1280.2 164.1 1276.2 165.4 1274.2 166.7 1269.1 171.8 1266.8 175.8 1264.9 177.8 1264.2 180 1261.7 181.8 1258.2 182.3 1252.2 184.7 1249.4 187.8 1248.7 189.8 1243.4 195.8 1242.7 197.8 1240.7 199.8 1240.2 201.6 1238.7 203.8 1234.9 207.8 1234.2 209.8 1232.7 211.8 1232.3 213.8 1230.8 215.8 1228.2 218.4 1223.1 221.9 1220.8 225.9 1221 231.9 1219.7 235.9 1220.2 240.9 1244.2 250.6 1258.2 259.5ZM1473.9 245.9 1476.4 247.8 1478.4 247.8 1481.6 245.9 1494.4 235.3 1518.4 221.2 1518.6 217.8 1510 207.8 1504.3 199.8 1503.8 195.8 1501.9 191.8 1498.4 188.5 1496.4 188.3 1494.4 186.9 1492.4 186.3 1486.4 180.5 1482.4 178.2 1464.4 160.7 1456.3 160.1 1452.3 158.5 1450.3 158.4 1448.3 156.5 1444.3 154.4 1438.3 149.1 1436.3 148.9 1434.3 147.6 1432.5 147.8 1423.6 175.8 1418.3 190.1 1416.8 195.8 1416.9 197.8 1418.5 199.8 1428.3 204.7 1438.3 210.7 1448.3 218.2 1460.6 229.9 1472.4 244.1Z"/>
<path fill="#00ff59" d="M1303.2 464 1304.3 464.9 1308.3 464.6 1309.5 464 1312 456 1313.6 448 1314 440 1313.4 434 1311.8 428 1308.7 422 1303.9 416 1282.2 397 1276.2 392.8 1272.2 390.8 1266.2 388.9 1258.2 388.4 1252.2 389.1 1240.2 392.8 1230.2 398.1 1229.9 400 1231.2 404 1233 406 1235 410 1237 412 1238.9 416 1248.2 424.9 1249.5 428 1252.3 432 1256.2 435.4 1258.2 435.8 1262.2 438.9 1264.2 439.6 1278.2 453.3 1282.2 453.7 1284.3 455.2 1286.3 455.4 1292.3 460.7 1296.3 461.3 1298.3 462.7 1302.3 463.3ZM1454.4 456 1460.3 456.8 1462.3 455.6 1464.4 455.2 1468.4 451.7 1470.4 451.1 1478.4 443.6 1482.4 441.3 1489.4 434 1490.4 431.5 1492.4 429.9 1498.4 427.4 1500.4 425.5 1505.4 420 1505.8 418 1507.8 416 1508 414 1509.8 412 1509.8 410 1519.5 400 1520 395.9 1521.6 393.9 1522 391.9 1527.3 385.9 1526.9 381.9 1524.4 380.3 1514.4 376.7 1504.4 374.7 1496.4 374.6 1492.4 375.2 1486.4 377 1480.4 380.4 1474 385.9 1455.5 406 1451.3 412 1448.7 418 1447.2 426 1447.4 434 1449.5 444 1454.3 455.8ZM1364.1 412 1372.3 412.4 1388.3 412 1396.3 410 1394.8 406 1395.2 404 1396.3 400.7 1398.2 400 1400.2 397.9 1401.6 391.9 1400.3 381.1 1394.3 361.7 1374.7 311.9 1372.3 311.7 1354.3 361.9 1350.3 375.5 1348 387.9 1348.3 395.3 1349.1 397.9 1350.5 400 1354.4 402 1362.3 403.7 1363.7 406 1364.1 410ZM1284.7 335.9 1290.3 337.2 1296.3 336.8 1302.3 335.6 1314.8 331.9 1336.3 324 1370.3 310.3 1370.7 309.9 1370.3 307.7 1332 293.9 1313.6 287.9 1296.7 283.9 1290.3 283.5 1286.3 284.1 1282.2 286.1 1280.2 290.1 1278.1 301.9 1278.2 318.9 1280.2 328.7 1282.2 333.7 1284.3 335.7ZM1449.5 333.9 1458.3 334.1 1462.3 333 1464.4 331.7 1466.4 327.7 1468.4 318.3 1468.4 298.9 1466.4 289.1 1464.4 284.1 1462.3 282.1 1458.3 280.9 1454.3 280.7 1446.3 281.8 1432 285.9 1410.3 293.9 1375.9 307.9 1376.3 310.1 1414.4 323.9 1432.7 329.9 1448.3 333.7ZM1371.9 305.9 1372.3 306.3 1374.5 305.9 1392.3 255.8 1396.3 242 1398 233.9 1398.7 227.9 1398.1 221.9 1396.1 217.8 1392.2 215.8 1384.3 214.3 1382.3 212.7 1381.1 209.8 1381.6 205.8 1380.3 205.2 1372.3 204.8 1354.6 205.8 1352.3 207 1351.5 207.8 1352 211.8 1350.3 217.4 1348.4 217.8 1346.5 219.9 1345.7 221.9 1345.1 225.9 1345.2 229.9 1346.3 236.4 1348.3 244 1358.3 271.9 1371.3 303.9ZM1235.9 241.9 1244.2 243.3 1252.2 243 1260.2 240.8 1264.2 238.7 1272.6 231.9 1289.5 213.8 1294 207.8 1297.2 201.8 1298.9 195.8 1299.4 185.8 1297.7 175.8 1295.7 169.8 1292.2 161.8 1290.3 161.4 1288.3 161.4 1286.3 162.8 1282.2 163 1280.2 164.4 1278.2 164.6 1274.2 166.9 1269.4 171.8 1265.1 177.8 1264.2 180.2 1262.1 181.8 1258.2 182.4 1252.2 185 1245.1 193.8 1242.8 197.8 1240.8 199.8 1240.3 201.8 1238.8 203.8 1235.1 207.8 1234.4 209.8 1232.9 211.8 1232.5 213.8 1230.9 215.8 1228.2 218.6 1223.4 221.9 1221 225.9 1221.2 231.9 1220.2 236.6 1226.2 239.2 1234.2 241.6ZM1474.6 225.9 1478.4 227.1 1482.4 227.6 1488.4 227.6 1494.4 226.7 1506.4 222.5 1516.4 217 1516.6 215.8 1509.8 207.8 1504.1 199.8 1503.7 195.8 1502.8 193.8 1501.7 191.8 1498.4 188.7 1496.4 188.5 1492.4 186.4 1486.4 180.7 1482.4 178.4 1472.4 168.5 1470.9 167.8 1464.4 160.9 1456.3 160.3 1452.3 158.8 1450.3 158.6 1448.3 156.7 1444.3 154.6 1438.3 149.5 1435.7 149.8 1433 157.8 1430.9 167.8 1430.8 179.8 1431.4 183.8 1433.3 189.8 1435.4 193.8 1438.4 197.8 1446.3 205.6 1464.4 220.3 1468.4 223.1 1474.4 225.8Z"/>
<path fill="#00ff73" d="M1303.5 464 1304.3 464.6 1307.3 464 1311.3 450 1311.9 438 1311.4 434 1309.6 428 1304.9 420 1301.3 416 1278.2 396.5 1272.2 393 1266.2 390.9 1260.2 390.2 1252.2 390.8 1244.2 393 1232.2 398.7 1230.3 400 1231.2 402 1231.4 404 1233.2 406 1235.2 410 1237.1 412 1239.1 416 1248.2 424.6 1252.2 431.7 1256.2 435.3 1258.2 435.6 1262.2 438.7 1264.2 439.5 1278.2 453.2 1282.2 453.5 1284.3 455 1286.3 455.2 1292.3 460.5 1296.3 461.1 1300.3 463 1302.3 463ZM1457 456 1460.3 456.6 1462.3 455.3 1464.4 455 1468.4 451.5 1470.4 450.9 1478.4 443.4 1482.4 441.2 1486.4 437.4 1489.2 434 1490.4 431.3 1492.4 429.7 1498.4 427.3 1503.7 422 1505.1 420 1505.7 418 1507.6 416 1507.9 414 1509.6 412 1509.6 410 1519.3 400 1519.7 395.9 1521.4 393.9 1521.8 391.9 1527 385.9 1526.4 383 1516.4 379 1510.4 377.4 1504.4 376.5 1496.4 376.5 1492.4 377.1 1486.4 379.2 1480.4 382.9 1474.4 388.3 1459.7 404 1454.9 410 1451.6 416 1449.8 422 1449.1 428 1449.8 436 1451.8 444 1456.3 454.5ZM1364.2 406 1364.3 406.5 1366.3 407.6 1378.3 407.7 1386.3 407.2 1390.2 406 1394.3 405.5 1395.1 402 1394.3 400.9 1390.3 402.2 1366.3 402.5 1364.3 402.6 1363.4 404ZM1366.4 397.9 1370.3 398.9 1376.3 399.2 1382.3 398 1386.3 396.3 1390.3 393.5 1393.4 389.9 1395.4 385.9 1396.4 381.9 1396.6 377.9 1395.9 371.9 1392.3 358.4 1386.4 341.9 1374.3 311.6 1372.2 311.9 1360.3 345.7 1354.3 365.6 1352.5 375.9 1353.1 383.9 1355.6 389.9 1360.3 394.9 1366.3 397.9ZM1300 331.9 1308.3 331.8 1323.8 327.9 1340.3 322 1370.6 309.9 1370.3 307.8 1330.4 293.9 1312.3 289.1 1302.3 288.1 1298.3 288.7 1294.6 289.9 1291.2 291.9 1288.3 294.7 1286.1 297.9 1284.3 301.9 1283.3 305.9 1283.1 311.9 1284.9 319.9 1287.1 323.9 1290.8 327.9 1294.3 330.2 1298.3 331.6ZM1430 327.9 1442.3 329.7 1446.3 329.5 1450.3 328.6 1454.3 326.6 1457.6 323.9 1461.6 317.9 1462.9 313.9 1463.6 307.9 1462.9 301.9 1461.7 297.9 1459.5 293.9 1455.8 289.9 1452.3 287.6 1448.3 286.2 1440.3 285.8 1429.6 287.9 1406.3 295.9 1376 307.9 1376.3 310 1410.3 322 1428.3 327.5ZM1372 305.9 1374.4 305.9 1390.3 259.5 1392.4 251.9 1394 241.9 1393.9 235.9 1393 231.9 1390.3 226.8 1386.3 222.9 1380.3 219.9 1372.3 218.6 1364.3 219.8 1358.3 222.7 1354.3 226.4 1351.2 231.9 1350.2 235.9 1350.1 239.9 1350.4 243.9 1352.3 252.6 1360.3 275.9 1371.4 303.9ZM1234.5 239.9 1242.2 241.3 1250.2 241.3 1256.2 240.1 1262.2 237.5 1266.2 234.9 1271.9 229.9 1286.9 213.8 1291.7 207.8 1295 201.8 1296.8 195.8 1297.4 191.8 1297.4 185.8 1295.4 175.8 1293.4 169.8 1290.3 163.3 1288.4 161.8 1286.3 163 1282.2 163.3 1280.2 164.6 1278.2 164.8 1274.2 167.2 1269.7 171.8 1265.3 177.8 1264.2 180.4 1262.2 182 1258.2 182.6 1252.2 185.3 1240.9 199.8 1240.5 201.8 1235.3 207.8 1234.6 209.8 1233 211.8 1232.7 213.8 1228.2 218.7 1223.6 221.9 1221.2 225.9 1221.5 233.9 1222.2 235.6 1234.2 239.8ZM1474.8 223.9 1478.4 225.1 1484.4 225.8 1494.4 224.9 1502.4 222.3 1510.4 218.5 1514.8 215.8 1514.9 213.8 1508 205.8 1503.9 199.8 1503.5 195.8 1501.6 191.8 1498.4 188.9 1496.4 188.6 1492.4 186.6 1486.4 181 1482.4 178.5 1472.4 168.7 1470.5 167.8 1464.4 161.2 1462.3 160.6 1454.3 160.1 1452.3 159 1450.3 158.7 1448.3 156.9 1444.3 154.8 1440.3 151.2 1438.3 150.4 1437.2 151.8 1435.2 157.8 1432.8 169.8 1432.6 175.8 1433.1 181.8 1435.6 189.8 1439.2 195.8 1446.3 203.2 1466.4 219.4 1474.4 223.7ZM1352 213.8 1352.3 215.6 1362.3 215.3 1372.3 214 1380.3 214.7 1381.2 213.8 1381.2 211.8 1380.3 210.2 1378.3 210.1 1362.3 210.4 1352.3 212.6Z"/>
<path fill="#00ff8c" d="M1303.8 464 1305.8 464 1308.5 456 1309.9 450 1310.7 440 1309 430 1306.1 424 1301.4 418 1280.2 399.5 1274.2 395.5 1268.2 392.8 1262.2 391.6 1256.2 391.5 1248.2 393 1238.2 396.8 1232.2 400.1 1231.6 404 1233.4 406 1235.4 410 1237.3 412 1239.3 416 1248.2 424.3 1252.2 431.5 1256.2 435.1 1258.2 435.4 1262.2 438.5 1264.2 439.3 1278.2 453 1282.2 453.3 1284.3 454.9 1286.3 455.1 1292.3 460.2 1296.3 460.9 1300.3 462.8 1302.3 462.8ZM1458.6 456 1460.3 456.3 1462.3 455 1464.4 454.8 1468.4 451.2 1470.4 450.6 1478.4 443.2 1482.4 441 1486.4 437.3 1489 434 1489.6 432 1490.4 431.2 1492.4 429.6 1494.4 429.1 1498.4 427.1 1503.5 422 1505.5 418 1507.5 416 1507.7 414 1509.5 412 1509.5 410 1519.1 400 1519.5 395.9 1521.2 393.9 1521.5 391.9 1526.7 385.9 1526.4 384.4 1518.4 381 1510.4 378.6 1502.4 377.5 1496.4 377.7 1490.4 379 1484.4 381.7 1480.4 384.5 1474.4 390.1 1458 408 1454 414 1451.6 420 1450.5 428 1451.4 438 1453.9 446 1458.3 455.5ZM1365.6 406 1370.3 406.7 1378.3 406.6 1392.3 404.8 1394.3 404 1394.3 403.3 1386.3 403 1374.3 404.6 1365.3 404ZM1366 389.9 1370.3 391.4 1374.3 391.8 1380.3 390.9 1384.3 389.2 1388.3 386.1 1390.3 383.6 1392.3 379.4 1393.3 373.9 1392.9 365.9 1390.3 355.1 1384.3 337.7 1374.3 311.7 1372.2 311.9 1364.3 335.2 1358.4 353.9 1355.8 365.9 1355.5 373.9 1356.7 379.9 1360.3 385.9 1364.3 389.1ZM1302.8 327.9 1308.3 328.9 1312.3 328.9 1322.3 327.2 1339 321.9 1370.3 310.1 1370.3 307.8 1346.9 299.9 1328.3 294 1316.3 291.4 1310.3 291 1306.3 291.3 1302.3 292.3 1299 293.9 1294.5 297.9 1292.1 301.9 1290.8 305.9 1290.5 311.9 1292 317.9 1294.3 321.9 1298.3 325.7 1302.3 327.7ZM1427.2 325.9 1436.3 326.8 1444.3 325.5 1447.6 323.9 1450.3 321.8 1453.5 317.9 1455.3 313.9 1456.1 309.9 1456.1 305.9 1455.3 301.9 1453.6 297.9 1450.5 293.9 1448 291.9 1444.3 290.1 1440.3 289.1 1432.3 289.1 1419.6 291.9 1402.1 297.9 1376.1 307.9 1376.3 310 1411.8 321.9 1426.3 325.7ZM1372.1 305.9 1374.4 305.9 1388.2 263.9 1391 249.9 1391.1 243.9 1390.3 239.3 1388.3 234.6 1384.3 230.1 1378.3 226.9 1372.3 226 1366.3 226.9 1360.4 229.9 1356.5 233.9 1354.3 238.4 1353.3 243.9 1353.3 247.9 1355 257.9 1360.3 274.6 1371.5 303.9ZM1240.3 239.9 1248.2 240.3 1254.2 239.3 1260.2 237.1 1264.2 234.8 1272.2 227.7 1287 211.8 1291.4 205.8 1293.5 201.8 1295.5 195.8 1296 185.8 1295.2 179.8 1293.4 173.8 1291.1 167.8 1288.3 163 1282.2 163.6 1280.2 164.8 1278.2 164.9 1274.2 167.4 1270 171.8 1265.5 177.8 1265 179.8 1264.2 180.6 1262.2 182.2 1258.2 182.7 1252.2 185.5 1241.1 199.8 1240.7 201.8 1235.5 207.8 1234.8 209.8 1233.2 211.8 1232.9 213.8 1228.2 218.9 1223.9 221.9 1221.4 225.9 1222.2 234.4 1232.2 238.1 1240.2 239.9ZM1479.2 223.9 1484.4 224.6 1488.4 224.6 1496.4 223.1 1502.4 221.1 1508.4 218.2 1514.4 214.8 1514.6 213.8 1507.7 205.8 1503.7 199.8 1503.4 195.8 1501.4 191.8 1500.4 190.8 1498.4 189.1 1496.4 188.7 1492.4 186.7 1486.4 181.2 1482.4 178.6 1472.4 168.9 1470.4 167.9 1464.4 161.5 1462.3 160.8 1454.3 160.4 1452.3 159.2 1450.3 158.9 1448.3 157.1 1444.3 155 1440.3 151.5 1438.7 151.8 1437.2 155.8 1435 163.8 1433.9 171.8 1434.4 181.8 1437 189.8 1439.4 193.8 1444.3 199.6 1462.3 214.8 1470.4 220.4 1478.4 223.7ZM1352.9 213.8 1354.3 214.6 1356.3 214.7 1362.6 213.8 1360.3 212.8 1354.3 213.1ZM1364 211.8 1368.3 212.6 1380.3 212.4 1380.3 211.5 1376.3 211.2 1364.3 211.8Z"/>
<path fill="#00ffa6" d="M1304.2 464 1304.6 464 1307.4 456 1309.4 446 1309.2 436 1306.9 428 1304.3 423.2 1299.9 418 1278.2 399.4 1272.2 395.7 1268 393.9 1262.2 392.7 1256.2 392.7 1248.7 393.9 1240.2 397 1232.2 401.3 1231.8 404 1233.6 406 1235.6 410 1237.5 412 1239.4 416 1248.2 424.1 1252.2 431.4 1256.2 435 1258.2 435.3 1260.2 437 1264.2 439.2 1269.7 444 1278.2 452.9 1282.2 453.1 1284.3 454.7 1286.3 454.9 1290.3 458.8 1292.4 460 1294.3 460.7 1296.3 460.7 1300.3 462.6 1302.3 462.6ZM1460 456 1462.3 454.7 1464.4 454.6 1468.4 451 1470.4 450.4 1478.4 443 1482.4 440.9 1485.5 438 1488.8 434 1489.4 432 1490.4 431 1492.4 429.4 1494.4 429 1498.4 427 1503.4 422 1505.4 418 1507.4 416 1507.5 414 1509.3 412 1509.3 410 1518.9 400 1519.3 395.9 1521 393.9 1521.3 391.9 1526.4 385.5 1518 381.9 1510.4 379.7 1504.4 378.8 1498.4 378.7 1492.4 379.6 1486.4 381.9 1480.4 385.9 1476.4 389.6 1457.9 410 1454.3 416 1452.3 421.6 1451.5 428 1452.1 436 1454.3 444 1458.8 454ZM1384.3 404 1390.3 404.3 1391.9 404 1390.3 403.6 1386.3 403.7ZM1372.2 385.9 1376.3 386 1380.3 385 1384.3 382.8 1386.3 381 1389.5 375.9 1390.6 371.9 1391 367.9 1390.3 359.9 1388.3 351.4 1374.3 311.8 1372.3 312 1364.3 336.4 1360.3 349.9 1357.7 363.9 1358.1 371.9 1360.3 378.1 1364.3 382.7 1370.3 385.6ZM1308.9 325.9 1314.3 326.6 1318.3 326.4 1330.3 324 1343.2 319.9 1370.4 309.9 1370.2 307.9 1332.3 295.9 1322.3 293.8 1312.3 293.4 1308.3 294.2 1304.3 295.8 1299.5 299.9 1297.2 303.9 1296.2 307.9 1296.2 311.9 1297.2 315.9 1299.4 319.9 1301.2 321.9 1304.3 324.1 1308.3 325.7ZM1423.6 323.9 1432.3 324.5 1436.3 324.1 1440.3 322.9 1445.3 319.9 1447.1 317.9 1449.4 313.9 1450.4 309.9 1450.4 305.9 1448.5 299.9 1445.4 295.9 1442.7 293.9 1436.3 291.6 1428.3 291.4 1415.8 293.9 1376.2 307.9 1376.4 309.9 1407.2 319.9 1422.3 323.7ZM1372.2 305.9 1374.3 305.8 1386.3 267.9 1388.8 253.9 1388.8 247.9 1388 243.9 1386.3 239.7 1382.3 235.1 1378.3 232.8 1372.3 231.7 1366.3 232.8 1362.3 235 1358.3 239.5 1356.5 243.9 1355.7 247.9 1355.8 253.9 1358.2 265.9 1362.3 278.7 1371.6 303.9ZM1235.1 237.9 1242.2 239 1248.2 239.1 1254.2 238.2 1260.3 235.9 1266.2 231.9 1270.2 228.2 1288.7 207.8 1292.3 202 1293.8 197.8 1294.7 193.8 1295.1 187.8 1294.5 181.8 1293 175.8 1287.8 163.8 1284.3 163.3 1280.2 165 1278.2 165.1 1274.2 167.7 1272 169.8 1265.7 177.8 1265.2 179.8 1262.2 182.4 1258.2 182.9 1252.2 185.8 1241.2 199.8 1240.9 201.8 1235.7 207.8 1235 209.8 1233.3 211.8 1233.1 213.8 1228.2 219.1 1226.2 220.9 1224.1 221.9 1221.6 225.9 1222.2 233.2 1234.2 237.6ZM1476.1 221.9 1480.4 223 1486.4 223.5 1496.4 222 1504.4 219 1512.4 214.8 1513.8 213.8 1512.8 211.8 1507.4 205.8 1503.5 199.8 1503.2 195.8 1500.4 190.9 1498.4 189.3 1494.4 188.1 1492.4 186.9 1486.4 181.4 1482.4 178.8 1472.4 169 1470.4 168.2 1464.4 161.7 1462.3 160.9 1454.3 160.6 1452.3 159.4 1450.3 159.1 1448.3 157.3 1446.3 156.7 1440.3 151.7 1439.1 153.8 1436.6 161.8 1435 171.8 1435.5 181.8 1438.3 189.8 1442.3 195.8 1448.4 201.8 1466.4 216.5 1474.4 221.1ZM1355.8 213.8 1358.3 213.9 1356.3 213.8Z"/>
<path fill="#00ffbf" d="M1299.1 462 1300.3 462.4 1304.3 462.1 1307.7 450 1308.5 440 1307.1 432 1304.6 426 1300.3 420 1296.1 416 1276.2 399.5 1269.9 395.9 1262.7 393.9 1254.2 393.9 1245.7 395.9 1240.7 397.9 1233.1 402 1232.2 402.6 1232 404 1235.2 408 1235.8 410 1239.1 414 1239.6 416 1244.2 420.7 1246.2 421.7 1248.4 424 1252.2 431.2 1256.2 434.9 1258.2 435.1 1260.2 436.9 1264.2 439 1269.9 444 1278.2 452.7 1282.2 452.9 1284.3 454.5 1286.3 454.7 1290.3 458.6 1292.9 460 1298.3 461.2ZM1460 454 1460.3 454.6 1464.4 454.4 1468.4 450.7 1470.4 450.2 1478.4 442.8 1482.4 440.7 1485.3 438 1487.2 436 1489.3 432 1490.4 430.9 1492.4 429.2 1494.4 428.9 1496.4 427.5 1498.4 426.9 1503.3 422 1505.3 418 1507.2 416 1507.4 414 1509.2 412 1509.2 410 1518.7 400 1519.1 395.9 1520.8 393.9 1521.1 391.9 1524.7 387.9 1524.9 385.9 1514.8 381.9 1510.4 380.8 1504.4 379.8 1496.6 379.9 1490.4 381.5 1485.3 383.9 1482.2 385.9 1476.4 391.3 1460.3 408.7 1456.3 414.6 1454 420 1452.7 428 1453 434 1454.3 440.7 1458.9 452ZM1368.2 379.9 1372.3 381.2 1376.3 381.2 1382.3 378.8 1384.3 377.1 1386.6 373.9 1388.2 369.9 1388.9 365.9 1388.6 357.9 1386.3 347.3 1374.3 311.8 1372.3 312.3 1362.6 343.9 1359.8 357.9 1359.5 363.9 1360.4 369.9 1362.3 374.5 1366.3 378.8ZM1312.6 323.9 1320.3 324.5 1330.3 323.1 1342.3 319.6 1370.4 309.9 1369.9 307.9 1337 297.9 1326.3 295.6 1318.3 295.1 1314.3 295.5 1310.3 296.7 1305.1 299.9 1303.4 301.9 1301.4 305.9 1300.9 309.9 1301.4 313.9 1303.4 317.9 1305.1 319.9 1308.3 322.2 1312.3 323.8ZM1418.7 321.9 1428.3 322.7 1434.3 321.8 1440.3 318.9 1443.2 315.9 1444.4 313.9 1445.6 309.9 1445.6 305.9 1443.2 299.9 1438.9 295.9 1432.3 293.6 1424.3 293.4 1412.3 295.7 1376.2 307.9 1376.7 309.9 1402.4 317.9 1418.3 321.9ZM1372.2 305.9 1374.3 305.5 1384.3 272.6 1386.2 263.9 1387 257.9 1386.9 251.9 1386.2 247.9 1384.3 243.3 1380.3 239 1376.3 237 1372.3 236.5 1368.3 237 1363.2 239.9 1360.3 243.3 1358.4 247.9 1357.7 255.9 1359.1 265.9 1362.6 277.9 1371.7 303.9ZM1241 237.9 1248.2 238 1252.2 237.4 1257.4 235.9 1264.2 231.9 1270.2 226.5 1282.2 213.7 1289.9 203.8 1293 195.8 1293.9 189.8 1293.8 185.8 1292.5 177.8 1291.1 173.8 1288.3 166.9 1286.3 163.7 1284.3 163.5 1277.4 165.8 1272.2 169.9 1265.9 177.8 1265.3 179.8 1262.2 182.6 1258.2 183 1252.5 185.8 1241.4 199.8 1241.1 201.8 1235.9 207.8 1235.2 209.8 1233.5 211.8 1233.3 213.8 1226.2 221.1 1224.6 221.9 1221.8 225.9 1222.2 232.1 1231.7 235.9 1240.2 237.8ZM1480.7 221.9 1490.4 222.1 1498.4 220.3 1508.5 215.8 1512.4 213.5 1512.6 211.8 1507.2 205.8 1505.7 203.8 1505 201.8 1503.2 199.8 1503.1 195.8 1500.4 191.1 1498.4 189.6 1494.4 188.4 1492.4 187 1486.4 181.6 1482.4 178.9 1472.4 169.2 1470.4 168.4 1467.7 165.8 1466.5 163.8 1464.1 161.8 1462.3 161.1 1454.3 160.9 1452.3 159.6 1450.3 159.2 1448.3 157.5 1446.3 157 1442.3 153.5 1440.3 153.6 1439.6 155.8 1437.2 163.8 1436 171.8 1436.3 180 1438.3 187.1 1440.3 191 1443.9 195.8 1447.9 199.8 1464.8 213.8 1470.5 217.8 1474.3 219.9 1480.4 221.8Z"/>
<path fill="#00ffd9" d="M1299.6 462 1302.9 462 1306.1 452 1307 444 1306.5 436 1304.3 429 1302.3 425.5 1298.3 420.4 1293.6 416 1274.2 400.2 1270.3 397.9 1264.5 395.9 1258.2 395.4 1251 395.9 1244.1 397.9 1232.3 404 1235.6 408 1236 410 1239.4 414 1239.8 416 1244.2 420.5 1246.2 421.3 1248.7 424 1251.5 430 1256.2 434.7 1258.2 434.9 1260.2 436.7 1264.2 438.9 1270.1 444 1278.2 452.6 1282.2 452.7 1284.3 454.3 1286.3 454.6 1290.3 458.4 1292.3 459 1293.3 460 1298.3 460.8ZM1461.4 454 1464.4 454.2 1468.4 450.5 1470.4 450 1478.4 442.6 1482.4 440.6 1485.1 438 1487.1 436 1489.1 432 1492.4 429 1494.4 428.7 1496.4 427.3 1498.4 426.7 1503.1 422 1505.1 418 1507.1 416 1507.2 414 1509 412 1509 410 1518.5 400 1518.9 395.9 1520.6 393.9 1520.8 391.9 1524.5 387.9 1524.4 387.2 1516.8 383.9 1509.5 381.9 1498.4 381.5 1494.6 381.9 1488.8 383.9 1482.4 387.9 1478 391.9 1462.3 408.9 1458.3 414.5 1455.9 420 1454.3 426.1 1454.3 434 1456.3 442.8 1460.3 452.2ZM1369.2 375.9 1372.3 377 1376.3 377 1380.3 375.5 1382.3 374 1384.3 371.6 1386.1 367.9 1387.2 361.9 1386.7 353.9 1384.6 343.9 1374.3 312 1372.3 312.6 1368.3 325.9 1362.9 345.9 1361.3 355.9 1361.2 361.9 1362.4 367.9 1364.5 371.9 1368.3 375.5ZM1314.9 321.9 1318.3 322.6 1324.3 322.8 1336.3 320.7 1370.2 309.9 1369.6 307.9 1334.3 298.1 1324.3 296.8 1316.3 297.4 1312.3 298.9 1308.2 301.9 1305.8 305.9 1305.1 309.9 1305.8 313.9 1308.2 317.9 1310.6 319.9 1314.3 321.7ZM1413.2 319.9 1422.3 321 1430.3 320.4 1436.1 317.9 1439.9 313.9 1440.8 311.9 1441.5 307.9 1440.8 303.9 1439.9 301.9 1436 297.9 1430.3 295.5 1422.3 295 1412.3 296.6 1400.7 299.9 1376.4 307.9 1377 309.9 1412.3 319.7ZM1371.8 303.9 1372.3 305.8 1374.3 305.2 1382.3 277.7 1384.1 269.9 1385.3 261.9 1385.4 255.9 1384.8 251.9 1383.3 247.9 1380.3 243.8 1376.3 241.4 1372.3 240.7 1368.3 241.4 1364.3 243.8 1362.3 246.2 1360.3 250.5 1359.4 257.9 1360.6 267.9 1364.4 281.9 1371.3 301.9ZM1237.1 235.9 1244.2 236.5 1252.1 235.9 1257.8 233.9 1261.3 231.9 1264.2 229.8 1270.2 224.1 1286.3 206.3 1288.3 203.3 1290.7 197.8 1292.2 191.8 1292.4 185.8 1290.3 175 1288.3 169.7 1285.2 163.8 1283.9 163.8 1282.2 165 1278.2 165.5 1275 167.8 1268.2 175 1266.1 177.8 1265.5 179.8 1262.2 182.8 1258.2 183.2 1252.2 186.3 1241.5 199.8 1241.2 201.8 1237.6 205.8 1236.1 207.8 1235.4 209.8 1233.6 211.8 1233.5 213.8 1226.2 221.3 1225.1 221.9 1221.9 225.9 1222.2 230.6 1229.7 233.9 1236.2 235.6ZM1479.5 219.9 1486.4 220.6 1494.9 219.9 1505.8 215.8 1512.4 211.8 1505.3 203.8 1504.8 201.8 1503 199.8 1502.9 195.8 1501.4 193.8 1500.4 191.2 1498.4 189.8 1494.4 188.6 1492.4 187.1 1486.4 181.8 1482.4 179 1472.4 169.3 1470.4 168.6 1467.5 165.8 1466.4 163.9 1463.7 161.8 1462.3 161.2 1454.3 161.1 1452.2 159.8 1450.3 159.4 1448.3 157.8 1446.3 157.3 1442.3 153.7 1441.7 153.8 1440.3 157.1 1438.4 163.8 1437.5 171.8 1438.3 181.8 1440.3 187.5 1444.3 193.8 1450.3 199.8 1470.4 215.8 1478.4 219.5Z"/>
<path fill="#00fff2" d="M1300.1 462 1300.8 462 1302.3 458.5 1304.2 450 1304.3 443.6 1303 438 1300.3 431.8 1297.7 428 1292.5 422 1286.2 416 1272.2 405.2 1266.4 402 1260.2 399.8 1254.2 399.1 1246.1 400 1240.2 402 1236.2 404.1 1234.2 405.4 1234.2 406 1236 408 1236.2 410 1239.7 414 1239.9 416 1244.2 420.4 1246.2 420.9 1249.1 424 1251.7 430 1256.2 434.6 1258.2 434.8 1260.2 436.6 1264.2 438.7 1270.3 444 1278.2 452.4 1282.2 452.5 1284.3 454.1 1286.3 454.4 1290.3 458.3 1292.3 458.6 1293.7 460 1298.3 460.3ZM1463.7 454 1464.4 454 1468.4 450.2 1472.4 448.2 1480.4 440.9 1482.4 440.4 1486.9 436 1489 432 1492.4 428.8 1494.4 428.6 1496.4 427 1498.4 426.6 1503 422 1505 418 1507 416 1507 414 1508.9 412 1508.9 410 1516.7 402 1518.4 399.5 1518.7 395.9 1520.4 393.9 1520.6 391.9 1522.5 389.9 1522.4 388.6 1515.8 385.9 1508.4 384.6 1502.4 384.7 1496.7 385.9 1492.1 387.9 1486.4 391.7 1476.4 400.7 1469.8 408 1464.4 414.9 1460.3 421.8 1458.3 427.1 1457.5 434 1458 440 1460.3 447.8 1462.4 452ZM1369.4 371.9 1374.3 373.3 1378.3 372.4 1380.3 371.2 1382.3 369.2 1384.2 365.9 1385.6 359.9 1385.5 353.9 1384.3 345.9 1374.3 312.3 1372.3 312.9 1372 313.9 1364.5 341.9 1362.8 351.9 1362.6 357.9 1363.6 363.9 1365.3 367.9 1368.3 371.3ZM1316.5 319.9 1324.3 321.3 1336.3 319.9 1369.9 309.9 1369.3 307.9 1336.3 299.3 1328.3 298.3 1320.3 298.7 1316.2 299.9 1312.9 301.9 1310.9 303.9 1309.1 307.9 1309.2 311.9 1310.3 314.7 1313 317.9 1316.3 319.8ZM1407.4 317.9 1416.3 319.4 1424.3 319.4 1430.4 317.9 1433.7 315.9 1435.7 313.9 1437.5 309.9 1437.4 305.9 1436.8 303.9 1433.6 299.9 1430.1 297.9 1426.3 296.9 1418.3 296.7 1410.3 297.9 1376.7 307.9 1377.3 309.9 1406.3 317.7ZM1371.9 303.9 1372.3 305.5 1374.3 304.9 1382.1 275.9 1383.9 263.9 1383.5 255.9 1382.3 251.8 1379.7 247.9 1376.3 245.4 1372.3 244.5 1368.3 245.4 1366.3 246.6 1363.5 249.9 1361.7 253.9 1361 261.9 1362.3 271.9 1366.3 286.2 1371.5 301.9ZM1230.7 231.9 1238.2 233.2 1242.2 233.3 1249.9 231.9 1254.5 229.9 1260.6 225.9 1266.2 221 1278.5 207.8 1282.2 202.9 1286.3 196 1288.3 190.7 1288.8 187.8 1289 181.8 1288.3 175.8 1284.2 165.8 1278 165.8 1270.2 173 1266.2 178.1 1265.7 179.8 1262.2 183 1258.2 183.3 1256.2 184.8 1253 185.8 1247.6 191.8 1245.2 195.8 1241.6 199.8 1241.4 201.8 1236.2 208 1235.6 209.8 1233.8 211.8 1233.7 213.8 1222.1 225.9 1222.2 228.2 1230.2 231.7ZM1483.1 215.8 1490.4 217 1498.4 216.1 1505 213.8 1510.4 210.8 1510.4 209.8 1504.9 203.8 1504.6 201.8 1502.8 199.8 1502.7 195.8 1501.1 193.8 1500.8 191.8 1498.1 189.8 1494.4 188.9 1482.4 179.2 1474.4 171.2 1472.4 169.5 1470.4 168.9 1466.4 164.3 1462.3 161.4 1454.3 161.4 1446.3 157.6 1444.3 155.7 1442.9 155.8 1440.6 163.8 1440.2 167.8 1440.3 174.1 1442.3 181 1444.3 184.8 1448.3 190.3 1458 199.8 1470.9 209.8 1477.9 213.8 1482.4 215.6Z"/>
<path fill="#00f2ff" d="M1294.2 460 1295.8 460 1297.4 454 1297.3 450 1295.8 444 1293 438 1289 432 1280.2 422.4 1274.2 417.4 1268.2 413.4 1260.2 409.5 1254.2 407.7 1248.2 407 1242.2 407.9 1238.2 409.7 1238.2 412 1240 414 1240.1 416 1244.2 420.2 1246.2 420.6 1249.4 424 1250.2 426.7 1251.4 428 1251.8 430 1256.2 434.5 1258.2 434.6 1260.2 436.5 1262.2 437.1 1264.2 438.6 1270.7 444 1271.9 446 1278.2 452.2 1282.2 452.3 1284.4 454 1286.3 454.2 1290.3 458.1 1292.3 458.2ZM1467.7 450 1468.4 450 1470.4 448.3 1472.4 448.1 1480.4 440.6 1482.4 440.3 1486.8 436 1488.9 432 1492.4 428.7 1494.4 428.5 1496.4 426.8 1498.4 426.5 1502.9 422 1504.9 418 1506.8 416 1506.9 414 1508.7 412 1508.7 410 1516.6 402 1517.1 400 1518.4 398.5 1518.4 393.1 1514.4 392 1510.4 391.8 1506.4 392.3 1500.4 394.3 1490.4 400.2 1481.5 408 1473.4 418 1469.8 424 1467.1 430 1465.5 436 1465 440 1465.3 444 1466.6 448ZM1369.4 367.9 1372.3 369.3 1374.3 369.6 1378.3 368.5 1380.3 366.9 1382.3 364.1 1384.1 357.9 1384.1 351.9 1382.6 341.9 1374.3 312.7 1372.3 313.2 1372.1 313.9 1366.3 337.1 1364.3 347.9 1363.9 353.9 1364.6 359.9 1366.3 364.5 1368.3 367.1ZM1318.1 317.9 1322.3 319.3 1326.3 319.8 1332.3 319.6 1338.3 318.6 1369.5 309.9 1368.9 307.9 1338.3 300.5 1330.3 299.6 1323.7 299.9 1317.7 301.9 1315.1 303.9 1313.6 305.9 1312.9 307.9 1312.9 311.9 1313.7 313.9 1316.3 316.7ZM1412.3 317.9 1418.3 318.3 1424.3 317.6 1428.9 315.9 1431.5 313.9 1433 311.9 1434 307.9 1433.7 305.9 1432.3 303.2 1428.5 299.9 1422.3 298.1 1416.3 298.1 1406.3 299.6 1377.1 307.9 1377.6 309.9 1378.3 310.1 1410.3 317.6ZM1372 303.9 1372.3 305.1 1374.3 304.5 1380.3 280.7 1382.5 267.9 1382.3 259.3 1380.6 253.9 1378.3 250.7 1376.3 249.2 1372.3 248.2 1368.3 249.3 1366.3 250.9 1364.3 253.7 1362.9 257.9 1362.4 263.9 1363.6 273.9 1371.6 301.9ZM1232.3 225.9 1236.2 226 1240.2 225.5 1244.2 224.3 1250.2 221.5 1260.2 214.4 1265.1 209.8 1270.3 203.8 1274.5 197.8 1277.8 191.8 1281.1 181.8 1281.6 177.8 1281.3 173.8 1280 169.8 1278.2 166.8 1276.1 167.8 1270.2 173.4 1268 175.8 1265.9 179.8 1262.2 183.2 1258.2 183.4 1256.2 185 1253.3 185.8 1247.8 191.8 1245.4 195.8 1241.8 199.8 1241.6 201.8 1237.9 205.8 1235.8 209.8 1233.9 211.8 1233.9 213.8 1226.1 221.9 1226.2 223.7 1232.2 225.8ZM1488.8 207.8 1494.4 208.9 1498.4 209 1502.4 208.3 1506.4 206.6 1506.4 205.8 1504.5 203.8 1504.5 201.8 1502.6 199.8 1502.6 195.8 1500.8 193.8 1500.7 191.8 1497.6 189.8 1494.4 189.1 1484.4 181.1 1472.4 169.7 1470.4 169.1 1466.4 164.8 1462.3 161.6 1452.3 161.4 1450.6 159.8 1447.4 159.8 1446.9 163.8 1447.3 167.8 1449.2 173.8 1451.2 177.8 1458.4 187.8 1468.4 197.1 1478.4 203.6 1488.4 207.7Z"/>
<path fill="#00d9ff" d="M1285.8 454 1288.3 455.5 1289.4 452 1289.5 448 1287.9 442 1284.8 436 1281.9 432 1274 424 1264.2 417.6 1258.2 415.2 1254.2 414.3 1250.2 414 1246.2 414.6 1242.2 416.6 1242.2 418 1244.2 420 1246.2 420.2 1249.7 424 1250 426 1251.7 428 1251.9 430 1256.2 434.3 1258.2 434.4 1260.2 436.4 1262.2 436.8 1268.2 442.2 1270.2 443.1 1272.1 446 1278.2 452.1 1282.2 452.2 1284.3 452.8ZM1474.2 444 1476.4 444 1480.4 440.3 1482.4 440.2 1486.6 436 1487.2 434 1492.4 428.5 1494.4 428.3 1496.4 426.6 1498.4 426.4 1500.4 424.4 1502.7 422 1503.2 420 1506.7 416 1506.7 414 1508.6 412 1508.6 410 1516.4 402 1516.4 401.1 1514.1 400 1510.4 399.1 1506.4 399.3 1502.4 400.3 1494.4 404.2 1487.1 410 1480 418 1475.3 426 1472.8 434 1472.6 438 1473.3 442ZM1373.9 365.9 1376.3 365.6 1378.3 364.6 1380.3 362.5 1382.3 357.9 1382.9 351.9 1381.3 339.9 1374.3 313 1372.2 313.9 1366.4 339.9 1365.2 349.9 1365.6 355.9 1366.7 359.9 1368.3 362.8 1370.3 364.7 1372.3 365.7ZM1324.5 317.9 1328.3 318.4 1334.3 318.3 1346.3 316 1369.2 309.9 1368.3 307.8 1338.3 301.4 1330.3 300.8 1324.3 301.6 1320.3 303.3 1318.3 305 1316.5 307.9 1316.2 309.9 1316.6 311.9 1318.3 314.6 1320.3 316.2 1324.3 317.9ZM1404.8 315.9 1412.3 316.9 1418.3 316.9 1423.4 315.9 1427.2 313.9 1429.1 311.9 1430.1 309.9 1430 305.9 1429 303.9 1426.9 301.9 1422.1 299.9 1416.3 299.3 1408.3 300.1 1377.4 307.9 1378.3 310 1404.3 315.8ZM1372.1 303.9 1372.3 304.8 1374.3 304.2 1379.8 279.9 1381.3 269.9 1381 261.9 1380.3 258.8 1378.3 255 1376.3 253.1 1372.3 251.8 1370.3 252.2 1367.6 253.9 1366 255.9 1364.3 260.1 1363.7 265.9 1364.5 273.9 1371.7 301.9ZM1232.5 217.8 1238.2 218.7 1242.2 218.1 1246.2 216.8 1254.8 211.8 1263.4 203.8 1269.2 195.8 1272.8 187.8 1274 179.8 1273.3 175.8 1272.2 173.5 1270.2 173.7 1268.2 175.7 1267.8 177.8 1262.2 183.4 1258.2 183.6 1256.2 185.3 1254.2 185.5 1250.2 189.2 1247.9 191.8 1247.2 193.8 1241.9 199.8 1241.8 201.8 1238 205.8 1237.4 207.8 1234.1 211.8 1234.1 213.8 1232.2 215.8 1232.2 217.8ZM1491.9 201.8 1498.4 201.4 1502.4 199.5 1502.4 195.8 1500.6 193.8 1500.5 191.8 1498.4 191.2 1497.1 189.8 1494.4 189.4 1484.4 181.3 1474.4 171.5 1472.3 169.8 1470.4 169.3 1462.3 161.7 1455.7 161.8 1454.8 165.8 1455.1 169.8 1456.3 173.8 1460.7 181.8 1466.4 188.4 1474.4 194.9 1482.4 199.3 1490.4 201.7Z"/>
<path fill="#00bfff" d="M1279.5 452 1281.6 452 1282.9 448 1282.6 444 1280.3 438 1277.6 434 1274 430 1269.3 426 1264.2 422.9 1256.2 420.2 1252.2 420.1 1248.2 421.3 1248.2 422 1250.1 424 1250.2 426.2 1252 428 1252.1 430 1256.2 434.2 1258.2 434.3 1260.2 436.2 1262.2 436.5 1268.2 442 1270.2 442.7 1274.2 448.1 1278.2 451.3ZM1480.4 440 1482.4 440 1486.4 436.1 1486.8 434 1492.4 428.3 1494.4 428.2 1496.4 426.4 1498.4 426.2 1502.6 422 1502.9 420 1506.6 416 1506.6 414 1508.5 412 1508.5 410 1510.4 408 1510.4 406.1 1506.4 405.4 1500.4 406.7 1494.4 409.8 1487.4 416 1482.4 422.8 1479.4 430 1478.9 436 1480.4 439.9ZM1372.1 361.9 1374.3 362.4 1376.3 361.9 1378.3 360.5 1380.8 355.9 1381.5 349.9 1380.3 338.6 1374.3 313.4 1372.3 313.9 1367.9 335.9 1366.5 345.9 1366.9 353.9 1368.3 358.2 1370.3 360.8ZM1324.9 315.9 1332.3 317.1 1342.3 316.2 1368.8 309.9 1368.3 307.9 1340.3 302.5 1334.3 302 1328.3 302.5 1324 303.9 1321.4 305.9 1320.1 307.9 1319.8 309.9 1320.3 311.9 1321.7 313.9 1324.3 315.6ZM1398 313.9 1412.3 315.8 1418.3 315.3 1422.6 313.9 1425.2 311.9 1426.5 309.9 1426.8 307.9 1426.3 305.9 1424.9 303.9 1420.3 301.4 1414.3 300.7 1406.3 301.3 1377.8 307.9 1378.3 309.9 1396.3 313.5ZM1372.2 303.9 1372.3 304.4 1374.3 303.9 1379.4 277.9 1380.1 271.9 1380 265.9 1378.3 259.6 1376.3 257 1374.3 255.7 1372.3 255.4 1370.3 255.9 1368.3 257.3 1365.8 261.9 1365.1 267.9 1365.7 275.9 1371.9 301.9ZM1236.8 211.8 1240.2 212.4 1246.2 211.1 1252.2 208 1258.2 202.9 1263.8 195.8 1266.6 189.8 1267.8 183.8 1267.2 179.8 1266.2 179.8 1262.2 183.7 1258.2 183.7 1256.2 185.5 1253.8 185.8 1252.2 187.4 1248 191.8 1247.6 193.8 1242 199.8 1242 201.8 1238.2 205.8 1237.9 207.8 1236.2 209.7 1236.2 211.7ZM1489.3 195.8 1494.4 195.5 1497.6 193.8 1499.4 191.8 1498.4 191.8 1496.6 189.8 1494.4 189.7 1492.6 187.8 1490.4 186.8 1474.4 171.6 1470.4 169.5 1464.4 163.8 1463.1 163.8 1462 165.8 1461.5 167.8 1461.7 171.8 1463 175.8 1466.6 181.8 1470.4 186 1476.4 190.8 1482.4 194 1488.4 195.7Z"/>
<path fill="#00a6ff" d="M1274.2 448 1275 448 1276 446 1276.3 444 1275.4 440 1272.2 434.9 1268.2 430.9 1263.5 428 1258.2 426.3 1254.2 426.6 1252.2 427.7 1252.2 430 1256.2 434.1 1258.2 434.1 1260.2 436.1 1262.2 436.2 1266.2 440.1 1270.2 442.3 1273.9 446ZM1485.8 434 1486.4 435 1486.4 434 1492.4 428.1 1494.4 428.1 1496.4 426.2 1498.4 426.1 1502.5 422 1502.6 420 1506.4 416 1506.4 412.6 1504.4 412 1500.4 412.5 1496.4 414.3 1492.4 417.4 1487.2 424 1485.6 428 1485.3 432ZM1371.8 357.9 1374.3 358.7 1376.3 358.1 1378.3 356 1379.8 351.9 1380.3 347.9 1379.3 337.9 1374.3 313.8 1372.3 314.8 1367.8 341.9 1368.2 351.9 1370.3 356.6ZM1326.2 313.9 1332.3 315.7 1342.3 315.3 1368.4 309.9 1367.4 307.9 1344.3 303.9 1338.3 303.3 1332.3 303.5 1328.3 304.5 1325.6 305.9 1323.9 307.9 1323.5 309.9 1324.3 312.1ZM1402 313.9 1408.3 314.5 1414.3 314.3 1418.3 313.3 1421 311.9 1422.7 309.9 1423.1 307.9 1422.5 305.9 1420.4 303.9 1416.3 302.4 1410.3 301.9 1404.3 302.5 1378.2 307.9 1379.2 309.9 1400.3 313.6ZM1372.3 303.9 1374.3 303 1376.3 291.8 1378.6 277.9 1378.7 267.9 1377.7 263.9 1376.3 261.2 1374.3 259.5 1372.3 259.1 1370.3 259.7 1368.3 261.8 1366.8 265.9 1366.3 271.9 1366.9 277.9 1372 301.9ZM1240.2 203.8 1240.2 205.2 1242.2 205.8 1244.2 205.7 1248.2 204.5 1254.2 200.4 1258.2 195.8 1261 189.8 1261.3 185.8 1260.8 183.8 1259.7 183.8 1256.2 185.7 1254.2 185.7 1248.2 191.8 1247.9 193.8 1242.2 199.8 1242.1 201.8 1240.2 203.8ZM1480.5 187.8 1484.4 189.3 1488.4 189.8 1490.4 189.4 1492.4 187.8 1490.4 187.7 1474.4 171.8 1472.4 171.5 1470.5 169.8 1468.6 169.8 1468.2 171.8 1468.4 173.8 1469.9 177.8 1474.4 183.5 1480.4 187.8Z"/>
<path fill="#008cff" d="M1372 353.9 1374.3 354.8 1376.3 353.8 1378.3 350.2 1378.9 345.9 1378.3 336.6 1374.3 314.6 1372.3 315.8 1369.2 337.9 1369 345.9 1370.4 351.9ZM1332 313.9 1338.3 314.5 1345.6 313.9 1367.6 309.9 1366.4 307.9 1344.3 304.8 1334.3 304.8 1330.5 305.9 1328 307.9 1327.4 309.9 1328.4 311.9 1330.3 313.1ZM1393.9 311.9 1408.3 313.3 1412.3 313 1416.1 311.9 1418.6 309.9 1419.2 307.9 1418.2 305.9 1414.3 303.8 1408.3 303.3 1402.3 303.7 1379 307.9 1380.2 309.9 1392.3 311.6ZM1372.1 301.9 1372.3 303.2 1374.3 302 1377.4 279.9 1377.4 269.9 1376.2 265.9 1374.3 263.6 1372.3 263 1370.3 264 1368.2 267.9 1367.7 273.9 1368.1 279.9 1371.9 299.9Z"/>
<path fill="#0073ff" d="M1373.4 349.9 1374.3 350.3 1376.3 348.6 1377.5 341.9 1374.3 315.8 1372.3 317.9 1370.2 337.9 1370.3 344.1 1372.3 349.5ZM1333.6 311.9 1338.3 313 1342.3 313.1 1366.3 309.7 1364.3 307.9 1346.1 305.9 1340.3 305.7 1336.3 306.3 1332.7 307.9 1331.9 309.9 1332.3 310.4ZM1400.5 311.9 1408.5 311.9 1413.9 309.9 1414.7 307.9 1413 305.9 1408.3 304.8 1400.3 305.1 1380.2 307.9 1382.3 309.9 1400.3 311.9ZM1372.3 301.9 1374.3 299.9 1376.3 281.7 1376.3 273.9 1374.3 268.3 1372.3 267.5 1370.3 269.2 1369.5 271.9 1369.3 279.9 1372.1 299.9Z"/>
<path fill="#0059ff" d="M1373.7 343.9 1374.3 344.3 1375.4 341.9 1375.9 337.9 1374.3 319.2 1372.3 324.8 1371.8 337.9 1372.3 342.6ZM1337.9 309.9 1340.3 311 1344.3 311.5 1363 309.9 1357.4 307.9 1346.3 307.4 1339.6 307.9 1338.3 309.3ZM1389.2 309.9 1400.3 310.4 1406.3 310.1 1408.7 307.9 1406.3 306.8 1402.3 306.3 1383.6 307.9 1388.3 309.7ZM1372.3 297.9 1372.3 298.6 1372.7 297.9 1374.3 293 1374.7 277.9 1374.3 275.2 1372.3 273.5 1370.8 277.9 1372.1 295.9Z"/>
<path fill="none" stroke="#000" stroke-width="1.5" stroke-linejoin="round" d="M1206.2 342.8 1206 333.9 1204.2 331.9 1204 305.9 1203.5 303.9 1202.2 302.6 1202.2 295.9 1204.2 296.1 1209.4 303.9 1211.4 309.9 1212.4 315.9 1212.7 325.9 1211.8 331.9 1209.5 337.9 1206.2 342.8ZM1358.3 324.3 1358.2 323.9 1358.6 323.9 1358.3 324.3ZM1388.3 324 1388.3 323.6 1388.7 323.9 1388.3 324ZM1360.3 322.4 1360.3 321.8 1360.3 322.4ZM1386.3 322.1 1386.3 321.6 1386.8 321.9 1386.3 322.1ZM1362.3 320.2 1362.3 319.8 1362.3 320.2ZM1384.3 320 1384.3 320ZM1364.3 318.1 1364.3 318.1ZM1382.3 318 1382.3 318ZM1540.4 319.5 1537.1 313.9 1535.1 307.9 1533.9 293.9 1534.5 287.9 1535.6 283.9 1538.4 277.8 1540.4 276.8 1540.7 287.9 1541.1 289.9 1542.6 291.9 1542.9 301.9 1544.6 303.9 1544.6 311.9 1542.6 313.9 1542.4 316.4 1540.5 317.9 1540.4 319.5ZM1366.3 316 1366.3 316ZM1380.3 316 1380.3 316ZM1368.3 314 1368.3 314ZM1378.3 313.9 1378.3 313.9ZM1370.3 311.9 1370.3 311.9ZM1376.3 311.9 1376.3 311.9ZM1372.3 309.9 1372.2 307.9 1374.3 307.8 1374.3 309.9 1372.3 309.9ZM1370.3 306 1370.3 306ZM1376.3 305.9 1376.3 305.9ZM1368.3 304.1 1368.3 303.7 1368.3 304.1ZM1378.3 304 1378.3 303.6 1378.3 304ZM1366.3 302.2 1365.7 301.9 1366.3 301.5 1366.3 302.2ZM1380.3 302.1 1380.3 301.3 1380.7 301.9 1380.3 302.1ZM1364.3 300.5 1363.2 299.9 1364.3 299.4 1364.7 299.9 1364.3 300.5ZM1382.3 300.3 1381.7 299.9 1382.3 298.8 1382.8 299.9 1382.3 300.3ZM1362.3 298.9 1360.6 297.9 1362.3 297.2 1362.8 297.9 1362.3 298.9ZM1384.3 298.4 1383.3 297.9 1384.3 296.2 1385 297.9 1384.3 298.4ZM1358.3 296 1354.1 291.9 1352.9 289.9 1354.3 289.4 1360.3 295 1361 295.9 1360.3 297.6 1358.3 296ZM1386.3 296.6 1384.6 295.9 1388.3 291.6 1392.3 288.5 1392.8 289.9 1386.3 296.6ZM1368.3 480 1368.3 480ZM1370.3 478 1376.3 475.2 1388.3 474.2 1394.3 475.2 1399.3 478 1382.3 478.1 1380.3 476.1 1378.3 476 1376.3 476 1374.3 478 1370.3 478ZM1212.2 359.2 1211.7 355.9 1207.9 351.9 1207.6 349.9 1205.7 347.9 1205.5 335.9 1205.1 333.9 1203.6 331.9 1203.5 305.9 1201.8 303.9 1201.6 295.9 1203.4 293.9 1204.2 290.5 1205.7 287.9 1206.2 279.3 1208.2 279.2 1214.6 283.9 1220.2 288.8 1224.8 293.9 1227.5 297.9 1230.2 303.9 1232.2 313.9 1232.4 327.9 1231.2 333.9 1229.8 337.9 1227.7 341.9 1223.5 347.9 1212.2 359.2ZM1340.3 344.3 1338.8 341.9 1339 339.9 1340.9 335.9 1344 331.9 1355.6 321.9 1369.3 311.9 1370.3 311.5 1370.7 311.9 1368.3 316.3 1360.3 327.9 1352.3 338 1346.3 343 1342.3 344.5 1340.3 344.3ZM1402.3 342.5 1396.3 338.2 1390.3 331.7 1376.3 312.9 1375.9 311.9 1376.3 311.5 1380.7 313.9 1395.1 323.9 1402.4 329.9 1406 333.9 1408.4 337.9 1408.9 339.9 1408.7 341.9 1406.3 343.4 1402.3 342.5ZM1540.4 340.2 1528.4 331.2 1523.2 325.9 1520.2 321.9 1517.9 317.9 1515.7 311.9 1514.6 305.9 1514.1 297.9 1514.5 287.9 1516.2 281.9 1518 277.9 1520.4 273.9 1525.1 267.9 1533.3 259.9 1536.4 257.8 1538.4 259.9 1539 273.9 1540.9 275.9 1541.5 285.9 1543.1 291.9 1543.3 299.9 1545.1 303.9 1545.1 311.9 1543.4 313.9 1541.8 319.9 1542.9 323.9 1542.7 331.9 1541.3 333.9 1540.4 340.2ZM1372.3 310.3 1371.9 307.9 1374.3 307.5 1374.7 309.9 1372.3 310.3ZM1370.3 306.3 1365.8 303.9 1353.9 295.9 1343.6 287.9 1339.8 283.9 1337.2 279.9 1336.2 275.9 1337.1 273.9 1338.3 273.2 1340.3 273 1342.3 273.5 1346.3 275.7 1350.3 279 1360.3 290.8 1370.3 304.8 1370.7 305.9 1370.3 306.3ZM1376.3 306.3 1375.9 305.9 1376.3 304.6 1378.3 301.4 1388.3 286.6 1394.3 279.2 1398.3 275.4 1402.3 272.8 1406.3 271.8 1408.3 272.7 1409 273.9 1409.2 275.9 1408.7 277.9 1406.5 281.9 1403.2 285.9 1394 293.9 1376.3 306.3ZM1352.3 142.6 1348.3 140.6 1348.3 139.8 1370.3 139.8 1372.7 141.8 1368.3 143 1360.3 143.6 1356.3 143.5 1352.3 142.6ZM1364.3 480.8 1360.3 478.7 1348.3 478.1 1347.6 476 1353 462 1358.3 452 1361.6 448 1364.3 445.7 1368.3 443.7 1372.3 442.6 1390.3 441.5 1396.3 442.5 1400.3 444.4 1404.3 447.7 1409.4 454 1414.3 462.2 1419.3 472 1418.3 472.1 1416.3 474.3 1406.3 474.8 1404.3 476.7 1400.3 478.8 1396.3 479.6 1382.3 478.9 1378.3 477.6 1372.3 479 1370.3 480.8 1364.3 480.8ZM1216.2 375.5 1216 373.9 1214 371.9 1213.5 367.9 1211.7 365.9 1211.2 357.9 1209.7 355.9 1209.2 353.9 1207.2 351.9 1206.7 349.9 1205.1 347.9 1205 335.9 1203 331.9 1202.5 317.9 1202.9 305.9 1201.2 303.9 1201 301.9 1201 295.9 1202.6 293.9 1205.2 285.9 1206.1 269.9 1207.6 267.9 1208.2 265.3 1210 263.9 1210.2 262 1220.5 267.9 1230.2 274.5 1238.2 281.4 1243.5 287.9 1246.7 293.9 1248.5 299.9 1249.8 307.9 1250.7 321.9 1250.8 329.9 1249.8 337.9 1247.8 343.9 1244.5 349.9 1239.8 355.9 1233.9 361.9 1224.3 369.9 1216.2 375.5ZM1330.3 358.3 1328.3 357.3 1326.3 355.3 1325.1 351.9 1325.1 349.9 1327 343.9 1331.4 337.9 1337.8 331.9 1345.9 325.9 1365 313.9 1370.3 311.2 1371.1 311.9 1370.3 314.3 1362.3 328.4 1354.3 341.4 1348.3 349.2 1342.3 354.8 1338.3 357.2 1334.3 358.5 1330.3 358.3ZM1410.3 356.1 1406.3 353.9 1402.3 350.8 1394.3 341.8 1388.3 333.3 1376.3 313.8 1375.6 311.9 1376.3 311.1 1378.7 311.9 1392.8 319.9 1405.8 327.9 1413.6 333.9 1419.2 339.9 1421.6 343.9 1422.9 347.9 1422.7 351.9 1421.7 353.9 1419.7 355.9 1416.3 357.1 1410.3 356.1ZM1536.4 356.1 1525.6 349.9 1518.4 345.1 1511.9 339.9 1505.9 333.9 1501.7 327.9 1499.1 321.9 1497.6 315.9 1496.7 307.9 1495.8 293.9 1496 285.9 1497.5 277.9 1499.9 271.9 1503.7 265.9 1510.4 258.4 1517.6 251.9 1528.4 243.6 1530.5 245.9 1530.8 247.9 1532.9 249.9 1533.2 251.9 1536.8 255.9 1537.3 257.9 1539.2 259.9 1539.7 273.9 1541.5 275.9 1542.4 281.9 1542.3 285.9 1543.6 291.9 1543.9 299.9 1545.7 303.9 1545.6 311.9 1543.6 315.9 1543 319.9 1543.5 323.9 1543.4 331.9 1541.4 337.9 1540.6 343.9 1539.1 345.9 1538.5 355.9 1536.4 356.1ZM1372.3 310.7 1371.6 309.9 1371.5 307.9 1372.3 307.1 1374.3 307.1 1375.1 307.9 1375.1 309.9 1374.3 310.6 1372.3 310.7ZM1368.3 306.1 1343.2 291.9 1334.6 285.9 1329.9 281.9 1324.8 275.9 1322.2 269.9 1322 265.9 1322.5 263.9 1324.3 261.2 1328.3 259.1 1330.3 258.9 1334.3 259.6 1340.3 262.7 1346.3 268 1356.3 281 1370.3 303.9 1371.1 305.9 1370.3 306.7 1368.3 306.1ZM1376.3 306.7 1375.5 305.9 1376.3 303.4 1386.3 285.5 1394.3 272.8 1400.3 265.5 1406.3 260.4 1412.3 257.8 1416.3 257.6 1418.3 258.1 1421 259.9 1423.1 263.9 1423.1 267.9 1420.8 273.9 1416.2 279.9 1409.6 285.9 1401.2 291.9 1381.7 303.9 1376.3 306.7ZM1352.3 175.8 1346.3 173.4 1340.3 167.9 1334.3 159.1 1328.3 147.8 1330.3 147.6 1332.3 146.7 1338.3 141.7 1342.3 140.8 1346.3 139.2 1350.3 139 1354.3 137.6 1356.3 137.3 1362.3 138.7 1372.3 139.1 1374.3 140.6 1376.3 141 1378.3 140.9 1380.3 139.4 1382.3 139.1 1384.3 137.4 1386.3 137.1 1392.3 137.3 1394.2 137.8 1396.3 139.6 1398.5 139.8 1398.9 141.8 1392.3 158.7 1388.3 165.8 1382.7 171.8 1378.3 174.1 1372.3 175.5 1358.3 176.3 1352.3 175.8ZM1362.3 481.2 1360.3 479.6 1348.3 479.4 1344.3 477.3 1340.3 477 1338.3 475.5 1334.3 474.2 1331.7 472 1342 436 1344.8 430 1346.3 429 1348.3 428.9 1360.3 430.3 1388.3 430.1 1390.3 429.2 1398.3 428.3 1410.3 425.3 1414.3 425.3 1415.3 426 1416.9 428 1420.3 435 1434.1 468 1430.3 470.6 1424.3 471.2 1416.3 475.5 1406.3 476 1402.3 479.2 1398.6 480 1396.3 481.3 1392.3 481.1 1388.3 479.7 1378.3 479.2 1372.5 480 1370.3 481.6 1362.3 481.2ZM1220.2 382 1214.8 375.9 1212.7 371.9 1212.7 369.9 1210.7 365.9 1210.3 357.9 1208.7 355.9 1208.5 353.9 1205.1 349.9 1204.5 347.9 1204.4 335.9 1202.9 333.9 1202.5 331.9 1202.4 321.9 1201.1 317.9 1202.2 315.9 1202.4 307.9 1202.4 305.9 1200.5 303.9 1200.5 295.9 1201.1 293.9 1202.2 292.8 1202.6 289.9 1204.5 285.9 1204.8 269.9 1207.4 263.9 1208.8 261.9 1209.9 255.9 1212.2 252.8 1259.7 271.9 1263.4 273.9 1265.1 275.9 1265.3 277.9 1262.2 298 1261.8 313.9 1263.7 329.9 1269.8 353.9 1268.8 355.9 1262.8 359.9 1222.2 381.7 1220.2 382ZM1314.3 382.3 1310.3 379.9 1304.3 374 1300.9 367.9 1300.4 363.9 1301.3 357.9 1303 353.9 1305.5 349.9 1311.1 343.9 1321.8 335.9 1343.3 323.9 1370.3 310.8 1371.2 309.9 1371.1 307.9 1370.3 307.1 1348.5 297.9 1323.1 285.9 1309 277.9 1301 271.9 1295.8 265.9 1293.6 261.9 1293.2 259.9 1294.1 255.9 1296.3 251.9 1302.3 244.3 1306.5 239.9 1313.9 233.9 1320.3 230.7 1322.3 230.5 1324.3 231.2 1328.3 233.4 1332.3 236.5 1338.3 243.2 1346.3 255.6 1356.3 274.2 1371.4 305.9 1372.3 306.8 1374.3 306.7 1375.1 305.9 1384.3 284.1 1396.3 258.7 1404.3 244.6 1410.3 236.6 1416.3 231.4 1420.3 229.2 1422.3 228.8 1426.3 229.7 1430.3 231.9 1437.9 237.9 1442.3 242.1 1448.3 249.5 1451.5 255.9 1451.7 257.9 1451 259.9 1448.8 263.9 1445.7 267.9 1439 273.9 1430 279.9 1408 291.9 1376.3 307 1375.4 307.9 1375.5 309.9 1376.3 310.7 1397.5 319.9 1418.1 329.9 1431.7 337.9 1439.2 343.9 1442.8 347.9 1445.4 351.9 1447.7 357.9 1448.1 361.9 1447.5 365.9 1444.3 371.9 1438.3 378 1434.3 380.4 1430.3 381.7 1426.3 381.7 1422.3 380.9 1418.3 379.2 1412.3 375.1 1406.3 368.8 1400.3 360.4 1388.3 338.9 1375.2 311.9 1374.3 311 1372.3 311.1 1371.5 311.9 1362.3 333.1 1352.3 353.7 1346.3 364.2 1340.3 372.5 1334.3 378.4 1330.3 381 1326.3 382.7 1320.3 383.7 1316.3 383.1 1314.3 382.3ZM1532.4 364.4 1486.6 345.9 1483 343.9 1481.4 341.9 1481.3 339.9 1483.2 329.9 1484.5 317.9 1484.8 303.9 1482.9 287.9 1476.7 263.9 1477.3 261.9 1482.6 257.9 1526.4 233.7 1529.1 237.9 1529.8 243.9 1531.8 245.9 1532.2 247.9 1533.9 249.9 1536 253.9 1537.9 255.9 1538.3 257.9 1540.1 259.9 1540.3 273.9 1542.1 275.9 1542.4 278.8 1543.4 279.9 1544.2 297.9 1544.4 299.3 1546 301.9 1546.2 303.9 1546.2 311.9 1545.7 313.9 1544.2 315.9 1544 333.9 1543.6 335.9 1542.4 337.9 1541.9 343.9 1540.2 345.9 1539.8 355.9 1537.7 359.9 1532.4 364.4ZM1332.3 192.3 1327.8 183.8 1312.7 147.8 1314.3 147.4 1316.3 145.6 1318.3 144.7 1324.3 144.5 1328.3 145.9 1330.3 145.9 1332.3 144.5 1334.3 144.3 1338.3 140.4 1341.8 139.8 1344.3 138.4 1350.3 138.2 1352.3 136.8 1354.3 136.3 1360.3 136.6 1364.3 137.8 1372.3 138.2 1376.3 140.2 1378.3 140 1380.3 138.3 1382.3 138.2 1384.3 136.3 1388.3 136.2 1394.3 136.4 1396.3 138.3 1400.3 139.2 1406.3 142.7 1411.6 143.8 1413.8 145.8 1404.3 179.6 1402.3 185.7 1400.3 189 1396.3 190 1382.3 188.3 1366.3 188.2 1350.3 190.2 1336.3 193.6 1334.3 193.4 1332.3 192.3ZM1307.8 466 1312.3 467.7 1314.3 466.7 1330.3 422.1 1330.9 418 1330.4 416 1327.6 414 1318.3 409.3 1310.3 404.5 1298.3 395.4 1285.1 381.9 1272.2 364.5 1270.2 363.7 1268.7 363.9 1264.3 365.9 1224.2 392.2 1224.1 393.9 1229.2 400 1230.8 404 1232.7 406 1233.1 408 1236.7 412 1237.2 414 1248.2 425.3 1249 428 1252.2 432.7 1256.2 435.6 1258 436 1262.2 439.3 1264.2 439.9 1278.2 453.6 1282.2 454 1284.3 455.5 1286.3 455.7 1292.3 461.2 1296.3 461.6 1298.3 463.2 1302.3 463.7 1304.3 465.3 1306.3 465.1 1307.8 466ZM1447.9 458 1448.3 458.9 1454.3 456.7 1460.3 457.3 1464.4 455.5 1466.4 453.5 1470.4 451.4 1478.4 443.9 1480.4 443.2 1482.4 441.6 1489.8 434 1490.4 431.7 1493 430 1496.4 429.1 1500.4 425.7 1505.8 420 1506 418 1508 416 1508.3 414 1510 412 1510 410 1519.8 400 1520.3 395.9 1521.9 393.9 1522.4 392.1 1527.7 385.9 1527.6 383.9 1528.9 381.9 1528.9 377.9 1530.5 375.9 1530 373.9 1488.4 353.9 1482.4 352.1 1480.4 352.7 1478.4 355.2 1473.8 363.9 1467.5 373.9 1458 385.9 1446.3 397.1 1438.3 403.1 1428.3 409.6 1426.9 412 1428.3 417.9 1447.9 458ZM1363.3 412 1364.3 413.1 1372.3 413.7 1392.3 412.3 1396.3 410.9 1397.1 410 1396.1 406 1396.3 403.3 1405.3 400 1408.9 397.9 1409 395.9 1408.4 393.9 1400.5 373.9 1374.3 311.4 1371.9 311.9 1353.8 359.9 1340.4 397.9 1341.9 400 1348.3 402.3 1362.3 405 1363.4 408 1363.3 412ZM1283.9 343.9 1284.3 344.5 1286.3 344.6 1288.3 344 1332.3 326.4 1370.3 310.4 1370.8 309.9 1370.7 307.9 1322.3 289.5 1284.3 276.2 1282.2 277.6 1279.9 283.9 1277.7 293.9 1276.6 307.9 1278 325.9 1279.9 333.9 1282.2 340.9 1283.9 343.9ZM1456.5 339.9 1462.3 341.8 1464.4 340.3 1466.7 333.9 1468.6 325.9 1469.3 319.9 1470 307.9 1469 293.9 1466.7 283.9 1464.4 276.9 1462.3 273.4 1458.8 273.9 1438.3 281.8 1375.8 307.9 1376.3 310.3 1456.5 339.9ZM1371.8 305.9 1372.3 306.4 1374.7 305.9 1392.7 257.9 1406 219.9 1404.6 217.8 1398.3 215.5 1390.3 213.6 1384.3 212.8 1383.2 211.8 1382.6 209.8 1383 205.8 1382.3 204.3 1378.3 203.4 1368.3 203.4 1352.3 205.4 1351.3 205.8 1349.9 207.8 1351.1 211.8 1350.3 214.9 1342.3 217.4 1337.8 219.9 1338.3 223.4 1346.2 243.9 1371.8 305.9ZM1258.1 263.9 1264.2 265.8 1266.2 265.1 1268.2 262.6 1277.7 245.9 1283.5 237.9 1288.6 231.9 1300.3 220.7 1308.3 214.7 1318.3 208.2 1319.7 205.8 1318.3 199.9 1297.7 157.8 1295.1 157.8 1290.3 160.4 1288.3 160.8 1286.3 162.4 1282.2 162.6 1280.2 164 1276.2 165.1 1269 171.8 1266.7 175.8 1264.8 177.8 1264.2 179.9 1261.4 181.8 1256.2 182.7 1255.1 183.8 1252.2 184.5 1249.2 187.8 1248.6 189.8 1243.2 195.8 1242.6 197.8 1240.6 199.8 1238.6 203.8 1234.7 207.8 1230.6 215.8 1228.2 218.3 1224.2 220.6 1222.9 221.9 1220.7 225.9 1220.8 231.9 1219.4 235.9 1219.4 239.9 1217.9 241.9 1218.2 244.8 1258.1 263.9ZM1473.5 251.9 1474.4 252.5 1476.4 252.7 1482.7 249.9 1520.4 225.8 1520.5 221.9 1519 219.9 1519 217.8 1510.1 207.8 1506.4 202.7 1504.4 199.5 1503.4 193.8 1502 191.8 1498.4 188.4 1496.4 188.2 1494.4 186.7 1492.4 186.2 1486.4 180.4 1482.4 178.1 1464.4 160.5 1456.3 160 1452.3 158.4 1450.3 158.3 1446.3 155 1444.3 154.3 1438.3 148.9 1434.3 147.2 1430.5 147.8 1414.3 195.1 1413.9 199.8 1414.3 200.9 1416.3 202.6 1428.3 208.5 1436.3 213.3 1448.3 222.4 1461.5 235.9 1473.5 251.9ZM1304.2 464 1304.6 464 1306.8 458 1308.9 450 1309.6 442 1309.2 436 1307.7 430 1304.8 424 1300.3 418.3 1295.6 414 1276.2 397.9 1270.2 394.8 1264.2 393 1256.2 392.7 1248.7 393.9 1240.2 397 1232.2 401.3 1231.8 404 1233.6 406 1235.6 410 1237.5 412 1239.4 416 1248.2 424.1 1252.2 431.4 1256.2 435 1258.2 435.3 1260.2 437 1264.2 439.2 1269.7 444 1278.2 452.9 1282.2 453.1 1284.3 454.7 1286.3 454.9 1290.3 458.8 1292.4 460 1294.3 460.7 1296.3 460.7 1300.3 462.6 1302.3 462.6 1304.2 464ZM1460 456 1462.3 454.7 1464.4 454.6 1468.4 451 1470.4 450.4 1478.4 443 1482.4 440.9 1485.5 438 1488.8 434 1489.4 432 1490.4 431 1492.4 429.4 1494.4 429 1498.4 427 1503.4 422 1505.4 418 1507.4 416 1507.5 414 1509.3 412 1509.3 410 1518.9 400 1519.3 395.9 1521 393.9 1521.3 391.9 1526.4 385.5 1518 381.9 1510.4 379.7 1502.4 378.6 1496.4 378.9 1491.2 379.9 1486.3 381.9 1480.4 385.9 1474.4 391.7 1457.9 410 1454.3 416 1452.2 422 1451.5 430 1452.6 438 1455.8 448 1460 456ZM1384.3 404 1388.3 404.4 1391.9 404 1388.3 403.6 1384.3 404ZM1372.2 385.9 1376.3 386 1380.3 385 1384.3 382.8 1386.3 381 1389.5 375.9 1390.6 371.9 1391 367.9 1390.3 359.9 1388.3 351.4 1374.3 311.8 1372.3 312 1362.3 342.8 1358.5 357.9 1357.7 365.9 1358.6 373.9 1361.6 379.9 1366.3 384 1372.2 385.9ZM1308.9 325.9 1314.3 326.6 1318.3 326.4 1330.8 323.9 1370.3 310 1370.3 308.2 1339.3 297.9 1326.3 294.5 1316.3 293.3 1308.3 294.2 1304.1 295.9 1299.5 299.9 1297.2 303.9 1296.1 309.9 1297.2 315.9 1299.4 319.9 1303.9 323.9 1308.9 325.9ZM1423.6 323.9 1432.3 324.5 1436.3 324.1 1440.3 322.9 1445.3 319.9 1447.1 317.9 1449.4 313.9 1450.4 309.9 1450.4 305.9 1448.5 299.9 1444.3 295 1438.3 292.1 1434.3 291.3 1428.3 291.4 1416.3 293.8 1403.5 297.9 1376.2 307.9 1376.4 309.9 1407.2 319.9 1423.6 323.9ZM1372.2 305.9 1374.3 305.8 1384.3 274.9 1388.1 259.9 1388.9 251.9 1388 243.9 1386.4 239.9 1384.3 236.9 1382.3 235.1 1378.3 232.8 1372.3 231.7 1366.3 232.8 1362.3 235 1360.3 236.8 1357.1 241.9 1356 245.9 1355.6 249.9 1356.3 257.9 1358.3 266.4 1372.2 305.9ZM1235.1 237.9 1242.2 239 1248.2 239.1 1254.2 238.2 1260.3 235.9 1266.2 231.9 1270.2 228.2 1288.7 207.8 1292.3 202 1293.8 197.8 1294.7 193.8 1295.1 187.8 1294.5 181.8 1293 175.8 1287.8 163.8 1284.3 163.3 1280.2 165 1278.2 165.1 1274.2 167.7 1272 169.8 1265.7 177.8 1265.2 179.8 1262.2 182.4 1258.2 182.9 1252.2 185.8 1241.2 199.8 1240.9 201.8 1235.7 207.8 1235 209.8 1233.3 211.8 1233.1 213.8 1228.2 219.1 1226.2 220.9 1224.1 221.9 1221.6 225.9 1222.2 233.2 1235.1 237.9ZM1476.1 221.9 1480.4 223 1486.4 223.5 1496.4 222 1504.4 219 1512.4 214.8 1513.8 213.8 1512.8 211.8 1507.4 205.8 1503.5 199.8 1503.2 195.8 1500.4 190.9 1498.4 189.3 1494.4 188.1 1492.4 186.9 1486.4 181.4 1482.4 178.8 1472.4 169 1470.4 168.2 1464.4 161.7 1462.3 160.9 1454.3 160.6 1452.3 159.4 1450.3 159.1 1439.9 151.8 1436.1 163.8 1435 171.8 1435.5 181.8 1438.3 189.8 1442.3 195.8 1448.4 201.8 1466.4 216.5 1471.6 219.9 1476.1 221.9ZM1355.8 213.8 1358.3 213.8 1355.8 213.8ZM1288.2 456 1290.3 457.5 1291.6 454 1292 450 1290.8 444 1289.2 440 1285.6 434 1280.6 428 1276.2 423.8 1266.2 416.7 1256.2 412.7 1250.2 411.8 1246.2 412.2 1242.2 413.6 1240.2 415 1240.2 416 1244.2 420.1 1246.2 420.3 1249.6 424 1249.9 426 1251.6 428 1251.9 430 1256.2 434.4 1258.2 434.5 1260.2 436.4 1262.2 436.9 1268.2 442.2 1270.2 443.3 1272 446 1278.2 452.1 1282.2 452.2 1286.3 454.1 1288.2 456ZM1472.2 446 1474.4 446 1480.4 440.4 1482.4 440.2 1486.7 436 1487.3 434 1488.8 432 1492.4 428.5 1494.4 428.4 1496.4 426.7 1498.4 426.4 1502.8 422 1503.3 420 1506.7 416 1506.8 414 1508.6 412 1508.7 410 1516.4 402 1516.4 398.2 1512.4 397 1508.4 396.9 1500.4 399 1496.4 400.9 1490.4 405 1482.8 412 1475.4 422 1471.8 430 1470.3 438 1470.6 442 1472.2 446ZM1370.2 365.9 1374.3 367.2 1378.3 365.9 1380.3 364 1381.5 361.9 1383.2 355.9 1383.2 349.9 1382 341.9 1374.3 312.9 1372.3 313.5 1372.2 313.9 1366.3 339.1 1365 347.9 1364.9 353.9 1365.9 359.9 1368 363.9 1370.2 365.9ZM1322 317.9 1328.3 318.9 1338.3 318 1369.3 309.9 1368.7 307.9 1344.3 302.2 1334.3 300.6 1326.3 300.7 1321.2 301.9 1318.3 303.6 1316.2 305.9 1315.3 307.9 1315.3 311.9 1316.3 313.9 1318.3 315.9 1322 317.9ZM1403.5 315.9 1416.3 317.4 1420.3 317.1 1425.4 315.9 1428.7 313.9 1430.4 311.9 1431.3 309.9 1431.3 305.9 1430.3 303.9 1428.4 301.9 1426.3 300.7 1422.3 299.3 1416.3 298.9 1404.3 300.6 1377.3 307.9 1377.9 309.9 1403.5 315.9ZM1372 303.9 1372.3 304.9 1374.3 304.3 1374.4 303.9 1380.5 277.9 1381.8 265.9 1381.2 259.9 1379.8 255.9 1378.3 253.5 1376.3 251.8 1372.3 250.6 1368.3 251.9 1366.3 253.9 1364.2 257.9 1363.3 263.9 1364.6 275.9 1372 303.9ZM1230.7 219.9 1234.2 220.9 1238.2 221 1246.2 218.8 1250.2 216.9 1256.2 212.8 1263.8 205.8 1271.2 195.8 1274.8 187.8 1276.2 181.8 1276.3 177.8 1275.4 173.8 1274.2 171.6 1272.2 171.7 1270.2 173.6 1268.1 175.8 1267.6 177.8 1266 179.8 1262.2 183.4 1258.2 183.5 1256.2 185.2 1254.2 185.4 1250.2 189.1 1247.9 191.8 1245.6 195.8 1241.9 199.8 1241.7 201.8 1238 205.8 1235.9 209.8 1234 211.8 1234 213.8 1230.2 217.8 1230.2 219.7 1230.7 219.9ZM1491.5 203.8 1498.4 203.8 1503.5 201.8 1502.4 199.8 1502.5 195.8 1500.7 193.8 1500.6 191.8 1498.4 191.1 1497.3 189.8 1494.4 189.3 1484.4 181.2 1474.4 171.4 1472.4 169.8 1470.4 169.2 1462.8 161.8 1452.9 161.8 1452.5 167.8 1454.1 173.8 1457.2 179.8 1463.5 187.8 1470.4 194 1478.4 199.2 1486.4 202.7 1491.5 203.8ZM1372.9 347.9 1374.3 348.5 1376.3 346.3 1377 341.9 1376.8 335.9 1374.3 316.6 1372.3 319.3 1370.7 337.9 1371 343.9 1372.3 347.6 1372.9 347.9ZM1335.9 311.9 1340.3 312.6 1344.3 312.5 1365.6 309.9 1362.9 307.9 1344.3 306.3 1340.3 306.3 1334.6 307.9 1333.7 309.9 1335.9 311.9ZM1383.7 309.9 1402.3 311.5 1406.3 311.5 1412 309.9 1412.9 307.9 1410.3 305.8 1402.3 305.3 1381 307.9 1383.7 309.9ZM1372.2 299.9 1372.3 301.2 1374.3 298.5 1376 277.9 1375.6 273.9 1374.3 270.2 1372.3 269.3 1370.3 271.5 1369.6 277.9 1372.2 299.9Z"/>
<path d="M1209.4 247.9L1282.7 275.2" stroke="#000" stroke-width="3.8"/>
<g fill="none" stroke="#eef4e8" stroke-opacity="0.5" stroke-width="1.1" stroke-dasharray="3.5 4.5"><circle cx="1373.3" cy="308.9" r="50"/><circle cx="1373.3" cy="308.9" r="100"/><circle cx="1373.3" cy="308.9" r="150"/><line x1="1373.3" y1="308.9" x2="1535.1" y2="241.9"/><line x1="1373.3" y1="308.9" x2="1440.3" y2="147.1"/><line x1="1373.3" y1="308.9" x2="1306.3" y2="147.1"/><line x1="1373.3" y1="308.9" x2="1211.5" y2="241.9"/><line x1="1373.3" y1="308.9" x2="1211.5" y2="375.9"/><line x1="1373.3" y1="308.9" x2="1306.3" y2="470.7"/><line x1="1373.3" y1="308.9" x2="1440.3" y2="470.7"/><line x1="1373.3" y1="308.9" x2="1535.1" y2="375.9"/></g>
<g fill="none" stroke="#999" stroke-opacity="0.85" stroke-width="1.5"><circle cx="1373.3" cy="308.9" r="25"/><circle cx="1373.3" cy="308.9" r="75"/><circle cx="1373.3" cy="308.9" r="125"/><line x1="1198.2" y1="308.9" x2="1548.4" y2="308.9"/><line x1="1249.5" y1="432.7" x2="1497.1" y2="185.1"/><line x1="1373.3" y1="484" x2="1373.3" y2="133.8"/><line x1="1497.1" y1="432.7" x2="1249.5" y2="185.1"/></g>
</g>
<circle cx="1373.3" cy="308.9" r="175.1" fill="none" stroke="#000" stroke-width="1.6"/>
<circle cx="1373.3" cy="308.9" r="15.5" fill="none" stroke="#000" stroke-width="3"/>
<circle cx="1373.3" cy="308.9" r="14" fill="#fff"/>
<path stroke="#8c8c8c" stroke-width="1.5" d="M1359.3 308.9L1387.3 308.9M1363.4 318.8L1383.2 299M1373.3 322.9L1373.3 294.9M1383.2 318.8L1363.4 299"/>
<path stroke="#c8c8c8" stroke-width="1" stroke-dasharray="3 3" d="M1361.3 313.9L1385.3 303.9M1368.3 320.9L1378.3 296.9M1378.3 320.9L1368.3 296.9M1385.3 313.9L1361.3 303.9"/>
<text x="1010" y="92.7" font-size="46.5" textLength="103.64" lengthAdjust="spacingAndGlyphs">T (K)</text>
<text x="1031.3" y="147.8" font-size="39.5">5</text>
<text x="1030.8" y="197.7" font-size="39.5">4</text>
<text x="1031.4" y="247.2" font-size="39.5">3</text>
<text x="1031.6" y="297.7" font-size="39.5">2</text>
<path fill="none" stroke="#000" stroke-width="1.6" d="M1082.1 133.2V309.3M1064.5 134H1082.1M1064.5 183.9H1082.1M1064.5 233.4H1082.1M1064.5 283.9H1082.1M1073 159H1082.1M1073 208.8H1082.1M1073 259H1082.1M1073 308.5H1082.1"/>
<text x="1329.7" y="106.6" font-size="38.5" textLength="85.05" lengthAdjust="spacingAndGlyphs">[110]</text>
<text x="1148.6" y="163.5" font-size="38.5" textLength="84.95" lengthAdjust="spacingAndGlyphs">[100]</text>
<text x="1510.7" y="163.2" font-size="38.5" textLength="84.52" lengthAdjust="spacingAndGlyphs">[010]</text>
<text x="1092.1" y="322.6" font-size="38.5" textLength="86.23" lengthAdjust="spacingAndGlyphs">[1<tspan text-decoration="overline">1</tspan>0]</text>
<text x="1567.5" y="322.6" font-size="38.5" textLength="85.37" lengthAdjust="spacingAndGlyphs">[<tspan text-decoration="overline">1</tspan>10]</text>
<text x="1149" y="481.7" font-size="38.5" textLength="85.80" lengthAdjust="spacingAndGlyphs">[0<tspan text-decoration="overline">1</tspan>0]</text>
<text x="1510.4" y="481.7" font-size="38.5" textLength="86.01" lengthAdjust="spacingAndGlyphs">[<tspan text-decoration="overline">1</tspan>00]</text>
<text x="1330.7" y="537.9" font-size="38.5" textLength="84.52" lengthAdjust="spacingAndGlyphs">[<tspan text-decoration="overline">11</tspan>0]</text>
<g fill="none" stroke="#000" stroke-width="1.6"><ellipse cx="1268.4" cy="316.4" rx="2" ry="15.8"/><ellipse cx="1477.5" cy="302" rx="2.1" ry="15.8"/></g>
<text x="267.7" y="618.2" font-size="37.7" textLength="185.87" lengthAdjust="spacingAndGlyphs">experiment</text>
<text x="1309.3" y="618.4" font-size="37.8" textLength="170.21" lengthAdjust="spacingAndGlyphs">simulation</text>
<rect x="679.5" y="139" width="16" height="8" fill="#c0c0c0"/>
<rect x="679.5" y="147" width="16" height="8.3" fill="#000bff"/>
<rect x="679.5" y="154.7" width="16" height="8.3" fill="#0020ff"/>
<rect x="679.5" y="162.4" width="16" height="8.3" fill="#0035ff"/>
<rect x="679.5" y="170.1" width="16" height="8.3" fill="#004aff"/>
<rect x="679.5" y="177.8" width="16" height="8.3" fill="#0060ff"/>
<rect x="679.5" y="185.4" width="16" height="8.3" fill="#0075ff"/>
<rect x="679.5" y="193.1" width="16" height="8.3" fill="#008aff"/>
<rect x="679.5" y="200.8" width="16" height="8.3" fill="#009fff"/>
<rect x="679.5" y="208.5" width="16" height="8.3" fill="#00b5ff"/>
<rect x="679.5" y="216.2" width="16" height="8.3" fill="#00caff"/>
<rect x="679.5" y="223.9" width="16" height="8.3" fill="#00dfff"/>
<rect x="679.5" y="231.6" width="16" height="8.3" fill="#00f4ff"/>
<rect x="679.5" y="239.2" width="16" height="8.3" fill="#00fff4"/>
<rect x="679.5" y="246.9" width="16" height="8.3" fill="#00ffdf"/>
<rect x="679.5" y="254.6" width="16" height="8.3" fill="#00ffca"/>
<rect x="679.5" y="262.3" width="16" height="8.3" fill="#00ffb5"/>
<rect x="679.5" y="270" width="16" height="8.3" fill="#00ff9f"/>
<rect x="679.5" y="277.7" width="16" height="8.3" fill="#00ff8a"/>
<rect x="679.5" y="285.4" width="16" height="8.3" fill="#00ff75"/>
<rect x="679.5" y="293.1" width="16" height="8.3" fill="#00ff60"/>
<rect x="679.5" y="300.8" width="16" height="8.3" fill="#00ff4a"/>
<rect x="679.5" y="308.4" width="16" height="8.3" fill="#00ff35"/>
<rect x="679.5" y="316.1" width="16" height="8.3" fill="#00ff20"/>
<rect x="679.5" y="323.8" width="16" height="8.3" fill="#00ff0b"/>
<rect x="679.5" y="331.5" width="16" height="8.3" fill="#0bff00"/>
<rect x="679.5" y="339.2" width="16" height="8.3" fill="#20ff00"/>
<rect x="679.5" y="346.9" width="16" height="8.3" fill="#35ff00"/>
<rect x="679.5" y="354.6" width="16" height="8.3" fill="#4aff00"/>
<rect x="679.5" y="362.2" width="16" height="8.3" fill="#60ff00"/>
<rect x="679.5" y="369.9" width="16" height="8.3" fill="#75ff00"/>
<rect x="679.5" y="377.6" width="16" height="8.3" fill="#8aff00"/>
<rect x="679.5" y="385.3" width="16" height="8.3" fill="#9fff00"/>
<rect x="679.5" y="393" width="16" height="8.3" fill="#b5ff00"/>
<rect x="679.5" y="400.7" width="16" height="8.3" fill="#caff00"/>
<rect x="679.5" y="408.4" width="16" height="8.3" fill="#dfff00"/>
<rect x="679.5" y="416.1" width="16" height="8.3" fill="#f4ff00"/>
<rect x="679.5" y="423.8" width="16" height="8.3" fill="#fff400"/>
<rect x="679.5" y="431.4" width="16" height="8.3" fill="#ffdf00"/>
<rect x="679.5" y="439.1" width="16" height="8.3" fill="#ffca00"/>
<rect x="679.5" y="446.8" width="16" height="8.3" fill="#ffb500"/>
<rect x="679.5" y="454.5" width="16" height="8.3" fill="#ff9f00"/>
<rect x="679.5" y="462.2" width="16" height="8.3" fill="#ff8a00"/>
<rect x="679.5" y="469.9" width="16" height="8.3" fill="#ff7500"/>
<rect x="679.5" y="477.6" width="16" height="8.3" fill="#ff6000"/>
<rect x="679.5" y="485.2" width="16" height="8.3" fill="#ff4a00"/>
<rect x="679.5" y="492.9" width="16" height="8.3" fill="#ff3500"/>
<rect x="679.5" y="500.6" width="16" height="8.3" fill="#ff2000"/>
<rect x="679.5" y="508.3" width="16" height="8.3" fill="#ff0b00"/>
<rect x="679.5" y="516" width="16" height="8.5" fill="#000"/>
<rect x="679.5" y="139" width="16" height="385.5" fill="none" stroke="#000" stroke-width="2.2"/>
<text x="723.2" y="180.4" font-size="24.6">1.06</text>
<text x="723.2" y="237.9" font-size="24.6">1.04</text>
<text x="723.2" y="295.4" font-size="24.6">1.02</text>
<text x="723.2" y="352.9" font-size="24.6">1.00</text>
<text x="724.1" y="410.4" font-size="24.6">0.98</text>
<text x="724.1" y="467.9" font-size="24.6">0.96</text>
<text x="724.1" y="525.5" font-size="24.6">0.94</text>
<path stroke="#000" stroke-width="2" d="M695.5 170.8H714M695.5 228.3H714M695.5 285.8H714M695.5 343.3H714M695.5 400.8H714M695.5 458.3H714M695.5 515.9H714"/>
<rect x="819" y="134" width="16" height="8.4" fill="#c0c0c0"/>
<rect x="819" y="142.4" width="16" height="8.4" fill="#000bff"/>
<rect x="819" y="150.2" width="16" height="8.4" fill="#0020ff"/>
<rect x="819" y="158" width="16" height="8.4" fill="#0035ff"/>
<rect x="819" y="165.9" width="16" height="8.4" fill="#004aff"/>
<rect x="819" y="173.7" width="16" height="8.4" fill="#0060ff"/>
<rect x="819" y="181.5" width="16" height="8.4" fill="#0075ff"/>
<rect x="819" y="189.3" width="16" height="8.4" fill="#008aff"/>
<rect x="819" y="197.1" width="16" height="8.4" fill="#009fff"/>
<rect x="819" y="205" width="16" height="8.4" fill="#00b5ff"/>
<rect x="819" y="212.8" width="16" height="8.4" fill="#00caff"/>
<rect x="819" y="220.6" width="16" height="8.4" fill="#00dfff"/>
<rect x="819" y="228.4" width="16" height="8.4" fill="#00f4ff"/>
<rect x="819" y="236.2" width="16" height="8.4" fill="#00fff4"/>
<rect x="819" y="244" width="16" height="8.4" fill="#00ffdf"/>
<rect x="819" y="251.9" width="16" height="8.4" fill="#00ffca"/>
<rect x="819" y="259.7" width="16" height="8.4" fill="#00ffb5"/>
<rect x="819" y="267.5" width="16" height="8.4" fill="#00ff9f"/>
<rect x="819" y="275.3" width="16" height="8.4" fill="#00ff8a"/>
<rect x="819" y="283.1" width="16" height="8.4" fill="#00ff75"/>
<rect x="819" y="291" width="16" height="8.4" fill="#00ff60"/>
<rect x="819" y="298.8" width="16" height="8.4" fill="#00ff4a"/>
<rect x="819" y="306.6" width="16" height="8.4" fill="#00ff35"/>
<rect x="819" y="314.4" width="16" height="8.4" fill="#00ff20"/>
<rect x="819" y="322.2" width="16" height="8.4" fill="#00ff0b"/>
<rect x="819" y="330.1" width="16" height="8.4" fill="#0bff00"/>
<rect x="819" y="337.9" width="16" height="8.4" fill="#20ff00"/>
<rect x="819" y="345.7" width="16" height="8.4" fill="#35ff00"/>
<rect x="819" y="353.5" width="16" height="8.4" fill="#4aff00"/>
<rect x="819" y="361.3" width="16" height="8.4" fill="#60ff00"/>
<rect x="819" y="369.1" width="16" height="8.4" fill="#75ff00"/>
<rect x="819" y="377" width="16" height="8.4" fill="#8aff00"/>
<rect x="819" y="384.8" width="16" height="8.4" fill="#9fff00"/>
<rect x="819" y="392.6" width="16" height="8.4" fill="#b5ff00"/>
<rect x="819" y="400.4" width="16" height="8.4" fill="#caff00"/>
<rect x="819" y="408.2" width="16" height="8.4" fill="#dfff00"/>
<rect x="819" y="416.1" width="16" height="8.4" fill="#f4ff00"/>
<rect x="819" y="423.9" width="16" height="8.4" fill="#fff400"/>
<rect x="819" y="431.7" width="16" height="8.4" fill="#ffdf00"/>
<rect x="819" y="439.5" width="16" height="8.4" fill="#ffca00"/>
<rect x="819" y="447.3" width="16" height="8.4" fill="#ffb500"/>
<rect x="819" y="455.2" width="16" height="8.4" fill="#ff9f00"/>
<rect x="819" y="463" width="16" height="8.4" fill="#ff8a00"/>
<rect x="819" y="470.8" width="16" height="8.4" fill="#ff7500"/>
<rect x="819" y="478.6" width="16" height="8.4" fill="#ff6000"/>
<rect x="819" y="486.4" width="16" height="8.4" fill="#ff4a00"/>
<rect x="819" y="494.2" width="16" height="8.4" fill="#ff3500"/>
<rect x="819" y="502.1" width="16" height="8.4" fill="#ff2000"/>
<rect x="819" y="509.9" width="16" height="8.4" fill="#ff0b00"/>
<rect x="819" y="517.7" width="16" height="8.3" fill="#000"/>
<rect x="819" y="134" width="16" height="392" fill="none" stroke="#000" stroke-width="2.2"/>
<text x="862.4" y="162.3" font-size="24.6">1.015</text>
<text x="862.4" y="224.7" font-size="24.6">1.010</text>
<text x="862.4" y="287.3" font-size="24.6">1.005</text>
<text x="862.4" y="349.9" font-size="24.6">1.000</text>
<text x="863.3" y="412.5" font-size="24.6">0.995</text>
<text x="863.3" y="472.6" font-size="24.6">0.990</text>
<path stroke="#000" stroke-width="2" d="M835 152.7H854M835 215.1H854M835 277.7H854M835 340.3H854M835 402.9H854M835 463H854"/>
<text x="647" y="34" font-size="42" textLength="26.46" lengthAdjust="spacingAndGlyphs">ρ</text>
<text x="673.6" y="34" font-size="44" textLength="12.90" lengthAdjust="spacingAndGlyphs">/</text>
<text x="685.4" y="34" font-size="42" textLength="26.46" lengthAdjust="spacingAndGlyphs">ρ</text>
<text x="711.3" y="50" font-size="29" textLength="16.17" lengthAdjust="spacingAndGlyphs">0</text>
<text x="808.2" y="34" font-size="42" textLength="26.46" lengthAdjust="spacingAndGlyphs">ρ</text>
<text x="834.8" y="34" font-size="44" textLength="12.90" lengthAdjust="spacingAndGlyphs">/</text>
<text x="846.6" y="34" font-size="42" textLength="26.46" lengthAdjust="spacingAndGlyphs">ρ</text>
<text x="872.5" y="50" font-size="29" textLength="16.17" lengthAdjust="spacingAndGlyphs">0</text>
<text x="619" y="104.4" font-size="34.5" textLength="20.96" lengthAdjust="spacingAndGlyphs">T</text>
<text x="647.4" y="104.4" font-size="34.5" textLength="20.31" lengthAdjust="spacingAndGlyphs">&lt;</text>
<text x="675.7" y="104.4" font-size="34.5" textLength="46.05" lengthAdjust="spacingAndGlyphs">3.5</text>
<text x="729" y="104.4" font-size="34.5" textLength="23.48" lengthAdjust="spacingAndGlyphs">K</text>
<text x="789.1" y="104.5" font-size="34.5" textLength="20.85" lengthAdjust="spacingAndGlyphs">T</text>
<text x="809.2" y="104.5" font-size="34.5" textLength="19.47" lengthAdjust="spacingAndGlyphs">&gt;</text>
<text x="828.8" y="104.5" font-size="34.5" textLength="45.84" lengthAdjust="spacingAndGlyphs">3.5</text>
<text x="882.1" y="104.5" font-size="34.5" textLength="23.37" lengthAdjust="spacingAndGlyphs">K</text>
</svg></body></html>
